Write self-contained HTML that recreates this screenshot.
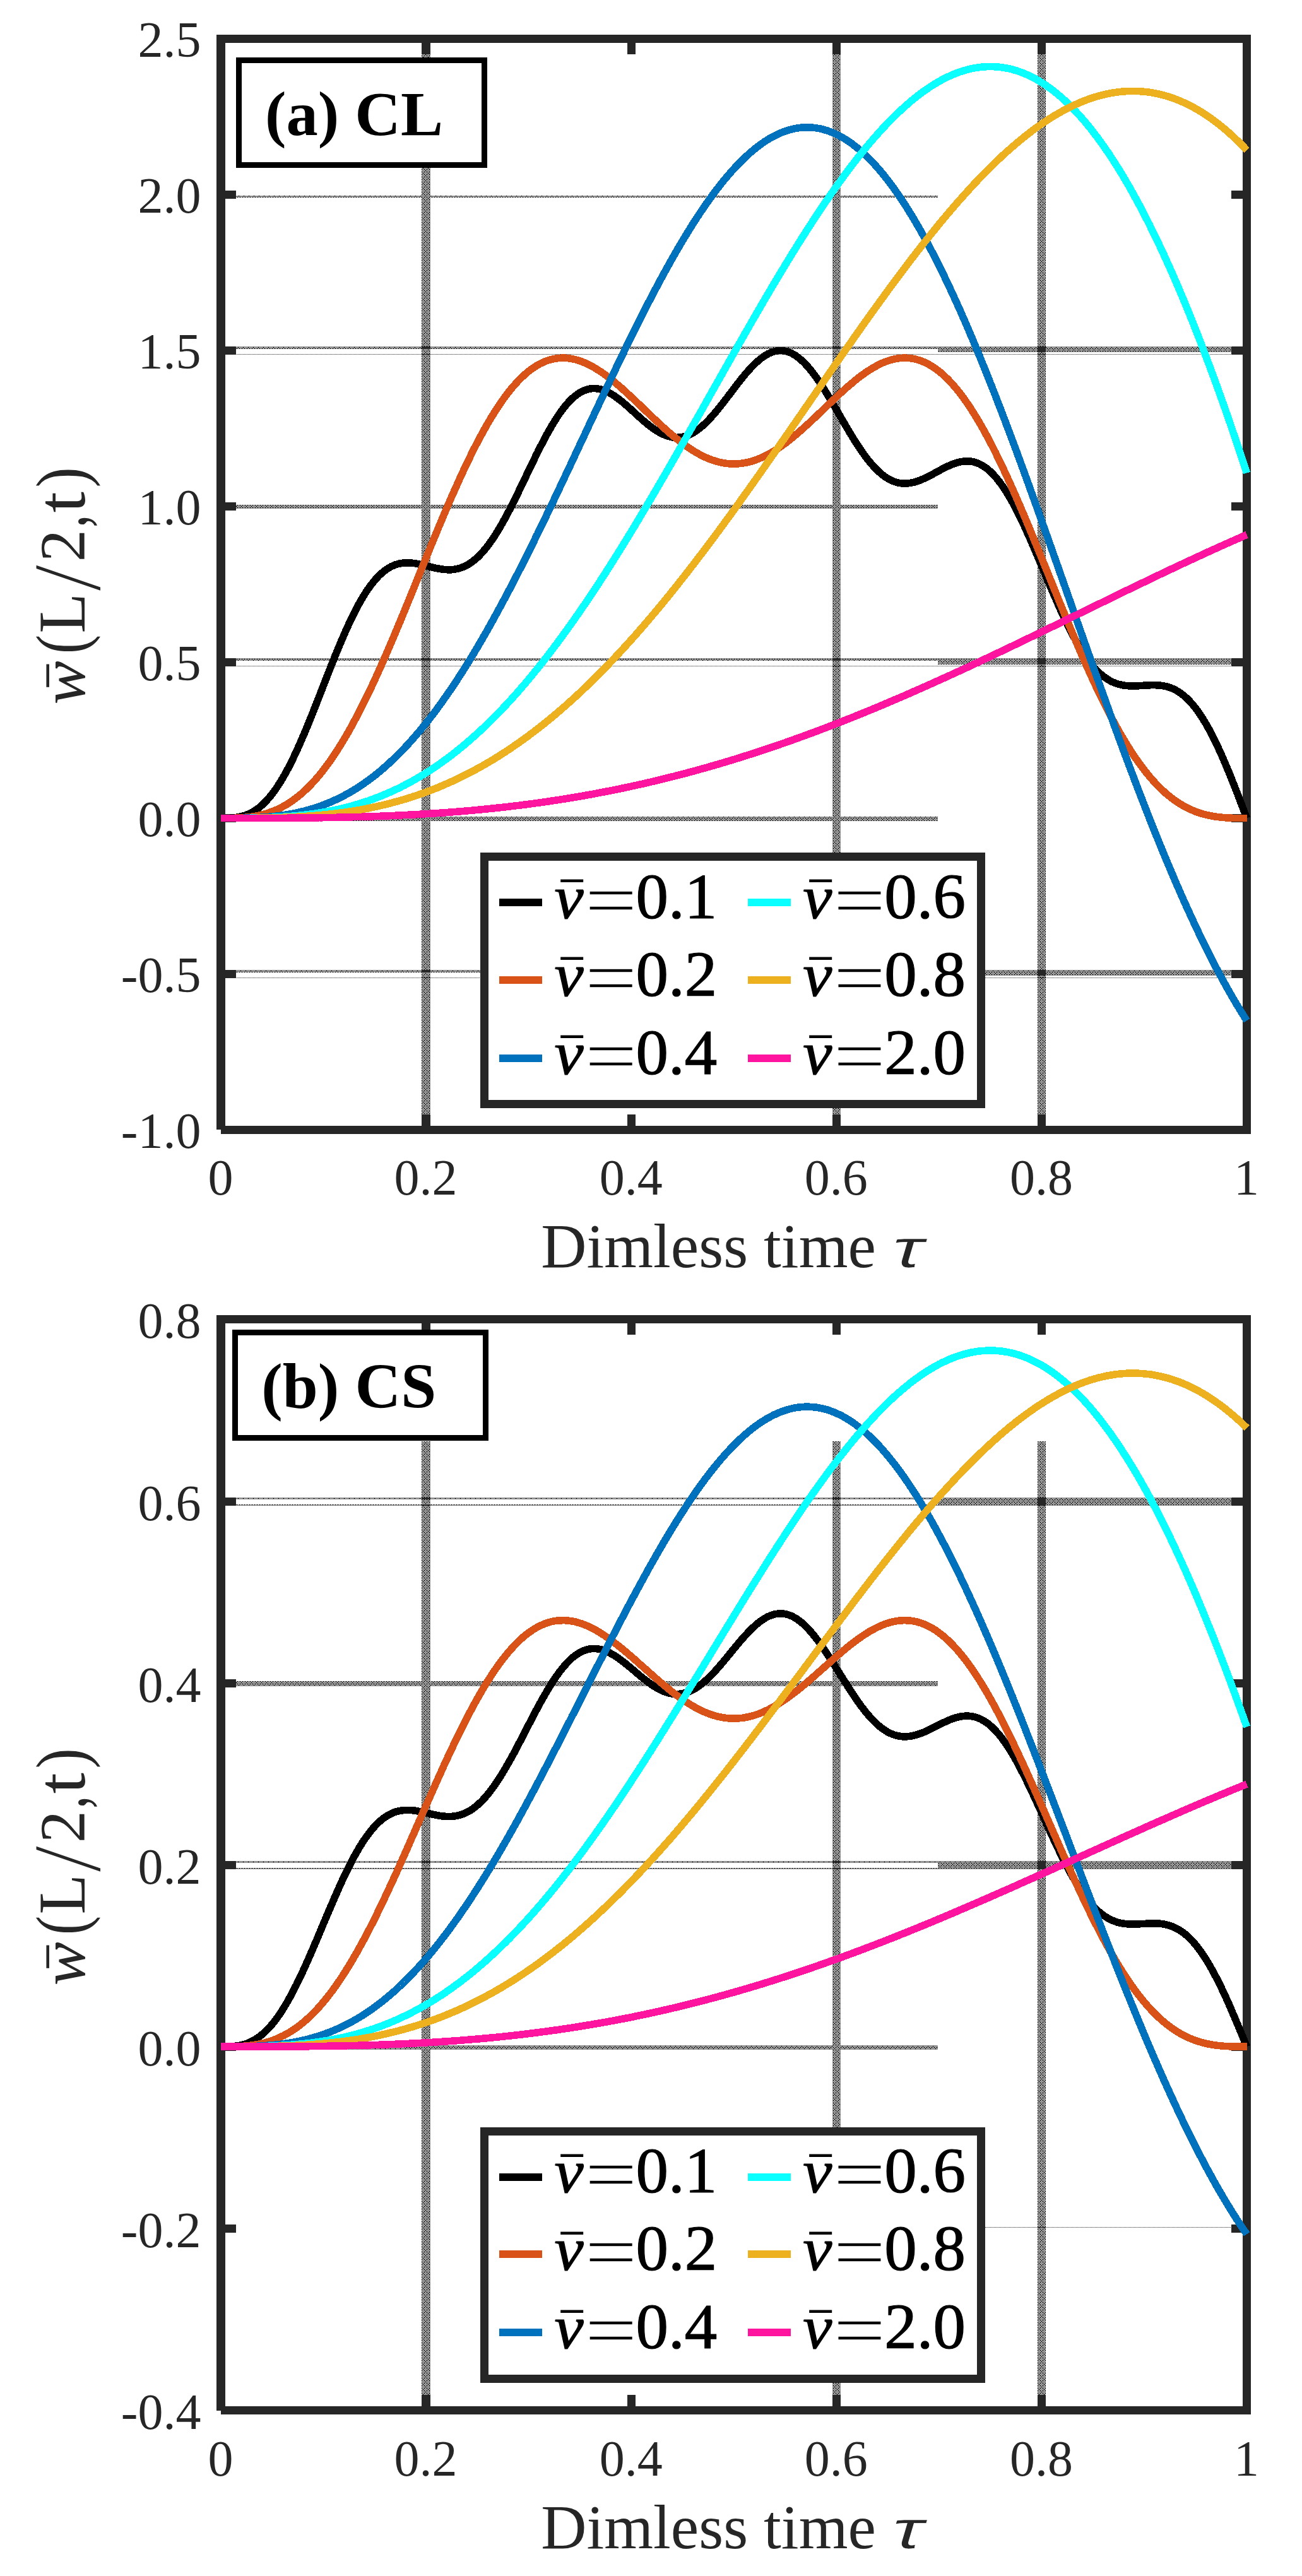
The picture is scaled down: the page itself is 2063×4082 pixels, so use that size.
<!DOCTYPE html>
<html lang="en"><head><meta charset="utf-8"><title>Midspan deflection</title>
<style>html,body{margin:0;padding:0;background:#fff}body{width:2063px;height:4082px;overflow:hidden}</style></head>
<body>
<svg width="2063" height="4082" viewBox="0 0 2063 4082" style="display:block">
<defs>
<pattern id="pA" width="8" height="8" patternUnits="userSpaceOnUse"><path d="M0 0h1v1h-1zM1 0h1v1h-1zM3 0h1v1h-1zM4 0h1v1h-1zM5 0h1v1h-1zM7 0h1v1h-1zM0 1h1v1h-1zM2 1h1v1h-1zM4 1h1v1h-1zM6 1h1v1h-1zM1 2h1v1h-1zM3 2h1v1h-1zM5 2h1v1h-1zM6 2h1v1h-1zM7 2h1v1h-1zM0 3h1v1h-1zM2 3h1v1h-1zM4 3h1v1h-1zM6 3h1v1h-1zM0 4h1v1h-1zM1 4h1v1h-1zM3 4h1v1h-1zM4 4h1v1h-1zM5 4h1v1h-1zM7 4h1v1h-1zM0 5h1v1h-1zM2 5h1v1h-1zM4 5h1v1h-1zM6 5h1v1h-1zM1 6h1v1h-1zM2 6h1v1h-1zM3 6h1v1h-1zM5 6h1v1h-1zM7 6h1v1h-1zM0 7h1v1h-1zM2 7h1v1h-1zM4 7h1v1h-1zM6 7h1v1h-1z" fill="#262626"/></pattern>
<pattern id="pB" width="8" height="8" patternUnits="userSpaceOnUse"><path d="M0 0h1v1h-1zM2 0h1v1h-1zM3 0h1v1h-1zM4 0h1v1h-1zM6 0h1v1h-1zM7 0h1v1h-1zM1 1h1v1h-1zM3 1h1v1h-1zM5 1h1v1h-1zM7 1h1v1h-1zM0 2h1v1h-1zM2 2h1v1h-1zM4 2h1v1h-1zM5 2h1v1h-1zM6 2h1v1h-1zM1 3h1v1h-1zM3 3h1v1h-1zM5 3h1v1h-1zM7 3h1v1h-1zM0 4h1v1h-1zM2 4h1v1h-1zM3 4h1v1h-1zM4 4h1v1h-1zM6 4h1v1h-1zM7 4h1v1h-1zM1 5h1v1h-1zM3 5h1v1h-1zM5 5h1v1h-1zM7 5h1v1h-1zM0 6h1v1h-1zM1 6h1v1h-1zM2 6h1v1h-1zM4 6h1v1h-1zM6 6h1v1h-1zM1 7h1v1h-1zM3 7h1v1h-1zM5 7h1v1h-1zM7 7h1v1h-1z" fill="#262626"/></pattern>
</defs>
<rect x="0" y="0" width="2063" height="4082" fill="#fff" />
<g shape-rendering="crispEdges">
<rect x="668" y="68" width="14" height="1716" fill="url(#pA)" />
<rect x="1319" y="68" width="13" height="1716" fill="url(#pA)" />
<rect x="1644" y="68" width="13" height="1716" fill="url(#pA)" />
<rect x="357" y="310" width="1129" height="3" fill="url(#pA)" />
<rect x="357" y="549" width="1129" height="4" fill="url(#pB)" />
<rect x="1486" y="549" width="483" height="9" fill="url(#pB)" />
<rect x="357" y="561" width="1612" height="1" fill="url(#pB)" />
<rect x="357" y="800" width="1129" height="6" fill="url(#pA)" />
<rect x="357" y="1043" width="1129" height="4" fill="url(#pB)" />
<rect x="1486" y="1043" width="483" height="10" fill="url(#pB)" />
<rect x="357" y="1055" width="1612" height="1" fill="url(#pB)" />
<rect x="357" y="1294" width="1129" height="7" fill="url(#pA)" />
<rect x="357" y="1537" width="1129" height="4" fill="url(#pB)" />
<rect x="1486" y="1537" width="483" height="9" fill="url(#pB)" />
<rect x="357" y="1549" width="1612" height="1" fill="url(#pB)" />
<rect x="668" y="2284" width="14" height="1529" fill="url(#pA)" />
<rect x="1319" y="2284" width="13" height="1529" fill="url(#pA)" />
<rect x="1644" y="2284" width="13" height="1529" fill="url(#pA)" />
<rect x="357" y="2373" width="1129" height="3" fill="url(#pB)" />
<rect x="357" y="2384" width="1129" height="2" fill="url(#pB)" />
<rect x="1486" y="2373" width="483" height="13" fill="url(#pB)" />
<rect x="357" y="2664" width="1129" height="8" fill="url(#pA)" />
<rect x="357" y="2949" width="1129" height="3" fill="url(#pB)" />
<rect x="357" y="2960" width="1129" height="2" fill="url(#pB)" />
<rect x="1486" y="2949" width="483" height="13" fill="url(#pB)" />
<rect x="357" y="3241" width="1129" height="7" fill="url(#pA)" />
<rect x="1561" y="3529" width="408" height="1" fill="url(#pB)" />
</g>
<g shape-rendering="crispEdges" fill="#262626">
<rect x="343" y="55" width="1639" height="13" fill="#262626" />
<rect x="350" y="1784" width="1632" height="13" fill="#262626" />
<rect x="343" y="55" width="14" height="1735" fill="#262626" />
<rect x="1969" y="55" width="13" height="1742" fill="#262626" />
<rect x="668" y="68" width="14" height="18" fill="#262626" />
<rect x="668" y="1766" width="14" height="18" fill="#262626" />
<rect x="994" y="68" width="13" height="18" fill="#262626" />
<rect x="994" y="1766" width="13" height="18" fill="#262626" />
<rect x="1319" y="68" width="13" height="18" fill="#262626" />
<rect x="1319" y="1766" width="13" height="18" fill="#262626" />
<rect x="1644" y="68" width="13" height="18" fill="#262626" />
<rect x="1644" y="1766" width="13" height="18" fill="#262626" />
<rect x="357" y="302" width="17" height="13" fill="#262626" />
<rect x="1951" y="302" width="18" height="13" fill="#262626" />
<rect x="357" y="549" width="17" height="13" fill="#262626" />
<rect x="1951" y="549" width="18" height="13" fill="#262626" />
<rect x="357" y="796" width="17" height="13" fill="#262626" />
<rect x="1951" y="796" width="18" height="13" fill="#262626" />
<rect x="357" y="1043" width="17" height="13" fill="#262626" />
<rect x="1951" y="1043" width="18" height="13" fill="#262626" />
<rect x="357" y="1290" width="17" height="13" fill="#262626" />
<rect x="1951" y="1290" width="18" height="13" fill="#262626" />
<rect x="357" y="1537" width="17" height="13" fill="#262626" />
<rect x="1951" y="1537" width="18" height="13" fill="#262626" />
</g>
<g shape-rendering="crispEdges" fill="#262626">
<rect x="343" y="2084" width="1639" height="13" fill="#262626" />
<rect x="350" y="3813" width="1632" height="13" fill="#262626" />
<rect x="343" y="2084" width="14" height="1736" fill="#262626" />
<rect x="1969" y="2084" width="13" height="1742" fill="#262626" />
<rect x="668" y="2097" width="14" height="18" fill="#262626" />
<rect x="668" y="3795" width="14" height="18" fill="#262626" />
<rect x="994" y="2097" width="13" height="18" fill="#262626" />
<rect x="994" y="3795" width="13" height="18" fill="#262626" />
<rect x="1319" y="2097" width="13" height="18" fill="#262626" />
<rect x="1319" y="3795" width="13" height="18" fill="#262626" />
<rect x="1644" y="2097" width="13" height="18" fill="#262626" />
<rect x="1644" y="3795" width="13" height="18" fill="#262626" />
<rect x="357" y="2373" width="17" height="13" fill="#262626" />
<rect x="1951" y="2373" width="18" height="13" fill="#262626" />
<rect x="357" y="2661" width="17" height="13" fill="#262626" />
<rect x="1951" y="2661" width="18" height="13" fill="#262626" />
<rect x="357" y="2949" width="17" height="13" fill="#262626" />
<rect x="1951" y="2949" width="18" height="13" fill="#262626" />
<rect x="357" y="3237" width="17" height="13" fill="#262626" />
<rect x="1951" y="3237" width="18" height="13" fill="#262626" />
<rect x="357" y="3525" width="17" height="13" fill="#262626" />
<rect x="1951" y="3525" width="18" height="13" fill="#262626" />
</g>
<g>
<polyline points="350.0,1296.5 352.0,1296.5 354.1,1296.5 356.1,1296.5 358.1,1296.5 360.2,1296.4 362.2,1296.4 364.2,1296.3 366.3,1296.2 368.3,1296.0 370.3,1295.8 372.4,1295.6 374.4,1295.3 376.4,1295.0 378.4,1294.7 380.5,1294.2 382.5,1293.8 384.5,1293.2 386.6,1292.6 388.6,1292.0 390.6,1291.2 392.7,1290.4 394.7,1289.5 396.7,1288.6 398.8,1287.5 400.8,1286.4 402.8,1285.2 404.9,1283.9 406.9,1282.5 408.9,1281.0 411.0,1279.4 413.0,1277.7 415.0,1275.9 417.1,1274.1 419.1,1272.1 421.1,1270.0 423.1,1267.8 425.2,1265.5 427.2,1263.2 429.2,1260.7 431.3,1258.1 433.3,1255.4 435.3,1252.6 437.4,1249.7 439.4,1246.7 441.4,1243.6 443.5,1240.4 445.5,1237.1 447.5,1233.7 449.6,1230.2 451.6,1226.6 453.6,1222.9 455.7,1219.1 457.7,1215.3 459.7,1211.3 461.8,1207.2 463.8,1203.1 465.8,1198.9 467.8,1194.6 469.9,1190.2 471.9,1185.8 473.9,1181.2 476.0,1176.6 478.0,1172.0 480.0,1167.3 482.1,1162.5 484.1,1157.6 486.1,1152.8 488.2,1147.8 490.2,1142.8 492.2,1137.8 494.3,1132.8 496.3,1127.7 498.3,1122.5 500.4,1117.4 502.4,1112.2 504.4,1107.0 506.5,1101.8 508.5,1096.6 510.5,1091.4 512.5,1086.2 514.6,1081.0 516.6,1075.8 518.6,1070.6 520.7,1065.4 522.7,1060.3 524.7,1055.1 526.8,1050.0 528.8,1045.0 530.8,1039.9 532.9,1034.9 534.9,1030.0 536.9,1025.1 539.0,1020.2 541.0,1015.4 543.0,1010.7 545.1,1006.0 547.1,1001.4 549.1,996.8 551.2,992.4 553.2,988.0 555.2,983.6 557.3,979.4 559.3,975.2 561.3,971.2 563.3,967.2 565.4,963.3 567.4,959.5 569.4,955.8 571.5,952.2 573.5,948.7 575.5,945.3 577.6,942.0 579.6,938.8 581.6,935.7 583.7,932.8 585.7,929.9 587.7,927.1 589.8,924.5 591.8,921.9 593.8,919.5 595.9,917.2 597.9,915.0 599.9,912.8 602.0,910.8 604.0,909.0 606.0,907.2 608.0,905.5 610.1,903.9 612.1,902.5 614.1,901.1 616.2,899.9 618.2,898.7 620.2,897.6 622.3,896.7 624.3,895.8 626.3,895.0 628.4,894.3 630.4,893.7 632.4,893.2 634.5,892.8 636.5,892.5 638.5,892.2 640.6,892.0 642.6,891.9 644.6,891.8 646.7,891.8 648.7,891.9 650.7,892.0 652.7,892.2 654.8,892.4 656.8,892.6 658.8,893.0 660.9,893.3 662.9,893.7 664.9,894.1 667.0,894.6 669.0,895.0 671.0,895.5 673.1,896.0 675.1,896.5 677.1,897.0 679.2,897.5 681.2,898.0 683.2,898.5 685.3,899.0 687.3,899.5 689.3,900.0 691.4,900.4 693.4,900.8 695.4,901.2 697.5,901.6 699.5,901.9 701.5,902.2 703.5,902.4 705.6,902.6 707.6,902.7 709.6,902.8 711.7,902.8 713.7,902.8 715.7,902.7 717.8,902.5 719.8,902.2 721.8,901.9 723.9,901.5 725.9,901.0 727.9,900.5 730.0,899.9 732.0,899.1 734.0,898.3 736.1,897.4 738.1,896.4 740.1,895.4 742.2,894.2 744.2,892.9 746.2,891.6 748.2,890.1 750.3,888.6 752.3,886.9 754.3,885.2 756.4,883.4 758.4,881.4 760.4,879.4 762.5,877.2 764.5,875.0 766.5,872.7 768.6,870.3 770.6,867.8 772.6,865.1 774.7,862.4 776.7,859.6 778.7,856.8 780.8,853.8 782.8,850.7 784.8,847.6 786.9,844.4 788.9,841.1 790.9,837.7 792.9,834.3 795.0,830.7 797.0,827.1 799.0,823.5 801.1,819.8 803.1,816.0 805.1,812.1 807.2,808.3 809.2,804.3 811.2,800.3 813.3,796.3 815.3,792.2 817.3,788.1 819.4,784.0 821.4,779.8 823.4,775.6 825.5,771.4 827.5,767.2 829.5,762.9 831.6,758.7 833.6,754.4 835.6,750.2 837.6,745.9 839.7,741.7 841.7,737.5 843.7,733.3 845.8,729.1 847.8,724.9 849.8,720.8 851.9,716.7 853.9,712.6 855.9,708.6 858.0,704.6 860.0,700.7 862.0,696.8 864.1,693.0 866.1,689.2 868.1,685.5 870.2,681.9 872.2,678.4 874.2,674.9 876.3,671.5 878.3,668.1 880.3,664.9 882.4,661.7 884.4,658.7 886.4,655.7 888.4,652.8 890.5,650.0 892.5,647.3 894.5,644.7 896.6,642.3 898.6,639.9 900.6,637.6 902.7,635.4 904.7,633.4 906.7,631.4 908.8,629.6 910.8,627.9 912.8,626.3 914.9,624.8 916.9,623.4 918.9,622.1 921.0,620.9 923.0,619.9 925.0,619.0 927.1,618.2 929.1,617.5 931.1,616.9 933.1,616.4 935.2,616.0 937.2,615.8 939.2,615.6 941.3,615.6 943.3,615.6 945.3,615.8 947.4,616.1 949.4,616.4 951.4,616.9 953.5,617.4 955.5,618.1 957.5,618.8 959.6,619.7 961.6,620.6 963.6,621.6 965.7,622.6 967.7,623.8 969.7,625.0 971.8,626.3 973.8,627.6 975.8,629.0 977.8,630.5 979.9,632.0 981.9,633.6 983.9,635.2 986.0,636.8 988.0,638.5 990.0,640.3 992.1,642.0 994.1,643.8 996.1,645.6 998.2,647.4 1000.2,649.3 1002.2,651.1 1004.3,653.0 1006.3,654.9 1008.3,656.7 1010.4,658.6 1012.4,660.4 1014.4,662.2 1016.5,664.0 1018.5,665.8 1020.5,667.6 1022.6,669.3 1024.6,671.0 1026.6,672.6 1028.6,674.3 1030.7,675.8 1032.7,677.4 1034.7,678.8 1036.8,680.2 1038.8,681.6 1040.8,682.9 1042.9,684.1 1044.9,685.3 1046.9,686.4 1049.0,687.4 1051.0,688.4 1053.0,689.2 1055.1,690.0 1057.1,690.8 1059.1,691.4 1061.2,691.9 1063.2,692.4 1065.2,692.8 1067.3,693.0 1069.3,693.2 1071.3,693.3 1073.3,693.3 1075.4,693.2 1077.4,693.1 1079.4,692.8 1081.5,692.4 1083.5,691.9 1085.5,691.4 1087.6,690.7 1089.6,690.0 1091.6,689.1 1093.7,688.2 1095.7,687.2 1097.7,686.1 1099.8,684.9 1101.8,683.6 1103.8,682.2 1105.9,680.7 1107.9,679.2 1109.9,677.5 1112.0,675.8 1114.0,674.1 1116.0,672.2 1118.0,670.3 1120.1,668.3 1122.1,666.2 1124.1,664.1 1126.2,661.9 1128.2,659.6 1130.2,657.3 1132.3,655.0 1134.3,652.6 1136.3,650.1 1138.4,647.6 1140.4,645.1 1142.4,642.5 1144.5,640.0 1146.5,637.3 1148.5,634.7 1150.6,632.1 1152.6,629.4 1154.6,626.7 1156.7,624.0 1158.7,621.3 1160.7,618.7 1162.8,616.0 1164.8,613.3 1166.8,610.7 1168.8,608.0 1170.9,605.4 1172.9,602.8 1174.9,600.3 1177.0,597.8 1179.0,595.3 1181.0,592.8 1183.1,590.5 1185.1,588.1 1187.1,585.8 1189.2,583.6 1191.2,581.4 1193.2,579.4 1195.3,577.3 1197.3,575.4 1199.3,573.5 1201.4,571.7 1203.4,570.0 1205.4,568.3 1207.5,566.8 1209.5,565.3 1211.5,563.9 1213.5,562.7 1215.6,561.5 1217.6,560.4 1219.6,559.5 1221.7,558.6 1223.7,557.8 1225.7,557.2 1227.8,556.6 1229.8,556.2 1231.8,555.9 1233.9,555.7 1235.9,555.6 1237.9,555.6 1240.0,555.7 1242.0,555.9 1244.0,556.3 1246.1,556.8 1248.1,557.4 1250.1,558.1 1252.2,558.9 1254.2,559.8 1256.2,560.9 1258.2,562.0 1260.3,563.3 1262.3,564.7 1264.3,566.2 1266.4,567.8 1268.4,569.5 1270.4,571.3 1272.5,573.2 1274.5,575.2 1276.5,577.3 1278.6,579.5 1280.6,581.8 1282.6,584.2 1284.7,586.7 1286.7,589.2 1288.7,591.9 1290.8,594.6 1292.8,597.4 1294.8,600.2 1296.9,603.1 1298.9,606.1 1300.9,609.2 1302.9,612.3 1305.0,615.5 1307.0,618.7 1309.0,622.0 1311.1,625.3 1313.1,628.6 1315.1,632.0 1317.2,635.4 1319.2,638.9 1321.2,642.3 1323.3,645.8 1325.3,649.3 1327.3,652.8 1329.4,656.3 1331.4,659.8 1333.4,663.3 1335.5,666.8 1337.5,670.3 1339.5,673.8 1341.6,677.2 1343.6,680.7 1345.6,684.1 1347.7,687.5 1349.7,690.8 1351.7,694.1 1353.7,697.4 1355.8,700.6 1357.8,703.8 1359.8,706.9 1361.9,709.9 1363.9,713.0 1365.9,715.9 1368.0,718.8 1370.0,721.6 1372.0,724.3 1374.1,727.0 1376.1,729.6 1378.1,732.1 1380.2,734.5 1382.2,736.9 1384.2,739.2 1386.3,741.4 1388.3,743.5 1390.3,745.5 1392.4,747.4 1394.4,749.2 1396.4,750.9 1398.4,752.6 1400.5,754.1 1402.5,755.6 1404.5,756.9 1406.6,758.2 1408.6,759.4 1410.6,760.4 1412.7,761.4 1414.7,762.3 1416.7,763.1 1418.8,763.8 1420.8,764.4 1422.8,764.9 1424.9,765.3 1426.9,765.6 1428.9,765.9 1431.0,766.0 1433.0,766.1 1435.0,766.1 1437.1,766.0 1439.1,765.8 1441.1,765.6 1443.1,765.2 1445.2,764.8 1447.2,764.4 1449.2,763.9 1451.3,763.3 1453.3,762.6 1455.3,761.9 1457.4,761.2 1459.4,760.4 1461.4,759.5 1463.5,758.6 1465.5,757.7 1467.5,756.7 1469.6,755.7 1471.6,754.7 1473.6,753.6 1475.7,752.6 1477.7,751.5 1479.7,750.4 1481.8,749.3 1483.8,748.2 1485.8,747.1 1487.8,745.9 1489.9,744.8 1491.9,743.8 1493.9,742.7 1496.0,741.7 1498.0,740.6 1500.0,739.6 1502.1,738.7 1504.1,737.8 1506.1,736.9 1508.2,736.0 1510.2,735.2 1512.2,734.5 1514.3,733.8 1516.3,733.2 1518.3,732.6 1520.4,732.1 1522.4,731.7 1524.4,731.4 1526.5,731.1 1528.5,730.9 1530.5,730.8 1532.6,730.8 1534.6,730.8 1536.6,731.0 1538.6,731.2 1540.7,731.6 1542.7,732.0 1544.7,732.5 1546.8,733.2 1548.8,733.9 1550.8,734.7 1552.9,735.7 1554.9,736.8 1556.9,737.9 1559.0,739.2 1561.0,740.6 1563.0,742.1 1565.1,743.7 1567.1,745.4 1569.1,747.2 1571.2,749.2 1573.2,751.2 1575.2,753.4 1577.3,755.7 1579.3,758.1 1581.3,760.6 1583.3,763.2 1585.4,765.9 1587.4,768.8 1589.4,771.7 1591.5,774.7 1593.5,777.9 1595.5,781.1 1597.6,784.4 1599.6,787.9 1601.6,791.4 1603.7,795.0 1605.7,798.7 1607.7,802.5 1609.8,806.4 1611.8,810.4 1613.8,814.4 1615.9,818.5 1617.9,822.7 1619.9,827.0 1622.0,831.3 1624.0,835.7 1626.0,840.1 1628.0,844.6 1630.1,849.2 1632.1,853.7 1634.1,858.4 1636.2,863.0 1638.2,867.8 1640.2,872.5 1642.3,877.3 1644.3,882.0 1646.3,886.8 1648.4,891.7 1650.4,896.5 1652.4,901.3 1654.5,906.2 1656.5,911.0 1658.5,915.8 1660.6,920.7 1662.6,925.5 1664.6,930.3 1666.7,935.0 1668.7,939.8 1670.7,944.5 1672.8,949.1 1674.8,953.8 1676.8,958.4 1678.8,962.9 1680.9,967.4 1682.9,971.9 1684.9,976.2 1687.0,980.6 1689.0,984.8 1691.0,989.0 1693.1,993.2 1695.1,997.2 1697.1,1001.2 1699.2,1005.1 1701.2,1009.0 1703.2,1012.7 1705.3,1016.4 1707.3,1020.0 1709.3,1023.5 1711.4,1026.9 1713.4,1030.2 1715.4,1033.4 1717.5,1036.5 1719.5,1039.5 1721.5,1042.4 1723.5,1045.3 1725.6,1048.0 1727.6,1050.6 1729.6,1053.2 1731.7,1055.6 1733.7,1057.9 1735.7,1060.2 1737.8,1062.3 1739.8,1064.3 1741.8,1066.3 1743.9,1068.1 1745.9,1069.8 1747.9,1071.5 1750.0,1073.0 1752.0,1074.5 1754.0,1075.8 1756.1,1077.1 1758.1,1078.3 1760.1,1079.4 1762.2,1080.4 1764.2,1081.3 1766.2,1082.1 1768.2,1082.9 1770.3,1083.6 1772.3,1084.2 1774.3,1084.7 1776.4,1085.2 1778.4,1085.6 1780.4,1086.0 1782.5,1086.3 1784.5,1086.5 1786.5,1086.7 1788.6,1086.8 1790.6,1086.9 1792.6,1087.0 1794.7,1087.0 1796.7,1087.0 1798.7,1087.0 1800.8,1086.9 1802.8,1086.8 1804.8,1086.7 1806.9,1086.6 1808.9,1086.5 1810.9,1086.3 1813.0,1086.2 1815.0,1086.1 1817.0,1086.0 1819.0,1085.8 1821.1,1085.8 1823.1,1085.7 1825.1,1085.6 1827.2,1085.6 1829.2,1085.6 1831.2,1085.7 1833.3,1085.7 1835.3,1085.9 1837.3,1086.0 1839.4,1086.3 1841.4,1086.5 1843.4,1086.9 1845.5,1087.3 1847.5,1087.7 1849.5,1088.2 1851.6,1088.8 1853.6,1089.5 1855.6,1090.3 1857.7,1091.1 1859.7,1092.0 1861.7,1093.0 1863.7,1094.1 1865.8,1095.2 1867.8,1096.5 1869.8,1097.9 1871.9,1099.3 1873.9,1100.9 1875.9,1102.5 1878.0,1104.3 1880.0,1106.1 1882.0,1108.1 1884.1,1110.1 1886.1,1112.3 1888.1,1114.6 1890.2,1116.9 1892.2,1119.4 1894.2,1122.0 1896.3,1124.7 1898.3,1127.5 1900.3,1130.4 1902.4,1133.4 1904.4,1136.5 1906.4,1139.7 1908.4,1143.1 1910.5,1146.5 1912.5,1150.0 1914.5,1153.6 1916.6,1157.4 1918.6,1161.2 1920.6,1165.1 1922.7,1169.1 1924.7,1173.2 1926.7,1177.4 1928.8,1181.7 1930.8,1186.0 1932.8,1190.5 1934.9,1195.0 1936.9,1199.6 1938.9,1204.2 1941.0,1209.0 1943.0,1213.8 1945.0,1218.6 1947.1,1223.5 1949.1,1228.5 1951.1,1233.5 1953.1,1238.6 1955.2,1243.7 1957.2,1248.9 1959.2,1254.1 1961.3,1259.3 1963.3,1264.6 1965.3,1269.9 1967.4,1275.2 1969.4,1280.5 1971.4,1285.8 1973.5,1291.2 1975.5,1296.5" fill="none" stroke="#000000" stroke-width="11.6" stroke-linejoin="round" stroke-linecap="butt" shape-rendering="crispEdges"/>
<polyline points="350.0,1296.5 352.0,1296.5 354.1,1296.5 356.1,1296.5 358.1,1296.5 360.2,1296.5 362.2,1296.5 364.2,1296.4 366.3,1296.4 368.3,1296.4 370.3,1296.3 372.4,1296.3 374.4,1296.2 376.4,1296.1 378.4,1296.0 380.5,1295.9 382.5,1295.8 384.5,1295.7 386.6,1295.5 388.6,1295.3 390.6,1295.2 392.7,1294.9 394.7,1294.7 396.7,1294.5 398.8,1294.2 400.8,1293.9 402.8,1293.6 404.9,1293.2 406.9,1292.8 408.9,1292.4 411.0,1292.0 413.0,1291.5 415.0,1291.0 417.1,1290.5 419.1,1290.0 421.1,1289.4 423.1,1288.8 425.2,1288.1 427.2,1287.4 429.2,1286.7 431.3,1286.0 433.3,1285.2 435.3,1284.3 437.4,1283.5 439.4,1282.6 441.4,1281.6 443.5,1280.6 445.5,1279.6 447.5,1278.5 449.6,1277.4 451.6,1276.3 453.6,1275.1 455.7,1273.9 457.7,1272.6 459.7,1271.3 461.8,1269.9 463.8,1268.5 465.8,1267.0 467.8,1265.5 469.9,1263.9 471.9,1262.3 473.9,1260.7 476.0,1259.0 478.0,1257.3 480.0,1255.5 482.1,1253.6 484.1,1251.7 486.1,1249.8 488.2,1247.8 490.2,1245.8 492.2,1243.7 494.3,1241.5 496.3,1239.3 498.3,1237.1 500.4,1234.8 502.4,1232.5 504.4,1230.1 506.5,1227.6 508.5,1225.1 510.5,1222.6 512.5,1220.0 514.6,1217.3 516.6,1214.6 518.6,1211.9 520.7,1209.1 522.7,1206.3 524.7,1203.4 526.8,1200.4 528.8,1197.4 530.8,1194.4 532.9,1191.3 534.9,1188.1 536.9,1184.9 539.0,1181.7 541.0,1178.4 543.0,1175.0 545.1,1171.6 547.1,1168.2 549.1,1164.7 551.2,1161.2 553.2,1157.6 555.2,1154.0 557.3,1150.3 559.3,1146.6 561.3,1142.8 563.3,1139.0 565.4,1135.2 567.4,1131.3 569.4,1127.4 571.5,1123.4 573.5,1119.4 575.5,1115.3 577.6,1111.2 579.6,1107.1 581.6,1102.9 583.7,1098.7 585.7,1094.5 587.7,1090.2 589.8,1085.9 591.8,1081.5 593.8,1077.1 595.9,1072.7 597.9,1068.3 599.9,1063.8 602.0,1059.3 604.0,1054.7 606.0,1050.1 608.0,1045.5 610.1,1040.9 612.1,1036.3 614.1,1031.6 616.2,1026.9 618.2,1022.1 620.2,1017.4 622.3,1012.6 624.3,1007.8 626.3,1003.0 628.4,998.1 630.4,993.3 632.4,988.4 634.5,983.5 636.5,978.6 638.5,973.7 640.6,968.8 642.6,963.8 644.6,958.9 646.7,953.9 648.7,948.9 650.7,944.0 652.7,939.0 654.8,934.0 656.8,929.0 658.8,924.0 660.9,919.0 662.9,914.0 664.9,909.0 667.0,904.0 669.0,899.0 671.0,894.0 673.1,889.0 675.1,884.0 677.1,879.0 679.2,874.0 681.2,869.1 683.2,864.1 685.3,859.2 687.3,854.2 689.3,849.3 691.4,844.4 693.4,839.5 695.4,834.6 697.5,829.8 699.5,824.9 701.5,820.1 703.5,815.3 705.6,810.5 707.6,805.8 709.6,801.1 711.7,796.3 713.7,791.7 715.7,787.0 717.8,782.4 719.8,777.8 721.8,773.2 723.9,768.7 725.9,764.2 727.9,759.7 730.0,755.3 732.0,750.9 734.0,746.5 736.1,742.1 738.1,737.9 740.1,733.6 742.2,729.4 744.2,725.2 746.2,721.1 748.2,717.0 750.3,712.9 752.3,708.9 754.3,704.9 756.4,701.0 758.4,697.1 760.4,693.3 762.5,689.5 764.5,685.8 766.5,682.1 768.6,678.5 770.6,674.9 772.6,671.4 774.7,667.9 776.7,664.5 778.7,661.1 780.8,657.8 782.8,654.5 784.8,651.3 786.9,648.1 788.9,645.0 790.9,642.0 792.9,639.0 795.0,636.1 797.0,633.2 799.0,630.4 801.1,627.6 803.1,624.9 805.1,622.3 807.2,619.7 809.2,617.2 811.2,614.7 813.3,612.3 815.3,610.0 817.3,607.7 819.4,605.5 821.4,603.3 823.4,601.3 825.5,599.2 827.5,597.3 829.5,595.4 831.6,593.5 833.6,591.7 835.6,590.0 837.6,588.4 839.7,586.8 841.7,585.3 843.7,583.8 845.8,582.4 847.8,581.1 849.8,579.8 851.9,578.6 853.9,577.4 855.9,576.3 858.0,575.3 860.0,574.4 862.0,573.5 864.1,572.6 866.1,571.8 868.1,571.1 870.2,570.5 872.2,569.9 874.2,569.3 876.3,568.9 878.3,568.5 880.3,568.1 882.4,567.8 884.4,567.6 886.4,567.4 888.4,567.3 890.5,567.2 892.5,567.2 894.5,567.2 896.6,567.3 898.6,567.5 900.6,567.7 902.7,568.0 904.7,568.3 906.7,568.7 908.8,569.1 910.8,569.6 912.8,570.1 914.9,570.7 916.9,571.3 918.9,572.0 921.0,572.7 923.0,573.4 925.0,574.3 927.1,575.1 929.1,576.0 931.1,577.0 933.1,578.0 935.2,579.0 937.2,580.1 939.2,581.2 941.3,582.4 943.3,583.6 945.3,584.8 947.4,586.1 949.4,587.4 951.4,588.7 953.5,590.1 955.5,591.5 957.5,592.9 959.6,594.4 961.6,595.9 963.6,597.5 965.7,599.0 967.7,600.6 969.7,602.2 971.8,603.9 973.8,605.6 975.8,607.3 977.8,609.0 979.9,610.7 981.9,612.5 983.9,614.2 986.0,616.0 988.0,617.9 990.0,619.7 992.1,621.5 994.1,623.4 996.1,625.3 998.2,627.2 1000.2,629.1 1002.2,631.0 1004.3,632.9 1006.3,634.8 1008.3,636.7 1010.4,638.7 1012.4,640.6 1014.4,642.6 1016.5,644.5 1018.5,646.5 1020.5,648.4 1022.6,650.4 1024.6,652.4 1026.6,654.3 1028.6,656.2 1030.7,658.2 1032.7,660.1 1034.7,662.1 1036.8,664.0 1038.8,665.9 1040.8,667.8 1042.9,669.7 1044.9,671.6 1046.9,673.5 1049.0,675.3 1051.0,677.2 1053.0,679.0 1055.1,680.8 1057.1,682.6 1059.1,684.4 1061.2,686.2 1063.2,687.9 1065.2,689.6 1067.3,691.3 1069.3,693.0 1071.3,694.7 1073.3,696.3 1075.4,697.9 1077.4,699.5 1079.4,701.1 1081.5,702.6 1083.5,704.1 1085.5,705.6 1087.6,707.0 1089.6,708.4 1091.6,709.8 1093.7,711.2 1095.7,712.5 1097.7,713.8 1099.8,715.1 1101.8,716.3 1103.8,717.5 1105.9,718.6 1107.9,719.7 1109.9,720.8 1112.0,721.9 1114.0,722.9 1116.0,723.9 1118.0,724.8 1120.1,725.7 1122.1,726.5 1124.1,727.4 1126.2,728.1 1128.2,728.9 1130.2,729.6 1132.3,730.2 1134.3,730.9 1136.3,731.4 1138.4,732.0 1140.4,732.5 1142.4,732.9 1144.5,733.3 1146.5,733.7 1148.5,734.0 1150.6,734.3 1152.6,734.5 1154.6,734.7 1156.7,734.9 1158.7,735.0 1160.7,735.0 1162.8,735.1 1164.8,735.0 1166.8,735.0 1168.8,734.9 1170.9,734.7 1172.9,734.5 1174.9,734.3 1177.0,734.0 1179.0,733.7 1181.0,733.3 1183.1,732.9 1185.1,732.5 1187.1,732.0 1189.2,731.4 1191.2,730.9 1193.2,730.2 1195.3,729.6 1197.3,728.9 1199.3,728.1 1201.4,727.4 1203.4,726.5 1205.4,725.7 1207.5,724.8 1209.5,723.9 1211.5,722.9 1213.5,721.9 1215.6,720.8 1217.6,719.7 1219.6,718.6 1221.7,717.5 1223.7,716.3 1225.7,715.1 1227.8,713.8 1229.8,712.5 1231.8,711.2 1233.9,709.8 1235.9,708.4 1237.9,707.0 1240.0,705.6 1242.0,704.1 1244.0,702.6 1246.1,701.1 1248.1,699.5 1250.1,697.9 1252.2,696.3 1254.2,694.7 1256.2,693.0 1258.2,691.3 1260.3,689.6 1262.3,687.9 1264.3,686.2 1266.4,684.4 1268.4,682.6 1270.4,680.8 1272.5,679.0 1274.5,677.2 1276.5,675.3 1278.6,673.5 1280.6,671.6 1282.6,669.7 1284.7,667.8 1286.7,665.9 1288.7,664.0 1290.8,662.1 1292.8,660.1 1294.8,658.2 1296.9,656.2 1298.9,654.3 1300.9,652.4 1302.9,650.4 1305.0,648.4 1307.0,646.5 1309.0,644.5 1311.1,642.6 1313.1,640.6 1315.1,638.7 1317.2,636.7 1319.2,634.8 1321.2,632.9 1323.3,631.0 1325.3,629.1 1327.3,627.2 1329.4,625.3 1331.4,623.4 1333.4,621.5 1335.5,619.7 1337.5,617.9 1339.5,616.0 1341.6,614.2 1343.6,612.5 1345.6,610.7 1347.7,609.0 1349.7,607.3 1351.7,605.6 1353.7,603.9 1355.8,602.2 1357.8,600.6 1359.8,599.0 1361.9,597.5 1363.9,595.9 1365.9,594.4 1368.0,592.9 1370.0,591.5 1372.0,590.1 1374.1,588.7 1376.1,587.4 1378.1,586.1 1380.2,584.8 1382.2,583.6 1384.2,582.4 1386.3,581.2 1388.3,580.1 1390.3,579.0 1392.4,578.0 1394.4,577.0 1396.4,576.0 1398.4,575.1 1400.5,574.3 1402.5,573.4 1404.5,572.7 1406.6,572.0 1408.6,571.3 1410.6,570.7 1412.7,570.1 1414.7,569.6 1416.7,569.1 1418.8,568.7 1420.8,568.3 1422.8,568.0 1424.9,567.7 1426.9,567.5 1428.9,567.3 1431.0,567.2 1433.0,567.2 1435.0,567.2 1437.1,567.3 1439.1,567.4 1441.1,567.6 1443.1,567.8 1445.2,568.1 1447.2,568.5 1449.2,568.9 1451.3,569.3 1453.3,569.9 1455.3,570.5 1457.4,571.1 1459.4,571.8 1461.4,572.6 1463.5,573.5 1465.5,574.4 1467.5,575.3 1469.6,576.3 1471.6,577.4 1473.6,578.6 1475.7,579.8 1477.7,581.1 1479.7,582.4 1481.8,583.8 1483.8,585.3 1485.8,586.8 1487.8,588.4 1489.9,590.0 1491.9,591.7 1493.9,593.5 1496.0,595.4 1498.0,597.3 1500.0,599.2 1502.1,601.3 1504.1,603.3 1506.1,605.5 1508.2,607.7 1510.2,610.0 1512.2,612.3 1514.3,614.7 1516.3,617.2 1518.3,619.7 1520.4,622.3 1522.4,624.9 1524.4,627.6 1526.5,630.4 1528.5,633.2 1530.5,636.1 1532.6,639.0 1534.6,642.0 1536.6,645.0 1538.6,648.1 1540.7,651.3 1542.7,654.5 1544.7,657.8 1546.8,661.1 1548.8,664.5 1550.8,667.9 1552.9,671.4 1554.9,674.9 1556.9,678.5 1559.0,682.1 1561.0,685.8 1563.0,689.5 1565.1,693.3 1567.1,697.1 1569.1,701.0 1571.2,704.9 1573.2,708.9 1575.2,712.9 1577.3,717.0 1579.3,721.1 1581.3,725.2 1583.3,729.4 1585.4,733.6 1587.4,737.9 1589.4,742.1 1591.5,746.5 1593.5,750.9 1595.5,755.3 1597.6,759.7 1599.6,764.2 1601.6,768.7 1603.7,773.2 1605.7,777.8 1607.7,782.4 1609.8,787.0 1611.8,791.7 1613.8,796.3 1615.9,801.1 1617.9,805.8 1619.9,810.5 1622.0,815.3 1624.0,820.1 1626.0,824.9 1628.0,829.8 1630.1,834.6 1632.1,839.5 1634.1,844.4 1636.2,849.3 1638.2,854.2 1640.2,859.2 1642.3,864.1 1644.3,869.1 1646.3,874.0 1648.4,879.0 1650.4,884.0 1652.4,889.0 1654.5,894.0 1656.5,899.0 1658.5,904.0 1660.6,909.0 1662.6,914.0 1664.6,919.0 1666.7,924.0 1668.7,929.0 1670.7,934.0 1672.8,939.0 1674.8,944.0 1676.8,948.9 1678.8,953.9 1680.9,958.9 1682.9,963.8 1684.9,968.8 1687.0,973.7 1689.0,978.6 1691.0,983.5 1693.1,988.4 1695.1,993.3 1697.1,998.1 1699.2,1003.0 1701.2,1007.8 1703.2,1012.6 1705.3,1017.4 1707.3,1022.1 1709.3,1026.9 1711.4,1031.6 1713.4,1036.3 1715.4,1040.9 1717.5,1045.5 1719.5,1050.1 1721.5,1054.7 1723.5,1059.3 1725.6,1063.8 1727.6,1068.3 1729.6,1072.7 1731.7,1077.1 1733.7,1081.5 1735.7,1085.9 1737.8,1090.2 1739.8,1094.5 1741.8,1098.7 1743.9,1102.9 1745.9,1107.1 1747.9,1111.2 1750.0,1115.3 1752.0,1119.4 1754.0,1123.4 1756.1,1127.4 1758.1,1131.3 1760.1,1135.2 1762.2,1139.0 1764.2,1142.8 1766.2,1146.6 1768.2,1150.3 1770.3,1154.0 1772.3,1157.6 1774.3,1161.2 1776.4,1164.7 1778.4,1168.2 1780.4,1171.6 1782.5,1175.0 1784.5,1178.4 1786.5,1181.7 1788.6,1184.9 1790.6,1188.1 1792.6,1191.3 1794.7,1194.4 1796.7,1197.4 1798.7,1200.4 1800.8,1203.4 1802.8,1206.3 1804.8,1209.1 1806.9,1211.9 1808.9,1214.6 1810.9,1217.3 1813.0,1220.0 1815.0,1222.6 1817.0,1225.1 1819.0,1227.6 1821.1,1230.1 1823.1,1232.5 1825.1,1234.8 1827.2,1237.1 1829.2,1239.3 1831.2,1241.5 1833.3,1243.7 1835.3,1245.8 1837.3,1247.8 1839.4,1249.8 1841.4,1251.7 1843.4,1253.6 1845.5,1255.5 1847.5,1257.3 1849.5,1259.0 1851.6,1260.7 1853.6,1262.3 1855.6,1263.9 1857.7,1265.5 1859.7,1267.0 1861.7,1268.5 1863.7,1269.9 1865.8,1271.3 1867.8,1272.6 1869.8,1273.9 1871.9,1275.1 1873.9,1276.3 1875.9,1277.4 1878.0,1278.5 1880.0,1279.6 1882.0,1280.6 1884.1,1281.6 1886.1,1282.6 1888.1,1283.5 1890.2,1284.3 1892.2,1285.2 1894.2,1286.0 1896.3,1286.7 1898.3,1287.4 1900.3,1288.1 1902.4,1288.8 1904.4,1289.4 1906.4,1290.0 1908.4,1290.5 1910.5,1291.0 1912.5,1291.5 1914.5,1292.0 1916.6,1292.4 1918.6,1292.8 1920.6,1293.2 1922.7,1293.6 1924.7,1293.9 1926.7,1294.2 1928.8,1294.5 1930.8,1294.7 1932.8,1294.9 1934.9,1295.2 1936.9,1295.3 1938.9,1295.5 1941.0,1295.7 1943.0,1295.8 1945.0,1295.9 1947.1,1296.0 1949.1,1296.1 1951.1,1296.2 1953.1,1296.3 1955.2,1296.3 1957.2,1296.4 1959.2,1296.4 1961.3,1296.4 1963.3,1296.5 1965.3,1296.5 1967.4,1296.5 1969.4,1296.5 1971.4,1296.5 1973.5,1296.5 1975.5,1296.5" fill="none" stroke="#D95319" stroke-width="11.6" stroke-linejoin="round" stroke-linecap="butt" shape-rendering="crispEdges"/>
<polyline points="350.0,1296.5 352.0,1296.5 354.1,1296.5 356.1,1296.5 358.1,1296.5 360.2,1296.5 362.2,1296.5 364.2,1296.5 366.3,1296.5 368.3,1296.5 370.3,1296.5 372.4,1296.4 374.4,1296.4 376.4,1296.4 378.4,1296.4 380.5,1296.4 382.5,1296.3 384.5,1296.3 386.6,1296.3 388.6,1296.2 390.6,1296.2 392.7,1296.1 394.7,1296.0 396.7,1296.0 398.8,1295.9 400.8,1295.8 402.8,1295.8 404.9,1295.7 406.9,1295.6 408.9,1295.5 411.0,1295.4 413.0,1295.2 415.0,1295.1 417.1,1295.0 419.1,1294.8 421.1,1294.7 423.1,1294.5 425.2,1294.4 427.2,1294.2 429.2,1294.0 431.3,1293.8 433.3,1293.6 435.3,1293.4 437.4,1293.2 439.4,1292.9 441.4,1292.7 443.5,1292.4 445.5,1292.1 447.5,1291.9 449.6,1291.6 451.6,1291.3 453.6,1290.9 455.7,1290.6 457.7,1290.3 459.7,1289.9 461.8,1289.5 463.8,1289.2 465.8,1288.8 467.8,1288.4 469.9,1287.9 471.9,1287.5 473.9,1287.1 476.0,1286.6 478.0,1286.1 480.0,1285.6 482.1,1285.1 484.1,1284.6 486.1,1284.0 488.2,1283.5 490.2,1282.9 492.2,1282.3 494.3,1281.7 496.3,1281.1 498.3,1280.5 500.4,1279.8 502.4,1279.1 504.4,1278.4 506.5,1277.7 508.5,1277.0 510.5,1276.3 512.5,1275.5 514.6,1274.7 516.6,1273.9 518.6,1273.1 520.7,1272.3 522.7,1271.4 524.7,1270.6 526.8,1269.7 528.8,1268.8 530.8,1267.8 532.9,1266.9 534.9,1265.9 536.9,1264.9 539.0,1263.9 541.0,1262.9 543.0,1261.9 545.1,1260.8 547.1,1259.7 549.1,1258.6 551.2,1257.5 553.2,1256.3 555.2,1255.2 557.3,1254.0 559.3,1252.7 561.3,1251.5 563.3,1250.3 565.4,1249.0 567.4,1247.7 569.4,1246.4 571.5,1245.0 573.5,1243.7 575.5,1242.3 577.6,1240.9 579.6,1239.4 581.6,1238.0 583.7,1236.5 585.7,1235.0 587.7,1233.5 589.8,1231.9 591.8,1230.4 593.8,1228.8 595.9,1227.2 597.9,1225.5 599.9,1223.9 602.0,1222.2 604.0,1220.5 606.0,1218.8 608.0,1217.0 610.1,1215.2 612.1,1213.4 614.1,1211.6 616.2,1209.8 618.2,1207.9 620.2,1206.0 622.3,1204.1 624.3,1202.1 626.3,1200.2 628.4,1198.2 630.4,1196.2 632.4,1194.1 634.5,1192.1 636.5,1190.0 638.5,1187.9 640.6,1185.8 642.6,1183.6 644.6,1181.4 646.7,1179.2 648.7,1177.0 650.7,1174.8 652.7,1172.5 654.8,1170.2 656.8,1167.9 658.8,1165.5 660.9,1163.1 662.9,1160.7 664.9,1158.3 667.0,1155.9 669.0,1153.4 671.0,1150.9 673.1,1148.4 675.1,1145.9 677.1,1143.3 679.2,1140.7 681.2,1138.1 683.2,1135.5 685.3,1132.9 687.3,1130.2 689.3,1127.5 691.4,1124.8 693.4,1122.0 695.4,1119.2 697.5,1116.4 699.5,1113.6 701.5,1110.8 703.5,1107.9 705.6,1105.0 707.6,1102.1 709.6,1099.2 711.7,1096.2 713.7,1093.3 715.7,1090.3 717.8,1087.2 719.8,1084.2 721.8,1081.1 723.9,1078.1 725.9,1074.9 727.9,1071.8 730.0,1068.7 732.0,1065.5 734.0,1062.3 736.1,1059.1 738.1,1055.8 740.1,1052.6 742.2,1049.3 744.2,1046.0 746.2,1042.7 748.2,1039.3 750.3,1036.0 752.3,1032.6 754.3,1029.2 756.4,1025.8 758.4,1022.3 760.4,1018.9 762.5,1015.4 764.5,1011.9 766.5,1008.4 768.6,1004.8 770.6,1001.3 772.6,997.7 774.7,994.1 776.7,990.5 778.7,986.8 780.8,983.2 782.8,979.5 784.8,975.8 786.9,972.1 788.9,968.4 790.9,964.7 792.9,960.9 795.0,957.2 797.0,953.4 799.0,949.6 801.1,945.7 803.1,941.9 805.1,938.1 807.2,934.2 809.2,930.3 811.2,926.4 813.3,922.5 815.3,918.6 817.3,914.6 819.4,910.7 821.4,906.7 823.4,902.7 825.5,898.7 827.5,894.7 829.5,890.7 831.6,886.7 833.6,882.6 835.6,878.6 837.6,874.5 839.7,870.4 841.7,866.3 843.7,862.2 845.8,858.1 847.8,853.9 849.8,849.8 851.9,845.7 853.9,841.5 855.9,837.3 858.0,833.1 860.0,829.0 862.0,824.8 864.1,820.6 866.1,816.3 868.1,812.1 870.2,807.9 872.2,803.6 874.2,799.4 876.3,795.1 878.3,790.9 880.3,786.6 882.4,782.3 884.4,778.1 886.4,773.8 888.4,769.5 890.5,765.2 892.5,760.9 894.5,756.6 896.6,752.3 898.6,748.0 900.6,743.6 902.7,739.3 904.7,735.0 906.7,730.7 908.8,726.3 910.8,722.0 912.8,717.7 914.9,713.3 916.9,709.0 918.9,704.6 921.0,700.3 923.0,696.0 925.0,691.6 927.1,687.3 929.1,682.9 931.1,678.6 933.1,674.3 935.2,669.9 937.2,665.6 939.2,661.3 941.3,656.9 943.3,652.6 945.3,648.3 947.4,643.9 949.4,639.6 951.4,635.3 953.5,631.0 955.5,626.7 957.5,622.4 959.6,618.1 961.6,613.8 963.6,609.5 965.7,605.2 967.7,601.0 969.7,596.7 971.8,592.4 973.8,588.2 975.8,583.9 977.8,579.7 979.9,575.5 981.9,571.3 983.9,567.0 986.0,562.8 988.0,558.6 990.0,554.5 992.1,550.3 994.1,546.1 996.1,542.0 998.2,537.8 1000.2,533.7 1002.2,529.6 1004.3,525.5 1006.3,521.4 1008.3,517.3 1010.4,513.2 1012.4,509.2 1014.4,505.2 1016.5,501.1 1018.5,497.1 1020.5,493.1 1022.6,489.1 1024.6,485.2 1026.6,481.2 1028.6,477.3 1030.7,473.4 1032.7,469.5 1034.7,465.6 1036.8,461.7 1038.8,457.9 1040.8,454.0 1042.9,450.2 1044.9,446.4 1046.9,442.6 1049.0,438.9 1051.0,435.1 1053.0,431.4 1055.1,427.7 1057.1,424.0 1059.1,420.4 1061.2,416.7 1063.2,413.1 1065.2,409.5 1067.3,405.9 1069.3,402.4 1071.3,398.9 1073.3,395.4 1075.4,391.9 1077.4,388.4 1079.4,385.0 1081.5,381.6 1083.5,378.2 1085.5,374.8 1087.6,371.5 1089.6,368.1 1091.6,364.9 1093.7,361.6 1095.7,358.3 1097.7,355.1 1099.8,351.9 1101.8,348.8 1103.8,345.6 1105.9,342.5 1107.9,339.5 1109.9,336.4 1112.0,333.4 1114.0,330.4 1116.0,327.4 1118.0,324.5 1120.1,321.6 1122.1,318.7 1124.1,315.8 1126.2,313.0 1128.2,310.2 1130.2,307.5 1132.3,304.7 1134.3,302.0 1136.3,299.4 1138.4,296.7 1140.4,294.1 1142.4,291.5 1144.5,289.0 1146.5,286.5 1148.5,284.0 1150.6,281.6 1152.6,279.2 1154.6,276.8 1156.7,274.4 1158.7,272.1 1160.7,269.8 1162.8,267.6 1164.8,265.4 1166.8,263.2 1168.8,261.1 1170.9,259.0 1172.9,256.9 1174.9,254.9 1177.0,252.9 1179.0,250.9 1181.0,249.0 1183.1,247.1 1185.1,245.2 1187.1,243.4 1189.2,241.6 1191.2,239.9 1193.2,238.2 1195.3,236.5 1197.3,234.9 1199.3,233.3 1201.4,231.7 1203.4,230.2 1205.4,228.7 1207.5,227.2 1209.5,225.8 1211.5,224.5 1213.5,223.1 1215.6,221.9 1217.6,220.6 1219.6,219.4 1221.7,218.2 1223.7,217.1 1225.7,216.0 1227.8,214.9 1229.8,213.9 1231.8,212.9 1233.9,212.0 1235.9,211.1 1237.9,210.3 1240.0,209.4 1242.0,208.7 1244.0,207.9 1246.1,207.2 1248.1,206.6 1250.1,206.0 1252.2,205.4 1254.2,204.9 1256.2,204.4 1258.2,204.0 1260.3,203.5 1262.3,203.2 1264.3,202.9 1266.4,202.6 1268.4,202.3 1270.4,202.2 1272.5,202.0 1274.5,201.9 1276.5,201.8 1278.6,201.8 1280.6,201.8 1282.6,201.9 1284.7,202.0 1286.7,202.1 1288.7,202.3 1290.8,202.5 1292.8,202.8 1294.8,203.1 1296.9,203.5 1298.9,203.8 1300.9,204.3 1302.9,204.8 1305.0,205.3 1307.0,205.9 1309.0,206.5 1311.1,207.1 1313.1,207.8 1315.1,208.6 1317.2,209.3 1319.2,210.2 1321.2,211.0 1323.3,211.9 1325.3,212.9 1327.3,213.9 1329.4,214.9 1331.4,216.0 1333.4,217.1 1335.5,218.3 1337.5,219.5 1339.5,220.8 1341.6,222.0 1343.6,223.4 1345.6,224.8 1347.7,226.2 1349.7,227.6 1351.7,229.1 1353.7,230.7 1355.8,232.3 1357.8,233.9 1359.8,235.6 1361.9,237.3 1363.9,239.1 1365.9,240.9 1368.0,242.7 1370.0,244.6 1372.0,246.5 1374.1,248.5 1376.1,250.5 1378.1,252.5 1380.2,254.6 1382.2,256.7 1384.2,258.9 1386.3,261.1 1388.3,263.4 1390.3,265.7 1392.4,268.0 1394.4,270.4 1396.4,272.8 1398.4,275.3 1400.5,277.7 1402.5,280.3 1404.5,282.9 1406.6,285.5 1408.6,288.1 1410.6,290.8 1412.7,293.6 1414.7,296.3 1416.7,299.1 1418.8,302.0 1420.8,304.9 1422.8,307.8 1424.9,310.8 1426.9,313.8 1428.9,316.8 1431.0,319.9 1433.0,323.0 1435.0,326.2 1437.1,329.4 1439.1,332.6 1441.1,335.9 1443.1,339.2 1445.2,342.5 1447.2,345.9 1449.2,349.3 1451.3,352.8 1453.3,356.2 1455.3,359.8 1457.4,363.3 1459.4,366.9 1461.4,370.5 1463.5,374.2 1465.5,377.9 1467.5,381.6 1469.6,385.4 1471.6,389.2 1473.6,393.0 1475.7,396.9 1477.7,400.8 1479.7,404.7 1481.8,408.7 1483.8,412.7 1485.8,416.7 1487.8,420.8 1489.9,424.9 1491.9,429.0 1493.9,433.2 1496.0,437.3 1498.0,441.6 1500.0,445.8 1502.1,450.1 1504.1,454.4 1506.1,458.7 1508.2,463.1 1510.2,467.5 1512.2,471.9 1514.3,476.4 1516.3,480.9 1518.3,485.4 1520.4,489.9 1522.4,494.5 1524.4,499.1 1526.5,503.7 1528.5,508.4 1530.5,513.1 1532.6,517.8 1534.6,522.5 1536.6,527.3 1538.6,532.0 1540.7,536.8 1542.7,541.7 1544.7,546.5 1546.8,551.4 1548.8,556.3 1550.8,561.2 1552.9,566.2 1554.9,571.2 1556.9,576.2 1559.0,581.2 1561.0,586.2 1563.0,591.3 1565.1,596.4 1567.1,601.5 1569.1,606.6 1571.2,611.7 1573.2,616.9 1575.2,622.1 1577.3,627.3 1579.3,632.5 1581.3,637.8 1583.3,643.0 1585.4,648.3 1587.4,653.6 1589.4,658.9 1591.5,664.3 1593.5,669.6 1595.5,675.0 1597.6,680.4 1599.6,685.8 1601.6,691.2 1603.7,696.6 1605.7,702.1 1607.7,707.5 1609.8,713.0 1611.8,718.5 1613.8,724.0 1615.9,729.5 1617.9,735.1 1619.9,740.6 1622.0,746.2 1624.0,751.7 1626.0,757.3 1628.0,762.9 1630.1,768.5 1632.1,774.1 1634.1,779.8 1636.2,785.4 1638.2,791.0 1640.2,796.7 1642.3,802.3 1644.3,808.0 1646.3,813.7 1648.4,819.4 1650.4,825.1 1652.4,830.8 1654.5,836.5 1656.5,842.2 1658.5,847.9 1660.6,853.6 1662.6,859.4 1664.6,865.1 1666.7,870.9 1668.7,876.6 1670.7,882.4 1672.8,888.1 1674.8,893.9 1676.8,899.6 1678.8,905.4 1680.9,911.2 1682.9,916.9 1684.9,922.7 1687.0,928.5 1689.0,934.2 1691.0,940.0 1693.1,945.8 1695.1,951.6 1697.1,957.3 1699.2,963.1 1701.2,968.9 1703.2,974.7 1705.3,980.4 1707.3,986.2 1709.3,992.0 1711.4,997.7 1713.4,1003.5 1715.4,1009.3 1717.5,1015.0 1719.5,1020.8 1721.5,1026.5 1723.5,1032.2 1725.6,1038.0 1727.6,1043.7 1729.6,1049.4 1731.7,1055.2 1733.7,1060.9 1735.7,1066.6 1737.8,1072.3 1739.8,1078.0 1741.8,1083.6 1743.9,1089.3 1745.9,1095.0 1747.9,1100.7 1750.0,1106.3 1752.0,1111.9 1754.0,1117.6 1756.1,1123.2 1758.1,1128.8 1760.1,1134.4 1762.2,1140.0 1764.2,1145.6 1766.2,1151.2 1768.2,1156.7 1770.3,1162.3 1772.3,1167.8 1774.3,1173.3 1776.4,1178.8 1778.4,1184.3 1780.4,1189.8 1782.5,1195.3 1784.5,1200.7 1786.5,1206.2 1788.6,1211.6 1790.6,1217.0 1792.6,1222.4 1794.7,1227.8 1796.7,1233.2 1798.7,1238.5 1800.8,1243.9 1802.8,1249.2 1804.8,1254.5 1806.9,1259.8 1808.9,1265.0 1810.9,1270.3 1813.0,1275.5 1815.0,1280.7 1817.0,1285.9 1819.0,1291.1 1821.1,1296.3 1823.1,1301.4 1825.1,1306.5 1827.2,1311.6 1829.2,1316.7 1831.2,1321.7 1833.3,1326.8 1835.3,1331.8 1837.3,1336.8 1839.4,1341.8 1841.4,1346.7 1843.4,1351.7 1845.5,1356.6 1847.5,1361.5 1849.5,1366.3 1851.6,1371.2 1853.6,1376.0 1855.6,1380.8 1857.7,1385.6 1859.7,1390.4 1861.7,1395.1 1863.7,1399.8 1865.8,1404.5 1867.8,1409.1 1869.8,1413.8 1871.9,1418.4 1873.9,1423.0 1875.9,1427.5 1878.0,1432.1 1880.0,1436.6 1882.0,1441.1 1884.1,1445.5 1886.1,1450.0 1888.1,1454.4 1890.2,1458.7 1892.2,1463.1 1894.2,1467.4 1896.3,1471.7 1898.3,1476.0 1900.3,1480.3 1902.4,1484.5 1904.4,1488.7 1906.4,1492.8 1908.4,1497.0 1910.5,1501.1 1912.5,1505.2 1914.5,1509.2 1916.6,1513.3 1918.6,1517.3 1920.6,1521.2 1922.7,1525.2 1924.7,1529.1 1926.7,1533.0 1928.8,1536.8 1930.8,1540.7 1932.8,1544.5 1934.9,1548.2 1936.9,1552.0 1938.9,1555.7 1941.0,1559.4 1943.0,1563.0 1945.0,1566.6 1947.1,1570.2 1949.1,1573.8 1951.1,1577.3 1953.1,1580.8 1955.2,1584.3 1957.2,1587.7 1959.2,1591.1 1961.3,1594.5 1963.3,1597.9 1965.3,1601.2 1967.4,1604.5 1969.4,1607.7 1971.4,1611.0 1973.5,1614.2 1975.5,1617.3" fill="none" stroke="#0072BD" stroke-width="11.6" stroke-linejoin="round" stroke-linecap="butt" shape-rendering="crispEdges"/>
<polyline points="350.0,1296.5 352.0,1296.5 354.1,1296.5 356.1,1296.5 358.1,1296.5 360.2,1296.5 362.2,1296.5 364.2,1296.5 366.3,1296.5 368.3,1296.5 370.3,1296.5 372.4,1296.5 374.4,1296.5 376.4,1296.5 378.4,1296.4 380.5,1296.4 382.5,1296.4 384.5,1296.4 386.6,1296.4 388.6,1296.4 390.6,1296.3 392.7,1296.3 394.7,1296.3 396.7,1296.3 398.8,1296.2 400.8,1296.2 402.8,1296.2 404.9,1296.1 406.9,1296.1 408.9,1296.0 411.0,1296.0 413.0,1295.9 415.0,1295.9 417.1,1295.8 419.1,1295.8 421.1,1295.7 423.1,1295.6 425.2,1295.5 427.2,1295.5 429.2,1295.4 431.3,1295.3 433.3,1295.2 435.3,1295.1 437.4,1295.0 439.4,1294.9 441.4,1294.8 443.5,1294.7 445.5,1294.6 447.5,1294.4 449.6,1294.3 451.6,1294.2 453.6,1294.0 455.7,1293.9 457.7,1293.7 459.7,1293.6 461.8,1293.4 463.8,1293.2 465.8,1293.0 467.8,1292.9 469.9,1292.7 471.9,1292.5 473.9,1292.3 476.0,1292.0 478.0,1291.8 480.0,1291.6 482.1,1291.4 484.1,1291.1 486.1,1290.9 488.2,1290.6 490.2,1290.4 492.2,1290.1 494.3,1289.8 496.3,1289.6 498.3,1289.3 500.4,1289.0 502.4,1288.7 504.4,1288.3 506.5,1288.0 508.5,1287.7 510.5,1287.4 512.5,1287.0 514.6,1286.7 516.6,1286.3 518.6,1285.9 520.7,1285.5 522.7,1285.1 524.7,1284.7 526.8,1284.3 528.8,1283.9 530.8,1283.5 532.9,1283.1 534.9,1282.6 536.9,1282.2 539.0,1281.7 541.0,1281.2 543.0,1280.7 545.1,1280.2 547.1,1279.7 549.1,1279.2 551.2,1278.7 553.2,1278.2 555.2,1277.6 557.3,1277.1 559.3,1276.5 561.3,1275.9 563.3,1275.3 565.4,1274.7 567.4,1274.1 569.4,1273.5 571.5,1272.9 573.5,1272.2 575.5,1271.6 577.6,1270.9 579.6,1270.2 581.6,1269.6 583.7,1268.9 585.7,1268.2 587.7,1267.4 589.8,1266.7 591.8,1266.0 593.8,1265.2 595.9,1264.4 597.9,1263.7 599.9,1262.9 602.0,1262.1 604.0,1261.3 606.0,1260.4 608.0,1259.6 610.1,1258.7 612.1,1257.9 614.1,1257.0 616.2,1256.1 618.2,1255.2 620.2,1254.3 622.3,1253.4 624.3,1252.4 626.3,1251.5 628.4,1250.5 630.4,1249.6 632.4,1248.6 634.5,1247.6 636.5,1246.5 638.5,1245.5 640.6,1244.5 642.6,1243.4 644.6,1242.4 646.7,1241.3 648.7,1240.2 650.7,1239.1 652.7,1238.0 654.8,1236.8 656.8,1235.7 658.8,1234.5 660.9,1233.3 662.9,1232.2 664.9,1231.0 667.0,1229.7 669.0,1228.5 671.0,1227.3 673.1,1226.0 675.1,1224.7 677.1,1223.5 679.2,1222.2 681.2,1220.8 683.2,1219.5 685.3,1218.2 687.3,1216.8 689.3,1215.5 691.4,1214.1 693.4,1212.7 695.4,1211.3 697.5,1209.8 699.5,1208.4 701.5,1206.9 703.5,1205.5 705.6,1204.0 707.6,1202.5 709.6,1201.0 711.7,1199.5 713.7,1197.9 715.7,1196.4 717.8,1194.8 719.8,1193.2 721.8,1191.6 723.9,1190.0 725.9,1188.4 727.9,1186.7 730.0,1185.1 732.0,1183.4 734.0,1181.7 736.1,1180.0 738.1,1178.3 740.1,1176.6 742.2,1174.8 744.2,1173.1 746.2,1171.3 748.2,1169.5 750.3,1167.7 752.3,1165.9 754.3,1164.1 756.4,1162.2 758.4,1160.4 760.4,1158.5 762.5,1156.6 764.5,1154.7 766.5,1152.8 768.6,1150.8 770.6,1148.9 772.6,1146.9 774.7,1145.0 776.7,1143.0 778.7,1141.0 780.8,1138.9 782.8,1136.9 784.8,1134.8 786.9,1132.8 788.9,1130.7 790.9,1128.6 792.9,1126.5 795.0,1124.4 797.0,1122.2 799.0,1120.1 801.1,1117.9 803.1,1115.7 805.1,1113.5 807.2,1111.3 809.2,1109.1 811.2,1106.9 813.3,1104.6 815.3,1102.3 817.3,1100.1 819.4,1097.8 821.4,1095.5 823.4,1093.1 825.5,1090.8 827.5,1088.4 829.5,1086.1 831.6,1083.7 833.6,1081.3 835.6,1078.9 837.6,1076.5 839.7,1074.0 841.7,1071.6 843.7,1069.1 845.8,1066.6 847.8,1064.1 849.8,1061.6 851.9,1059.1 853.9,1056.6 855.9,1054.0 858.0,1051.5 860.0,1048.9 862.0,1046.3 864.1,1043.7 866.1,1041.1 868.1,1038.5 870.2,1035.8 872.2,1033.2 874.2,1030.5 876.3,1027.8 878.3,1025.1 880.3,1022.4 882.4,1019.7 884.4,1017.0 886.4,1014.2 888.4,1011.5 890.5,1008.7 892.5,1005.9 894.5,1003.1 896.6,1000.3 898.6,997.5 900.6,994.7 902.7,991.8 904.7,989.0 906.7,986.1 908.8,983.2 910.8,980.3 912.8,977.4 914.9,974.5 916.9,971.6 918.9,968.6 921.0,965.7 923.0,962.7 925.0,959.7 927.1,956.8 929.1,953.8 931.1,950.8 933.1,947.7 935.2,944.7 937.2,941.7 939.2,938.6 941.3,935.5 943.3,932.5 945.3,929.4 947.4,926.3 949.4,923.2 951.4,920.1 953.5,916.9 955.5,913.8 957.5,910.6 959.6,907.5 961.6,904.3 963.6,901.1 965.7,897.9 967.7,894.7 969.7,891.5 971.8,888.3 973.8,885.1 975.8,881.9 977.8,878.6 979.9,875.4 981.9,872.1 983.9,868.8 986.0,865.5 988.0,862.2 990.0,858.9 992.1,855.6 994.1,852.3 996.1,849.0 998.2,845.7 1000.2,842.3 1002.2,839.0 1004.3,835.6 1006.3,832.3 1008.3,828.9 1010.4,825.5 1012.4,822.1 1014.4,818.7 1016.5,815.3 1018.5,811.9 1020.5,808.5 1022.6,805.1 1024.6,801.7 1026.6,798.2 1028.6,794.8 1030.7,791.3 1032.7,787.9 1034.7,784.4 1036.8,780.9 1038.8,777.5 1040.8,774.0 1042.9,770.5 1044.9,767.0 1046.9,763.5 1049.0,760.0 1051.0,756.5 1053.0,753.0 1055.1,749.5 1057.1,746.0 1059.1,742.4 1061.2,738.9 1063.2,735.4 1065.2,731.8 1067.3,728.3 1069.3,724.8 1071.3,721.2 1073.3,717.6 1075.4,714.1 1077.4,710.5 1079.4,707.0 1081.5,703.4 1083.5,699.8 1085.5,696.2 1087.6,692.7 1089.6,689.1 1091.6,685.5 1093.7,681.9 1095.7,678.3 1097.7,674.7 1099.8,671.2 1101.8,667.6 1103.8,664.0 1105.9,660.4 1107.9,656.8 1109.9,653.2 1112.0,649.6 1114.0,646.0 1116.0,642.4 1118.0,638.8 1120.1,635.2 1122.1,631.6 1124.1,628.0 1126.2,624.4 1128.2,620.7 1130.2,617.1 1132.3,613.5 1134.3,609.9 1136.3,606.3 1138.4,602.7 1140.4,599.1 1142.4,595.5 1144.5,591.9 1146.5,588.3 1148.5,584.7 1150.6,581.1 1152.6,577.6 1154.6,574.0 1156.7,570.4 1158.7,566.8 1160.7,563.2 1162.8,559.6 1164.8,556.0 1166.8,552.5 1168.8,548.9 1170.9,545.3 1172.9,541.8 1174.9,538.2 1177.0,534.6 1179.0,531.1 1181.0,527.5 1183.1,524.0 1185.1,520.4 1187.1,516.9 1189.2,513.4 1191.2,509.8 1193.2,506.3 1195.3,502.8 1197.3,499.3 1199.3,495.8 1201.4,492.3 1203.4,488.8 1205.4,485.3 1207.5,481.8 1209.5,478.3 1211.5,474.8 1213.5,471.4 1215.6,467.9 1217.6,464.5 1219.6,461.0 1221.7,457.6 1223.7,454.1 1225.7,450.7 1227.8,447.3 1229.8,443.9 1231.8,440.5 1233.9,437.1 1235.9,433.7 1237.9,430.3 1240.0,427.0 1242.0,423.6 1244.0,420.2 1246.1,416.9 1248.1,413.6 1250.1,410.3 1252.2,406.9 1254.2,403.6 1256.2,400.3 1258.2,397.1 1260.3,393.8 1262.3,390.5 1264.3,387.3 1266.4,384.0 1268.4,380.8 1270.4,377.6 1272.5,374.4 1274.5,371.2 1276.5,368.0 1278.6,364.8 1280.6,361.6 1282.6,358.5 1284.7,355.3 1286.7,352.2 1288.7,349.1 1290.8,346.0 1292.8,342.9 1294.8,339.8 1296.9,336.8 1298.9,333.7 1300.9,330.7 1302.9,327.7 1305.0,324.6 1307.0,321.7 1309.0,318.7 1311.1,315.7 1313.1,312.7 1315.1,309.8 1317.2,306.9 1319.2,304.0 1321.2,301.1 1323.3,298.2 1325.3,295.3 1327.3,292.5 1329.4,289.7 1331.4,286.8 1333.4,284.0 1335.5,281.3 1337.5,278.5 1339.5,275.7 1341.6,273.0 1343.6,270.3 1345.6,267.6 1347.7,264.9 1349.7,262.2 1351.7,259.6 1353.7,256.9 1355.8,254.3 1357.8,251.7 1359.8,249.1 1361.9,246.6 1363.9,244.0 1365.9,241.5 1368.0,239.0 1370.0,236.5 1372.0,234.0 1374.1,231.6 1376.1,229.2 1378.1,226.7 1380.2,224.4 1382.2,222.0 1384.2,219.6 1386.3,217.3 1388.3,215.0 1390.3,212.7 1392.4,210.4 1394.4,208.2 1396.4,205.9 1398.4,203.7 1400.5,201.5 1402.5,199.4 1404.5,197.2 1406.6,195.1 1408.6,193.0 1410.6,190.9 1412.7,188.8 1414.7,186.8 1416.7,184.8 1418.8,182.8 1420.8,180.8 1422.8,178.8 1424.9,176.9 1426.9,175.0 1428.9,173.1 1431.0,171.3 1433.0,169.4 1435.0,167.6 1437.1,165.8 1439.1,164.1 1441.1,162.3 1443.1,160.6 1445.2,158.9 1447.2,157.2 1449.2,155.6 1451.3,154.0 1453.3,152.4 1455.3,150.8 1457.4,149.2 1459.4,147.7 1461.4,146.2 1463.5,144.7 1465.5,143.3 1467.5,141.9 1469.6,140.5 1471.6,139.1 1473.6,137.8 1475.7,136.4 1477.7,135.1 1479.7,133.9 1481.8,132.6 1483.8,131.4 1485.8,130.2 1487.8,129.1 1489.9,127.9 1491.9,126.8 1493.9,125.7 1496.0,124.7 1498.0,123.6 1500.0,122.6 1502.1,121.7 1504.1,120.7 1506.1,119.8 1508.2,118.9 1510.2,118.0 1512.2,117.2 1514.3,116.4 1516.3,115.6 1518.3,114.9 1520.4,114.1 1522.4,113.4 1524.4,112.8 1526.5,112.1 1528.5,111.5 1530.5,111.0 1532.6,110.4 1534.6,109.9 1536.6,109.4 1538.6,108.9 1540.7,108.5 1542.7,108.1 1544.7,107.7 1546.8,107.4 1548.8,107.0 1550.8,106.8 1552.9,106.5 1554.9,106.3 1556.9,106.1 1559.0,105.9 1561.0,105.8 1563.0,105.7 1565.1,105.6 1567.1,105.5 1569.1,105.5 1571.2,105.5 1573.2,105.6 1575.2,105.7 1577.3,105.8 1579.3,105.9 1581.3,106.1 1583.3,106.3 1585.4,106.5 1587.4,106.8 1589.4,107.1 1591.5,107.4 1593.5,107.8 1595.5,108.1 1597.6,108.6 1599.6,109.0 1601.6,109.5 1603.7,110.0 1605.7,110.6 1607.7,111.1 1609.8,111.7 1611.8,112.4 1613.8,113.1 1615.9,113.8 1617.9,114.5 1619.9,115.3 1622.0,116.1 1624.0,116.9 1626.0,117.8 1628.0,118.7 1630.1,119.6 1632.1,120.6 1634.1,121.6 1636.2,122.6 1638.2,123.7 1640.2,124.8 1642.3,125.9 1644.3,127.1 1646.3,128.3 1648.4,129.5 1650.4,130.8 1652.4,132.1 1654.5,133.4 1656.5,134.7 1658.5,136.1 1660.6,137.6 1662.6,139.0 1664.6,140.5 1666.7,142.0 1668.7,143.6 1670.7,145.2 1672.8,146.8 1674.8,148.5 1676.8,150.2 1678.8,151.9 1680.9,153.6 1682.9,155.4 1684.9,157.3 1687.0,159.1 1689.0,161.0 1691.0,162.9 1693.1,164.9 1695.1,166.9 1697.1,168.9 1699.2,171.0 1701.2,173.1 1703.2,175.2 1705.3,177.4 1707.3,179.6 1709.3,181.8 1711.4,184.0 1713.4,186.3 1715.4,188.7 1717.5,191.0 1719.5,193.4 1721.5,195.9 1723.5,198.3 1725.6,200.8 1727.6,203.3 1729.6,205.9 1731.7,208.5 1733.7,211.1 1735.7,213.8 1737.8,216.5 1739.8,219.2 1741.8,222.0 1743.9,224.8 1745.9,227.6 1747.9,230.5 1750.0,233.4 1752.0,236.3 1754.0,239.3 1756.1,242.3 1758.1,245.3 1760.1,248.4 1762.2,251.5 1764.2,254.6 1766.2,257.8 1768.2,261.0 1770.3,264.2 1772.3,267.4 1774.3,270.7 1776.4,274.1 1778.4,277.4 1780.4,280.8 1782.5,284.3 1784.5,287.7 1786.5,291.2 1788.6,294.7 1790.6,298.3 1792.6,301.9 1794.7,305.5 1796.7,309.2 1798.7,312.9 1800.8,316.6 1802.8,320.3 1804.8,324.1 1806.9,327.9 1808.9,331.8 1810.9,335.7 1813.0,339.6 1815.0,343.5 1817.0,347.5 1819.0,351.5 1821.1,355.6 1823.1,359.7 1825.1,363.8 1827.2,367.9 1829.2,372.1 1831.2,376.3 1833.3,380.5 1835.3,384.8 1837.3,389.1 1839.4,393.4 1841.4,397.7 1843.4,402.1 1845.5,406.6 1847.5,411.0 1849.5,415.5 1851.6,420.0 1853.6,424.5 1855.6,429.1 1857.7,433.7 1859.7,438.4 1861.7,443.0 1863.7,447.7 1865.8,452.5 1867.8,457.2 1869.8,462.0 1871.9,466.8 1873.9,471.7 1875.9,476.5 1878.0,481.4 1880.0,486.4 1882.0,491.3 1884.1,496.3 1886.1,501.4 1888.1,506.4 1890.2,511.5 1892.2,516.6 1894.2,521.7 1896.3,526.9 1898.3,532.1 1900.3,537.3 1902.4,542.6 1904.4,547.9 1906.4,553.2 1908.4,558.5 1910.5,563.9 1912.5,569.3 1914.5,574.7 1916.6,580.1 1918.6,585.6 1920.6,591.1 1922.7,596.6 1924.7,602.2 1926.7,607.8 1928.8,613.4 1930.8,619.0 1932.8,624.7 1934.9,630.4 1936.9,636.1 1938.9,641.8 1941.0,647.6 1943.0,653.4 1945.0,659.2 1947.1,665.1 1949.1,670.9 1951.1,676.8 1953.1,682.8 1955.2,688.7 1957.2,694.7 1959.2,700.7 1961.3,706.7 1963.3,712.7 1965.3,718.8 1967.4,724.9 1969.4,731.0 1971.4,737.2 1973.5,743.3 1975.5,749.5" fill="none" stroke="#0AFFFF" stroke-width="11.6" stroke-linejoin="round" stroke-linecap="butt" shape-rendering="crispEdges"/>
<polyline points="350.0,1296.5 352.0,1296.5 354.1,1296.5 356.1,1296.5 358.1,1296.5 360.2,1296.5 362.2,1296.5 364.2,1296.5 366.3,1296.5 368.3,1296.5 370.3,1296.5 372.4,1296.5 374.4,1296.5 376.4,1296.5 378.4,1296.5 380.5,1296.5 382.5,1296.5 384.5,1296.4 386.6,1296.4 388.6,1296.4 390.6,1296.4 392.7,1296.4 394.7,1296.4 396.7,1296.4 398.8,1296.4 400.8,1296.3 402.8,1296.3 404.9,1296.3 406.9,1296.3 408.9,1296.2 411.0,1296.2 413.0,1296.2 415.0,1296.2 417.1,1296.1 419.1,1296.1 421.1,1296.0 423.1,1296.0 425.2,1296.0 427.2,1295.9 429.2,1295.9 431.3,1295.8 433.3,1295.8 435.3,1295.7 437.4,1295.7 439.4,1295.6 441.4,1295.5 443.5,1295.5 445.5,1295.4 447.5,1295.3 449.6,1295.3 451.6,1295.2 453.6,1295.1 455.7,1295.0 457.7,1294.9 459.7,1294.8 461.8,1294.7 463.8,1294.6 465.8,1294.5 467.8,1294.4 469.9,1294.3 471.9,1294.2 473.9,1294.1 476.0,1294.0 478.0,1293.9 480.0,1293.7 482.1,1293.6 484.1,1293.5 486.1,1293.3 488.2,1293.2 490.2,1293.0 492.2,1292.9 494.3,1292.7 496.3,1292.6 498.3,1292.4 500.4,1292.2 502.4,1292.1 504.4,1291.9 506.5,1291.7 508.5,1291.5 510.5,1291.3 512.5,1291.1 514.6,1290.9 516.6,1290.7 518.6,1290.5 520.7,1290.3 522.7,1290.1 524.7,1289.8 526.8,1289.6 528.8,1289.4 530.8,1289.1 532.9,1288.9 534.9,1288.6 536.9,1288.4 539.0,1288.1 541.0,1287.8 543.0,1287.6 545.1,1287.3 547.1,1287.0 549.1,1286.7 551.2,1286.4 553.2,1286.1 555.2,1285.8 557.3,1285.5 559.3,1285.1 561.3,1284.8 563.3,1284.5 565.4,1284.1 567.4,1283.8 569.4,1283.4 571.5,1283.1 573.5,1282.7 575.5,1282.3 577.6,1281.9 579.6,1281.6 581.6,1281.2 583.7,1280.8 585.7,1280.4 587.7,1279.9 589.8,1279.5 591.8,1279.1 593.8,1278.7 595.9,1278.2 597.9,1277.8 599.9,1277.3 602.0,1276.9 604.0,1276.4 606.0,1275.9 608.0,1275.4 610.1,1274.9 612.1,1274.4 614.1,1273.9 616.2,1273.4 618.2,1272.9 620.2,1272.4 622.3,1271.8 624.3,1271.3 626.3,1270.7 628.4,1270.2 630.4,1269.6 632.4,1269.0 634.5,1268.5 636.5,1267.9 638.5,1267.3 640.6,1266.7 642.6,1266.1 644.6,1265.4 646.7,1264.8 648.7,1264.2 650.7,1263.5 652.7,1262.9 654.8,1262.2 656.8,1261.5 658.8,1260.9 660.9,1260.2 662.9,1259.5 664.9,1258.8 667.0,1258.1 669.0,1257.4 671.0,1256.6 673.1,1255.9 675.1,1255.1 677.1,1254.4 679.2,1253.6 681.2,1252.9 683.2,1252.1 685.3,1251.3 687.3,1250.5 689.3,1249.7 691.4,1248.9 693.4,1248.1 695.4,1247.2 697.5,1246.4 699.5,1245.5 701.5,1244.7 703.5,1243.8 705.6,1242.9 707.6,1242.0 709.6,1241.1 711.7,1240.2 713.7,1239.3 715.7,1238.4 717.8,1237.5 719.8,1236.5 721.8,1235.6 723.9,1234.6 725.9,1233.7 727.9,1232.7 730.0,1231.7 732.0,1230.7 734.0,1229.7 736.1,1228.7 738.1,1227.7 740.1,1226.6 742.2,1225.6 744.2,1224.5 746.2,1223.5 748.2,1222.4 750.3,1221.3 752.3,1220.2 754.3,1219.1 756.4,1218.0 758.4,1216.9 760.4,1215.8 762.5,1214.6 764.5,1213.5 766.5,1212.3 768.6,1211.2 770.6,1210.0 772.6,1208.8 774.7,1207.6 776.7,1206.4 778.7,1205.2 780.8,1204.0 782.8,1202.7 784.8,1201.5 786.9,1200.2 788.9,1199.0 790.9,1197.7 792.9,1196.4 795.0,1195.1 797.0,1193.8 799.0,1192.5 801.1,1191.2 803.1,1189.8 805.1,1188.5 807.2,1187.2 809.2,1185.8 811.2,1184.4 813.3,1183.0 815.3,1181.6 817.3,1180.2 819.4,1178.8 821.4,1177.4 823.4,1176.0 825.5,1174.5 827.5,1173.1 829.5,1171.6 831.6,1170.1 833.6,1168.7 835.6,1167.2 837.6,1165.7 839.7,1164.1 841.7,1162.6 843.7,1161.1 845.8,1159.6 847.8,1158.0 849.8,1156.4 851.9,1154.9 853.9,1153.3 855.9,1151.7 858.0,1150.1 860.0,1148.5 862.0,1146.9 864.1,1145.2 866.1,1143.6 868.1,1141.9 870.2,1140.3 872.2,1138.6 874.2,1136.9 876.3,1135.2 878.3,1133.5 880.3,1131.8 882.4,1130.1 884.4,1128.4 886.4,1126.6 888.4,1124.9 890.5,1123.1 892.5,1121.3 894.5,1119.6 896.6,1117.8 898.6,1116.0 900.6,1114.2 902.7,1112.3 904.7,1110.5 906.7,1108.7 908.8,1106.8 910.8,1105.0 912.8,1103.1 914.9,1101.2 916.9,1099.3 918.9,1097.4 921.0,1095.5 923.0,1093.6 925.0,1091.7 927.1,1089.7 929.1,1087.8 931.1,1085.8 933.1,1083.9 935.2,1081.9 937.2,1079.9 939.2,1077.9 941.3,1075.9 943.3,1073.9 945.3,1071.9 947.4,1069.8 949.4,1067.8 951.4,1065.8 953.5,1063.7 955.5,1061.6 957.5,1059.5 959.6,1057.5 961.6,1055.4 963.6,1053.3 965.7,1051.1 967.7,1049.0 969.7,1046.9 971.8,1044.7 973.8,1042.6 975.8,1040.4 977.8,1038.3 979.9,1036.1 981.9,1033.9 983.9,1031.7 986.0,1029.5 988.0,1027.3 990.0,1025.1 992.1,1022.8 994.1,1020.6 996.1,1018.3 998.2,1016.1 1000.2,1013.8 1002.2,1011.5 1004.3,1009.2 1006.3,1007.0 1008.3,1004.7 1010.4,1002.3 1012.4,1000.0 1014.4,997.7 1016.5,995.4 1018.5,993.0 1020.5,990.7 1022.6,988.3 1024.6,985.9 1026.6,983.6 1028.6,981.2 1030.7,978.8 1032.7,976.4 1034.7,974.0 1036.8,971.6 1038.8,969.1 1040.8,966.7 1042.9,964.3 1044.9,961.8 1046.9,959.4 1049.0,956.9 1051.0,954.4 1053.0,952.0 1055.1,949.5 1057.1,947.0 1059.1,944.5 1061.2,942.0 1063.2,939.5 1065.2,936.9 1067.3,934.4 1069.3,931.9 1071.3,929.3 1073.3,926.8 1075.4,924.2 1077.4,921.6 1079.4,919.1 1081.5,916.5 1083.5,913.9 1085.5,911.3 1087.6,908.7 1089.6,906.1 1091.6,903.5 1093.7,900.9 1095.7,898.2 1097.7,895.6 1099.8,893.0 1101.8,890.3 1103.8,887.7 1105.9,885.0 1107.9,882.3 1109.9,879.7 1112.0,877.0 1114.0,874.3 1116.0,871.6 1118.0,868.9 1120.1,866.2 1122.1,863.5 1124.1,860.8 1126.2,858.1 1128.2,855.4 1130.2,852.6 1132.3,849.9 1134.3,847.2 1136.3,844.4 1138.4,841.7 1140.4,838.9 1142.4,836.1 1144.5,833.4 1146.5,830.6 1148.5,827.8 1150.6,825.0 1152.6,822.3 1154.6,819.5 1156.7,816.7 1158.7,813.9 1160.7,811.1 1162.8,808.2 1164.8,805.4 1166.8,802.6 1168.8,799.8 1170.9,797.0 1172.9,794.1 1174.9,791.3 1177.0,788.5 1179.0,785.6 1181.0,782.8 1183.1,779.9 1185.1,777.1 1187.1,774.2 1189.2,771.3 1191.2,768.5 1193.2,765.6 1195.3,762.7 1197.3,759.8 1199.3,757.0 1201.4,754.1 1203.4,751.2 1205.4,748.3 1207.5,745.4 1209.5,742.5 1211.5,739.6 1213.5,736.7 1215.6,733.8 1217.6,730.9 1219.6,728.0 1221.7,725.1 1223.7,722.2 1225.7,719.3 1227.8,716.3 1229.8,713.4 1231.8,710.5 1233.9,707.6 1235.9,704.7 1237.9,701.7 1240.0,698.8 1242.0,695.9 1244.0,692.9 1246.1,690.0 1248.1,687.1 1250.1,684.1 1252.2,681.2 1254.2,678.3 1256.2,675.3 1258.2,672.4 1260.3,669.4 1262.3,666.5 1264.3,663.5 1266.4,660.6 1268.4,657.7 1270.4,654.7 1272.5,651.8 1274.5,648.8 1276.5,645.9 1278.6,642.9 1280.6,640.0 1282.6,637.0 1284.7,634.1 1286.7,631.1 1288.7,628.2 1290.8,625.2 1292.8,622.3 1294.8,619.4 1296.9,616.4 1298.9,613.5 1300.9,610.5 1302.9,607.6 1305.0,604.6 1307.0,601.7 1309.0,598.8 1311.1,595.8 1313.1,592.9 1315.1,590.0 1317.2,587.0 1319.2,584.1 1321.2,581.2 1323.3,578.2 1325.3,575.3 1327.3,572.4 1329.4,569.5 1331.4,566.5 1333.4,563.6 1335.5,560.7 1337.5,557.8 1339.5,554.9 1341.6,552.0 1343.6,549.1 1345.6,546.2 1347.7,543.3 1349.7,540.4 1351.7,537.5 1353.7,534.6 1355.8,531.7 1357.8,528.8 1359.8,525.9 1361.9,523.0 1363.9,520.2 1365.9,517.3 1368.0,514.4 1370.0,511.6 1372.0,508.7 1374.1,505.9 1376.1,503.0 1378.1,500.2 1380.2,497.3 1382.2,494.5 1384.2,491.6 1386.3,488.8 1388.3,486.0 1390.3,483.2 1392.4,480.4 1394.4,477.6 1396.4,474.7 1398.4,472.0 1400.5,469.2 1402.5,466.4 1404.5,463.6 1406.6,460.8 1408.6,458.0 1410.6,455.3 1412.7,452.5 1414.7,449.8 1416.7,447.0 1418.8,444.3 1420.8,441.5 1422.8,438.8 1424.9,436.1 1426.9,433.4 1428.9,430.7 1431.0,428.0 1433.0,425.3 1435.0,422.6 1437.1,419.9 1439.1,417.2 1441.1,414.5 1443.1,411.9 1445.2,409.2 1447.2,406.6 1449.2,404.0 1451.3,401.3 1453.3,398.7 1455.3,396.1 1457.4,393.5 1459.4,390.9 1461.4,388.3 1463.5,385.7 1465.5,383.1 1467.5,380.6 1469.6,378.0 1471.6,375.5 1473.6,372.9 1475.7,370.4 1477.7,367.9 1479.7,365.4 1481.8,362.9 1483.8,360.4 1485.8,357.9 1487.8,355.4 1489.9,352.9 1491.9,350.5 1493.9,348.0 1496.0,345.6 1498.0,343.2 1500.0,340.8 1502.1,338.4 1504.1,336.0 1506.1,333.6 1508.2,331.2 1510.2,328.8 1512.2,326.5 1514.3,324.1 1516.3,321.8 1518.3,319.5 1520.4,317.2 1522.4,314.9 1524.4,312.6 1526.5,310.3 1528.5,308.0 1530.5,305.8 1532.6,303.6 1534.6,301.3 1536.6,299.1 1538.6,296.9 1540.7,294.7 1542.7,292.5 1544.7,290.3 1546.8,288.2 1548.8,286.0 1550.8,283.9 1552.9,281.8 1554.9,279.7 1556.9,277.6 1559.0,275.5 1561.0,273.4 1563.0,271.4 1565.1,269.3 1567.1,267.3 1569.1,265.3 1571.2,263.3 1573.2,261.3 1575.2,259.3 1577.3,257.3 1579.3,255.4 1581.3,253.5 1583.3,251.5 1585.4,249.6 1587.4,247.7 1589.4,245.8 1591.5,244.0 1593.5,242.1 1595.5,240.3 1597.6,238.5 1599.6,236.7 1601.6,234.9 1603.7,233.1 1605.7,231.3 1607.7,229.6 1609.8,227.8 1611.8,226.1 1613.8,224.4 1615.9,222.7 1617.9,221.1 1619.9,219.4 1622.0,217.8 1624.0,216.1 1626.0,214.5 1628.0,212.9 1630.1,211.4 1632.1,209.8 1634.1,208.3 1636.2,206.7 1638.2,205.2 1640.2,203.7 1642.3,202.2 1644.3,200.8 1646.3,199.3 1648.4,197.9 1650.4,196.5 1652.4,195.1 1654.5,193.7 1656.5,192.4 1658.5,191.0 1660.6,189.7 1662.6,188.4 1664.6,187.1 1666.7,185.8 1668.7,184.6 1670.7,183.3 1672.8,182.1 1674.8,180.9 1676.8,179.7 1678.8,178.5 1680.9,177.4 1682.9,176.3 1684.9,175.2 1687.0,174.1 1689.0,173.0 1691.0,171.9 1693.1,170.9 1695.1,169.9 1697.1,168.9 1699.2,167.9 1701.2,166.9 1703.2,166.0 1705.3,165.1 1707.3,164.2 1709.3,163.3 1711.4,162.4 1713.4,161.6 1715.4,160.7 1717.5,159.9 1719.5,159.1 1721.5,158.4 1723.5,157.6 1725.6,156.9 1727.6,156.2 1729.6,155.5 1731.7,154.8 1733.7,154.2 1735.7,153.5 1737.8,152.9 1739.8,152.3 1741.8,151.8 1743.9,151.2 1745.9,150.7 1747.9,150.2 1750.0,149.7 1752.0,149.2 1754.0,148.8 1756.1,148.4 1758.1,148.0 1760.1,147.6 1762.2,147.2 1764.2,146.9 1766.2,146.6 1768.2,146.3 1770.3,146.0 1772.3,145.7 1774.3,145.5 1776.4,145.3 1778.4,145.1 1780.4,144.9 1782.5,144.8 1784.5,144.7 1786.5,144.6 1788.6,144.5 1790.6,144.4 1792.6,144.4 1794.7,144.4 1796.7,144.4 1798.7,144.4 1800.8,144.5 1802.8,144.5 1804.8,144.6 1806.9,144.8 1808.9,144.9 1810.9,145.1 1813.0,145.3 1815.0,145.5 1817.0,145.7 1819.0,146.0 1821.1,146.2 1823.1,146.5 1825.1,146.9 1827.2,147.2 1829.2,147.6 1831.2,148.0 1833.3,148.4 1835.3,148.8 1837.3,149.3 1839.4,149.8 1841.4,150.3 1843.4,150.8 1845.5,151.4 1847.5,152.0 1849.5,152.6 1851.6,153.2 1853.6,153.9 1855.6,154.5 1857.7,155.2 1859.7,156.0 1861.7,156.7 1863.7,157.5 1865.8,158.3 1867.8,159.1 1869.8,160.0 1871.9,160.8 1873.9,161.7 1875.9,162.6 1878.0,163.6 1880.0,164.5 1882.0,165.5 1884.1,166.5 1886.1,167.6 1888.1,168.6 1890.2,169.7 1892.2,170.8 1894.2,172.0 1896.3,173.1 1898.3,174.3 1900.3,175.5 1902.4,176.8 1904.4,178.0 1906.4,179.3 1908.4,180.6 1910.5,181.9 1912.5,183.3 1914.5,184.7 1916.6,186.1 1918.6,187.5 1920.6,189.0 1922.7,190.5 1924.7,192.0 1926.7,193.5 1928.8,195.1 1930.8,196.6 1932.8,198.3 1934.9,199.9 1936.9,201.5 1938.9,203.2 1941.0,204.9 1943.0,206.7 1945.0,208.4 1947.1,210.2 1949.1,212.0 1951.1,213.9 1953.1,215.7 1955.2,217.6 1957.2,219.5 1959.2,221.5 1961.3,223.4 1963.3,225.4 1965.3,227.4 1967.4,229.4 1969.4,231.5 1971.4,233.6 1973.5,235.7 1975.5,237.9" fill="none" stroke="#EDB120" stroke-width="11.6" stroke-linejoin="round" stroke-linecap="butt" shape-rendering="crispEdges"/>
<polyline points="350.0,1296.5 352.0,1296.5 354.1,1296.5 356.1,1296.5 358.1,1296.5 360.2,1296.5 362.2,1296.5 364.2,1296.5 366.3,1296.5 368.3,1296.5 370.3,1296.5 372.4,1296.5 374.4,1296.5 376.4,1296.5 378.4,1296.5 380.5,1296.5 382.5,1296.5 384.5,1296.5 386.6,1296.5 388.6,1296.5 390.6,1296.5 392.7,1296.5 394.7,1296.5 396.7,1296.5 398.8,1296.5 400.8,1296.5 402.8,1296.5 404.9,1296.5 406.9,1296.5 408.9,1296.5 411.0,1296.5 413.0,1296.4 415.0,1296.4 417.1,1296.4 419.1,1296.4 421.1,1296.4 423.1,1296.4 425.2,1296.4 427.2,1296.4 429.2,1296.4 431.3,1296.4 433.3,1296.4 435.3,1296.4 437.4,1296.4 439.4,1296.4 441.4,1296.3 443.5,1296.3 445.5,1296.3 447.5,1296.3 449.6,1296.3 451.6,1296.3 453.6,1296.3 455.7,1296.3 457.7,1296.2 459.7,1296.2 461.8,1296.2 463.8,1296.2 465.8,1296.2 467.8,1296.2 469.9,1296.2 471.9,1296.1 473.9,1296.1 476.0,1296.1 478.0,1296.1 480.0,1296.1 482.1,1296.0 484.1,1296.0 486.1,1296.0 488.2,1296.0 490.2,1295.9 492.2,1295.9 494.3,1295.9 496.3,1295.9 498.3,1295.8 500.4,1295.8 502.4,1295.8 504.4,1295.8 506.5,1295.7 508.5,1295.7 510.5,1295.7 512.5,1295.6 514.6,1295.6 516.6,1295.6 518.6,1295.5 520.7,1295.5 522.7,1295.5 524.7,1295.4 526.8,1295.4 528.8,1295.4 530.8,1295.3 532.9,1295.3 534.9,1295.2 536.9,1295.2 539.0,1295.1 541.0,1295.1 543.0,1295.1 545.1,1295.0 547.1,1295.0 549.1,1294.9 551.2,1294.9 553.2,1294.8 555.2,1294.8 557.3,1294.7 559.3,1294.7 561.3,1294.6 563.3,1294.6 565.4,1294.5 567.4,1294.4 569.4,1294.4 571.5,1294.3 573.5,1294.3 575.5,1294.2 577.6,1294.1 579.6,1294.1 581.6,1294.0 583.7,1293.9 585.7,1293.9 587.7,1293.8 589.8,1293.7 591.8,1293.7 593.8,1293.6 595.9,1293.5 597.9,1293.5 599.9,1293.4 602.0,1293.3 604.0,1293.2 606.0,1293.2 608.0,1293.1 610.1,1293.0 612.1,1292.9 614.1,1292.8 616.2,1292.7 618.2,1292.7 620.2,1292.6 622.3,1292.5 624.3,1292.4 626.3,1292.3 628.4,1292.2 630.4,1292.1 632.4,1292.0 634.5,1291.9 636.5,1291.8 638.5,1291.7 640.6,1291.6 642.6,1291.5 644.6,1291.4 646.7,1291.3 648.7,1291.2 650.7,1291.1 652.7,1291.0 654.8,1290.9 656.8,1290.8 658.8,1290.7 660.9,1290.5 662.9,1290.4 664.9,1290.3 667.0,1290.2 669.0,1290.1 671.0,1290.0 673.1,1289.8 675.1,1289.7 677.1,1289.6 679.2,1289.5 681.2,1289.3 683.2,1289.2 685.3,1289.1 687.3,1288.9 689.3,1288.8 691.4,1288.7 693.4,1288.5 695.4,1288.4 697.5,1288.2 699.5,1288.1 701.5,1287.9 703.5,1287.8 705.6,1287.7 707.6,1287.5 709.6,1287.4 711.7,1287.2 713.7,1287.0 715.7,1286.9 717.8,1286.7 719.8,1286.6 721.8,1286.4 723.9,1286.3 725.9,1286.1 727.9,1285.9 730.0,1285.8 732.0,1285.6 734.0,1285.4 736.1,1285.2 738.1,1285.1 740.1,1284.9 742.2,1284.7 744.2,1284.5 746.2,1284.4 748.2,1284.2 750.3,1284.0 752.3,1283.8 754.3,1283.6 756.4,1283.4 758.4,1283.2 760.4,1283.0 762.5,1282.8 764.5,1282.6 766.5,1282.4 768.6,1282.2 770.6,1282.0 772.6,1281.8 774.7,1281.6 776.7,1281.4 778.7,1281.2 780.8,1281.0 782.8,1280.8 784.8,1280.6 786.9,1280.3 788.9,1280.1 790.9,1279.9 792.9,1279.7 795.0,1279.5 797.0,1279.2 799.0,1279.0 801.1,1278.8 803.1,1278.5 805.1,1278.3 807.2,1278.1 809.2,1277.8 811.2,1277.6 813.3,1277.3 815.3,1277.1 817.3,1276.8 819.4,1276.6 821.4,1276.4 823.4,1276.1 825.5,1275.8 827.5,1275.6 829.5,1275.3 831.6,1275.1 833.6,1274.8 835.6,1274.5 837.6,1274.3 839.7,1274.0 841.7,1273.7 843.7,1273.5 845.8,1273.2 847.8,1272.9 849.8,1272.6 851.9,1272.4 853.9,1272.1 855.9,1271.8 858.0,1271.5 860.0,1271.2 862.0,1270.9 864.1,1270.6 866.1,1270.3 868.1,1270.0 870.2,1269.7 872.2,1269.4 874.2,1269.1 876.3,1268.8 878.3,1268.5 880.3,1268.2 882.4,1267.9 884.4,1267.6 886.4,1267.3 888.4,1266.9 890.5,1266.6 892.5,1266.3 894.5,1266.0 896.6,1265.7 898.6,1265.3 900.6,1265.0 902.7,1264.7 904.7,1264.3 906.7,1264.0 908.8,1263.6 910.8,1263.3 912.8,1263.0 914.9,1262.6 916.9,1262.3 918.9,1261.9 921.0,1261.6 923.0,1261.2 925.0,1260.9 927.1,1260.5 929.1,1260.1 931.1,1259.8 933.1,1259.4 935.2,1259.0 937.2,1258.7 939.2,1258.3 941.3,1257.9 943.3,1257.5 945.3,1257.2 947.4,1256.8 949.4,1256.4 951.4,1256.0 953.5,1255.6 955.5,1255.2 957.5,1254.8 959.6,1254.4 961.6,1254.0 963.6,1253.7 965.7,1253.2 967.7,1252.8 969.7,1252.4 971.8,1252.0 973.8,1251.6 975.8,1251.2 977.8,1250.8 979.9,1250.4 981.9,1250.0 983.9,1249.5 986.0,1249.1 988.0,1248.7 990.0,1248.3 992.1,1247.8 994.1,1247.4 996.1,1247.0 998.2,1246.5 1000.2,1246.1 1002.2,1245.6 1004.3,1245.2 1006.3,1244.7 1008.3,1244.3 1010.4,1243.8 1012.4,1243.4 1014.4,1242.9 1016.5,1242.5 1018.5,1242.0 1020.5,1241.6 1022.6,1241.1 1024.6,1240.6 1026.6,1240.2 1028.6,1239.7 1030.7,1239.2 1032.7,1238.7 1034.7,1238.3 1036.8,1237.8 1038.8,1237.3 1040.8,1236.8 1042.9,1236.3 1044.9,1235.8 1046.9,1235.3 1049.0,1234.8 1051.0,1234.3 1053.0,1233.8 1055.1,1233.3 1057.1,1232.8 1059.1,1232.3 1061.2,1231.8 1063.2,1231.3 1065.2,1230.8 1067.3,1230.3 1069.3,1229.8 1071.3,1229.2 1073.3,1228.7 1075.4,1228.2 1077.4,1227.7 1079.4,1227.1 1081.5,1226.6 1083.5,1226.1 1085.5,1225.5 1087.6,1225.0 1089.6,1224.5 1091.6,1223.9 1093.7,1223.4 1095.7,1222.8 1097.7,1222.3 1099.8,1221.7 1101.8,1221.2 1103.8,1220.6 1105.9,1220.1 1107.9,1219.5 1109.9,1218.9 1112.0,1218.4 1114.0,1217.8 1116.0,1217.2 1118.0,1216.7 1120.1,1216.1 1122.1,1215.5 1124.1,1214.9 1126.2,1214.3 1128.2,1213.8 1130.2,1213.2 1132.3,1212.6 1134.3,1212.0 1136.3,1211.4 1138.4,1210.8 1140.4,1210.2 1142.4,1209.6 1144.5,1209.0 1146.5,1208.4 1148.5,1207.8 1150.6,1207.2 1152.6,1206.6 1154.6,1206.0 1156.7,1205.3 1158.7,1204.7 1160.7,1204.1 1162.8,1203.5 1164.8,1202.9 1166.8,1202.2 1168.8,1201.6 1170.9,1201.0 1172.9,1200.3 1174.9,1199.7 1177.0,1199.1 1179.0,1198.4 1181.0,1197.8 1183.1,1197.1 1185.1,1196.5 1187.1,1195.8 1189.2,1195.2 1191.2,1194.5 1193.2,1193.9 1195.3,1193.2 1197.3,1192.6 1199.3,1191.9 1201.4,1191.2 1203.4,1190.6 1205.4,1189.9 1207.5,1189.2 1209.5,1188.5 1211.5,1187.9 1213.5,1187.2 1215.6,1186.5 1217.6,1185.8 1219.6,1185.2 1221.7,1184.5 1223.7,1183.8 1225.7,1183.1 1227.8,1182.4 1229.8,1181.7 1231.8,1181.0 1233.9,1180.3 1235.9,1179.6 1237.9,1178.9 1240.0,1178.2 1242.0,1177.5 1244.0,1176.8 1246.1,1176.1 1248.1,1175.3 1250.1,1174.6 1252.2,1173.9 1254.2,1173.2 1256.2,1172.5 1258.2,1171.7 1260.3,1171.0 1262.3,1170.3 1264.3,1169.6 1266.4,1168.8 1268.4,1168.1 1270.4,1167.4 1272.5,1166.6 1274.5,1165.9 1276.5,1165.1 1278.6,1164.4 1280.6,1163.6 1282.6,1162.9 1284.7,1162.1 1286.7,1161.4 1288.7,1160.6 1290.8,1159.9 1292.8,1159.1 1294.8,1158.4 1296.9,1157.6 1298.9,1156.8 1300.9,1156.1 1302.9,1155.3 1305.0,1154.5 1307.0,1153.8 1309.0,1153.0 1311.1,1152.2 1313.1,1151.4 1315.1,1150.6 1317.2,1149.9 1319.2,1149.1 1321.2,1148.3 1323.3,1147.5 1325.3,1146.7 1327.3,1145.9 1329.4,1145.1 1331.4,1144.3 1333.4,1143.5 1335.5,1142.7 1337.5,1141.9 1339.5,1141.1 1341.6,1140.3 1343.6,1139.5 1345.6,1138.7 1347.7,1137.9 1349.7,1137.1 1351.7,1136.3 1353.7,1135.5 1355.8,1134.6 1357.8,1133.8 1359.8,1133.0 1361.9,1132.2 1363.9,1131.4 1365.9,1130.5 1368.0,1129.7 1370.0,1128.9 1372.0,1128.0 1374.1,1127.2 1376.1,1126.4 1378.1,1125.5 1380.2,1124.7 1382.2,1123.9 1384.2,1123.0 1386.3,1122.2 1388.3,1121.3 1390.3,1120.5 1392.4,1119.6 1394.4,1118.8 1396.4,1117.9 1398.4,1117.1 1400.5,1116.2 1402.5,1115.4 1404.5,1114.5 1406.6,1113.6 1408.6,1112.8 1410.6,1111.9 1412.7,1111.0 1414.7,1110.2 1416.7,1109.3 1418.8,1108.4 1420.8,1107.6 1422.8,1106.7 1424.9,1105.8 1426.9,1104.9 1428.9,1104.1 1431.0,1103.2 1433.0,1102.3 1435.0,1101.4 1437.1,1100.5 1439.1,1099.7 1441.1,1098.8 1443.1,1097.9 1445.2,1097.0 1447.2,1096.1 1449.2,1095.2 1451.3,1094.3 1453.3,1093.4 1455.3,1092.5 1457.4,1091.6 1459.4,1090.7 1461.4,1089.8 1463.5,1088.9 1465.5,1088.0 1467.5,1087.1 1469.6,1086.2 1471.6,1085.3 1473.6,1084.4 1475.7,1083.5 1477.7,1082.6 1479.7,1081.7 1481.8,1080.7 1483.8,1079.8 1485.8,1078.9 1487.8,1078.0 1489.9,1077.1 1491.9,1076.2 1493.9,1075.2 1496.0,1074.3 1498.0,1073.4 1500.0,1072.5 1502.1,1071.5 1504.1,1070.6 1506.1,1069.7 1508.2,1068.7 1510.2,1067.8 1512.2,1066.9 1514.3,1065.9 1516.3,1065.0 1518.3,1064.1 1520.4,1063.1 1522.4,1062.2 1524.4,1061.3 1526.5,1060.3 1528.5,1059.4 1530.5,1058.4 1532.6,1057.5 1534.6,1056.5 1536.6,1055.6 1538.6,1054.7 1540.7,1053.7 1542.7,1052.8 1544.7,1051.8 1546.8,1050.9 1548.8,1049.9 1550.8,1049.0 1552.9,1048.0 1554.9,1047.0 1556.9,1046.1 1559.0,1045.1 1561.0,1044.2 1563.0,1043.2 1565.1,1042.3 1567.1,1041.3 1569.1,1040.3 1571.2,1039.4 1573.2,1038.4 1575.2,1037.5 1577.3,1036.5 1579.3,1035.5 1581.3,1034.6 1583.3,1033.6 1585.4,1032.6 1587.4,1031.7 1589.4,1030.7 1591.5,1029.7 1593.5,1028.8 1595.5,1027.8 1597.6,1026.8 1599.6,1025.8 1601.6,1024.9 1603.7,1023.9 1605.7,1022.9 1607.7,1021.9 1609.8,1021.0 1611.8,1020.0 1613.8,1019.0 1615.9,1018.0 1617.9,1017.1 1619.9,1016.1 1622.0,1015.1 1624.0,1014.1 1626.0,1013.1 1628.0,1012.2 1630.1,1011.2 1632.1,1010.2 1634.1,1009.2 1636.2,1008.2 1638.2,1007.2 1640.2,1006.3 1642.3,1005.3 1644.3,1004.3 1646.3,1003.3 1648.4,1002.3 1650.4,1001.3 1652.4,1000.4 1654.5,999.4 1656.5,998.4 1658.5,997.4 1660.6,996.4 1662.6,995.4 1664.6,994.4 1666.7,993.4 1668.7,992.5 1670.7,991.5 1672.8,990.5 1674.8,989.5 1676.8,988.5 1678.8,987.5 1680.9,986.5 1682.9,985.5 1684.9,984.5 1687.0,983.5 1689.0,982.5 1691.0,981.6 1693.1,980.6 1695.1,979.6 1697.1,978.6 1699.2,977.6 1701.2,976.6 1703.2,975.6 1705.3,974.6 1707.3,973.6 1709.3,972.6 1711.4,971.6 1713.4,970.6 1715.4,969.7 1717.5,968.7 1719.5,967.7 1721.5,966.7 1723.5,965.7 1725.6,964.7 1727.6,963.7 1729.6,962.7 1731.7,961.7 1733.7,960.7 1735.7,959.7 1737.8,958.7 1739.8,957.8 1741.8,956.8 1743.9,955.8 1745.9,954.8 1747.9,953.8 1750.0,952.8 1752.0,951.8 1754.0,950.8 1756.1,949.8 1758.1,948.8 1760.1,947.9 1762.2,946.9 1764.2,945.9 1766.2,944.9 1768.2,943.9 1770.3,942.9 1772.3,941.9 1774.3,940.9 1776.4,940.0 1778.4,939.0 1780.4,938.0 1782.5,937.0 1784.5,936.0 1786.5,935.0 1788.6,934.0 1790.6,933.1 1792.6,932.1 1794.7,931.1 1796.7,930.1 1798.7,929.1 1800.8,928.2 1802.8,927.2 1804.8,926.2 1806.9,925.2 1808.9,924.2 1810.9,923.3 1813.0,922.3 1815.0,921.3 1817.0,920.3 1819.0,919.4 1821.1,918.4 1823.1,917.4 1825.1,916.4 1827.2,915.5 1829.2,914.5 1831.2,913.5 1833.3,912.5 1835.3,911.6 1837.3,910.6 1839.4,909.6 1841.4,908.7 1843.4,907.7 1845.5,906.7 1847.5,905.8 1849.5,904.8 1851.6,903.9 1853.6,902.9 1855.6,901.9 1857.7,901.0 1859.7,900.0 1861.7,899.1 1863.7,898.1 1865.8,897.1 1867.8,896.2 1869.8,895.2 1871.9,894.3 1873.9,893.3 1875.9,892.4 1878.0,891.4 1880.0,890.5 1882.0,889.5 1884.1,888.6 1886.1,887.6 1888.1,886.7 1890.2,885.8 1892.2,884.8 1894.2,883.9 1896.3,882.9 1898.3,882.0 1900.3,881.1 1902.4,880.1 1904.4,879.2 1906.4,878.3 1908.4,877.3 1910.5,876.4 1912.5,875.5 1914.5,874.5 1916.6,873.6 1918.6,872.7 1920.6,871.8 1922.7,870.8 1924.7,869.9 1926.7,869.0 1928.8,868.1 1930.8,867.2 1932.8,866.2 1934.9,865.3 1936.9,864.4 1938.9,863.5 1941.0,862.6 1943.0,861.7 1945.0,860.8 1947.1,859.9 1949.1,859.0 1951.1,858.1 1953.1,857.2 1955.2,856.3 1957.2,855.4 1959.2,854.5 1961.3,853.6 1963.3,852.7 1965.3,851.8 1967.4,850.9 1969.4,850.0 1971.4,849.1 1973.5,848.2 1975.5,847.4" fill="none" stroke="#FF14A0" stroke-width="11.6" stroke-linejoin="round" stroke-linecap="butt" shape-rendering="crispEdges"/>
</g>
<g>
<polyline points="350.0,3243.2 352.0,3243.2 354.1,3243.2 356.1,3243.1 358.1,3243.1 360.2,3243.1 362.2,3243.0 364.2,3243.0 366.3,3242.8 368.3,3242.7 370.3,3242.5 372.4,3242.3 374.4,3242.1 376.4,3241.8 378.4,3241.5 380.5,3241.1 382.5,3240.6 384.5,3240.1 386.6,3239.6 388.6,3239.0 390.6,3238.3 392.7,3237.5 394.7,3236.7 396.7,3235.8 398.8,3234.8 400.8,3233.8 402.8,3232.7 404.9,3231.5 406.9,3230.2 408.9,3228.8 411.0,3227.3 413.0,3225.8 415.0,3224.1 417.1,3222.4 419.1,3220.5 421.1,3218.6 423.1,3216.6 425.2,3214.5 427.2,3212.3 429.2,3210.0 431.3,3207.6 433.3,3205.1 435.3,3202.5 437.4,3199.8 439.4,3197.1 441.4,3194.2 443.5,3191.2 445.5,3188.2 447.5,3185.0 449.6,3181.8 451.6,3178.4 453.6,3175.0 455.7,3171.5 457.7,3167.9 459.7,3164.2 461.8,3160.5 463.8,3156.7 465.8,3152.8 467.8,3148.8 469.9,3144.7 471.9,3140.6 473.9,3136.4 476.0,3132.1 478.0,3127.8 480.0,3123.5 482.1,3119.0 484.1,3114.6 486.1,3110.0 488.2,3105.5 490.2,3100.8 492.2,3096.2 494.3,3091.5 496.3,3086.8 498.3,3082.0 500.4,3077.3 502.4,3072.5 504.4,3067.7 506.5,3062.9 508.5,3058.0 510.5,3053.2 512.5,3048.4 514.6,3043.6 516.6,3038.7 518.6,3033.9 520.7,3029.1 522.7,3024.4 524.7,3019.6 526.8,3014.9 528.8,3010.2 530.8,3005.5 532.9,3000.9 534.9,2996.3 536.9,2991.7 539.0,2987.2 541.0,2982.8 543.0,2978.4 545.1,2974.1 547.1,2969.8 549.1,2965.6 551.2,2961.5 553.2,2957.4 555.2,2953.4 557.3,2949.5 559.3,2945.6 561.3,2941.8 563.3,2938.2 565.4,2934.6 567.4,2931.0 569.4,2927.6 571.5,2924.3 573.5,2921.0 575.5,2917.9 577.6,2914.8 579.6,2911.9 581.6,2909.0 583.7,2906.3 585.7,2903.6 587.7,2901.0 589.8,2898.6 591.8,2896.2 593.8,2894.0 595.9,2891.8 597.9,2889.8 599.9,2887.8 602.0,2886.0 604.0,2884.2 606.0,2882.6 608.0,2881.0 610.1,2879.6 612.1,2878.2 614.1,2876.9 616.2,2875.8 618.2,2874.7 620.2,2873.7 622.3,2872.8 624.3,2872.0 626.3,2871.3 628.4,2870.7 630.4,2870.1 632.4,2869.6 634.5,2869.3 636.5,2868.9 638.5,2868.7 640.6,2868.5 642.6,2868.4 644.6,2868.3 646.7,2868.3 648.7,2868.4 650.7,2868.5 652.7,2868.6 654.8,2868.9 656.8,2869.1 658.8,2869.4 660.9,2869.7 662.9,2870.1 664.9,2870.5 667.0,2870.9 669.0,2871.3 671.0,2871.7 673.1,2872.2 675.1,2872.7 677.1,2873.1 679.2,2873.6 681.2,2874.1 683.2,2874.6 685.3,2875.0 687.3,2875.5 689.3,2875.9 691.4,2876.3 693.4,2876.7 695.4,2877.1 697.5,2877.4 699.5,2877.7 701.5,2877.9 703.5,2878.1 705.6,2878.3 707.6,2878.4 709.6,2878.5 711.7,2878.5 713.7,2878.5 715.7,2878.4 717.8,2878.2 719.8,2878.0 721.8,2877.7 723.9,2877.3 725.9,2876.9 727.9,2876.4 730.0,2875.8 732.0,2875.1 734.0,2874.4 736.1,2873.5 738.1,2872.6 740.1,2871.6 742.2,2870.5 744.2,2869.4 746.2,2868.1 748.2,2866.8 750.3,2865.3 752.3,2863.8 754.3,2862.2 756.4,2860.5 758.4,2858.7 760.4,2856.8 762.5,2854.8 764.5,2852.8 766.5,2850.6 768.6,2848.4 770.6,2846.0 772.6,2843.6 774.7,2841.1 776.7,2838.5 778.7,2835.9 780.8,2833.1 782.8,2830.3 784.8,2827.4 786.9,2824.4 788.9,2821.3 790.9,2818.2 792.9,2815.0 795.0,2811.8 797.0,2808.4 799.0,2805.0 801.1,2801.6 803.1,2798.1 805.1,2794.5 807.2,2790.9 809.2,2787.3 811.2,2783.6 813.3,2779.9 815.3,2776.1 817.3,2772.3 819.4,2768.4 821.4,2764.6 823.4,2760.7 825.5,2756.8 827.5,2752.9 829.5,2749.0 831.6,2745.0 833.6,2741.1 835.6,2737.2 837.6,2733.2 839.7,2729.3 841.7,2725.4 843.7,2721.5 845.8,2717.6 847.8,2713.7 849.8,2709.9 851.9,2706.1 853.9,2702.4 855.9,2698.6 858.0,2694.9 860.0,2691.3 862.0,2687.7 864.1,2684.2 866.1,2680.7 868.1,2677.3 870.2,2673.9 872.2,2670.6 874.2,2667.4 876.3,2664.2 878.3,2661.2 880.3,2658.1 882.4,2655.2 884.4,2652.4 886.4,2649.6 888.4,2647.0 890.5,2644.4 892.5,2641.9 894.5,2639.5 896.6,2637.2 898.6,2635.0 900.6,2632.9 902.7,2630.9 904.7,2629.0 906.7,2627.1 908.8,2625.4 910.8,2623.8 912.8,2622.4 914.9,2621.0 916.9,2619.7 918.9,2618.5 921.0,2617.4 923.0,2616.5 925.0,2615.6 927.1,2614.9 929.1,2614.2 931.1,2613.7 933.1,2613.2 935.2,2612.9 937.2,2612.6 939.2,2612.5 941.3,2612.5 943.3,2612.5 945.3,2612.7 947.4,2612.9 949.4,2613.3 951.4,2613.7 953.5,2614.2 955.5,2614.8 957.5,2615.5 959.6,2616.2 961.6,2617.1 963.6,2618.0 965.7,2619.0 967.7,2620.1 969.7,2621.2 971.8,2622.4 973.8,2623.6 975.8,2624.9 977.8,2626.3 979.9,2627.7 981.9,2629.1 983.9,2630.6 986.0,2632.2 988.0,2633.7 990.0,2635.3 992.1,2637.0 994.1,2638.6 996.1,2640.3 998.2,2642.0 1000.2,2643.7 1002.2,2645.4 1004.3,2647.1 1006.3,2648.8 1008.3,2650.6 1010.4,2652.3 1012.4,2654.0 1014.4,2655.7 1016.5,2657.3 1018.5,2659.0 1020.5,2660.6 1022.6,2662.2 1024.6,2663.8 1026.6,2665.3 1028.6,2666.8 1030.7,2668.3 1032.7,2669.7 1034.7,2671.1 1036.8,2672.4 1038.8,2673.6 1040.8,2674.8 1042.9,2676.0 1044.9,2677.0 1046.9,2678.1 1049.0,2679.0 1051.0,2679.9 1053.0,2680.7 1055.1,2681.4 1057.1,2682.1 1059.1,2682.7 1061.2,2683.2 1063.2,2683.6 1065.2,2684.0 1067.3,2684.2 1069.3,2684.4 1071.3,2684.5 1073.3,2684.5 1075.4,2684.4 1077.4,2684.2 1079.4,2684.0 1081.5,2683.6 1083.5,2683.2 1085.5,2682.7 1087.6,2682.1 1089.6,2681.4 1091.6,2680.6 1093.7,2679.7 1095.7,2678.8 1097.7,2677.8 1099.8,2676.6 1101.8,2675.4 1103.8,2674.2 1105.9,2672.8 1107.9,2671.4 1109.9,2669.9 1112.0,2668.3 1114.0,2666.6 1116.0,2664.9 1118.0,2663.1 1120.1,2661.3 1122.1,2659.4 1124.1,2657.4 1126.2,2655.3 1128.2,2653.3 1130.2,2651.1 1132.3,2649.0 1134.3,2646.7 1136.3,2644.5 1138.4,2642.2 1140.4,2639.8 1142.4,2637.4 1144.5,2635.0 1146.5,2632.6 1148.5,2630.2 1150.6,2627.7 1152.6,2625.3 1154.6,2622.8 1156.7,2620.3 1158.7,2617.8 1160.7,2615.3 1162.8,2612.8 1164.8,2610.4 1166.8,2607.9 1168.8,2605.5 1170.9,2603.1 1172.9,2600.7 1174.9,2598.3 1177.0,2596.0 1179.0,2593.7 1181.0,2591.4 1183.1,2589.2 1185.1,2587.0 1187.1,2584.9 1189.2,2582.9 1191.2,2580.9 1193.2,2578.9 1195.3,2577.0 1197.3,2575.2 1199.3,2573.5 1201.4,2571.8 1203.4,2570.2 1205.4,2568.7 1207.5,2567.3 1209.5,2565.9 1211.5,2564.6 1213.5,2563.5 1215.6,2562.4 1217.6,2561.4 1219.6,2560.5 1221.7,2559.7 1223.7,2559.0 1225.7,2558.4 1227.8,2557.9 1229.8,2557.5 1231.8,2557.2 1233.9,2557.0 1235.9,2556.9 1237.9,2556.9 1240.0,2557.0 1242.0,2557.2 1244.0,2557.6 1246.1,2558.0 1248.1,2558.6 1250.1,2559.2 1252.2,2560.0 1254.2,2560.8 1256.2,2561.8 1258.2,2562.9 1260.3,2564.1 1262.3,2565.3 1264.3,2566.7 1266.4,2568.2 1268.4,2569.8 1270.4,2571.4 1272.5,2573.2 1274.5,2575.1 1276.5,2577.0 1278.6,2579.1 1280.6,2581.2 1282.6,2583.4 1284.7,2585.7 1286.7,2588.1 1288.7,2590.5 1290.8,2593.0 1292.8,2595.6 1294.8,2598.2 1296.9,2601.0 1298.9,2603.7 1300.9,2606.6 1302.9,2609.4 1305.0,2612.4 1307.0,2615.4 1309.0,2618.4 1311.1,2621.5 1313.1,2624.6 1315.1,2627.7 1317.2,2630.8 1319.2,2634.0 1321.2,2637.2 1323.3,2640.5 1325.3,2643.7 1327.3,2646.9 1329.4,2650.2 1331.4,2653.4 1333.4,2656.7 1335.5,2659.9 1337.5,2663.2 1339.5,2666.4 1341.6,2669.6 1343.6,2672.8 1345.6,2675.9 1347.7,2679.0 1349.7,2682.1 1351.7,2685.2 1353.7,2688.2 1355.8,2691.2 1357.8,2694.2 1359.8,2697.0 1361.9,2699.9 1363.9,2702.7 1365.9,2705.4 1368.0,2708.1 1370.0,2710.7 1372.0,2713.2 1374.1,2715.7 1376.1,2718.1 1378.1,2720.4 1380.2,2722.7 1382.2,2724.8 1384.2,2726.9 1386.3,2729.0 1388.3,2730.9 1390.3,2732.8 1392.4,2734.6 1394.4,2736.2 1396.4,2737.9 1398.4,2739.4 1400.5,2740.8 1402.5,2742.1 1404.5,2743.4 1406.6,2744.6 1408.6,2745.7 1410.6,2746.6 1412.7,2747.5 1414.7,2748.4 1416.7,2749.1 1418.8,2749.7 1420.8,2750.3 1422.8,2750.8 1424.9,2751.1 1426.9,2751.4 1428.9,2751.7 1431.0,2751.8 1433.0,2751.9 1435.0,2751.9 1437.1,2751.8 1439.1,2751.6 1441.1,2751.4 1443.1,2751.1 1445.2,2750.7 1447.2,2750.3 1449.2,2749.8 1451.3,2749.3 1453.3,2748.7 1455.3,2748.0 1457.4,2747.3 1459.4,2746.6 1461.4,2745.8 1463.5,2745.0 1465.5,2744.1 1467.5,2743.2 1469.6,2742.3 1471.6,2741.3 1473.6,2740.3 1475.7,2739.3 1477.7,2738.3 1479.7,2737.3 1481.8,2736.3 1483.8,2735.3 1485.8,2734.2 1487.8,2733.2 1489.9,2732.2 1491.9,2731.2 1493.9,2730.2 1496.0,2729.2 1498.0,2728.3 1500.0,2727.4 1502.1,2726.5 1504.1,2725.6 1506.1,2724.8 1508.2,2724.0 1510.2,2723.3 1512.2,2722.6 1514.3,2722.0 1516.3,2721.4 1518.3,2720.9 1520.4,2720.4 1522.4,2720.0 1524.4,2719.7 1526.5,2719.5 1528.5,2719.3 1530.5,2719.2 1532.6,2719.2 1534.6,2719.2 1536.6,2719.4 1538.6,2719.6 1540.7,2719.9 1542.7,2720.3 1544.7,2720.8 1546.8,2721.4 1548.8,2722.1 1550.8,2722.8 1552.9,2723.7 1554.9,2724.7 1556.9,2725.8 1559.0,2727.0 1561.0,2728.3 1563.0,2729.6 1565.1,2731.1 1567.1,2732.7 1569.1,2734.4 1571.2,2736.2 1573.2,2738.1 1575.2,2740.1 1577.3,2742.3 1579.3,2744.5 1581.3,2746.8 1583.3,2749.2 1585.4,2751.7 1587.4,2754.3 1589.4,2757.1 1591.5,2759.9 1593.5,2762.8 1595.5,2765.8 1597.6,2768.9 1599.6,2772.1 1601.6,2775.3 1603.7,2778.7 1605.7,2782.1 1607.7,2785.6 1609.8,2789.2 1611.8,2792.9 1613.8,2796.6 1615.9,2800.5 1617.9,2804.3 1619.9,2808.3 1622.0,2812.3 1624.0,2816.3 1626.0,2820.4 1628.0,2824.6 1630.1,2828.8 1632.1,2833.1 1634.1,2837.4 1636.2,2841.7 1638.2,2846.0 1640.2,2850.4 1642.3,2854.8 1644.3,2859.3 1646.3,2863.7 1648.4,2868.2 1650.4,2872.7 1652.4,2877.1 1654.5,2881.6 1656.5,2886.1 1658.5,2890.6 1660.6,2895.0 1662.6,2899.5 1664.6,2903.9 1666.7,2908.3 1668.7,2912.7 1670.7,2917.1 1672.8,2921.4 1674.8,2925.7 1676.8,2930.0 1678.8,2934.2 1680.9,2938.4 1682.9,2942.5 1684.9,2946.5 1687.0,2950.5 1689.0,2954.5 1691.0,2958.4 1693.1,2962.2 1695.1,2966.0 1697.1,2969.7 1699.2,2973.3 1701.2,2976.8 1703.2,2980.3 1705.3,2983.7 1707.3,2987.0 1709.3,2990.3 1711.4,2993.4 1713.4,2996.5 1715.4,2999.5 1717.5,3002.3 1719.5,3005.1 1721.5,3007.9 1723.5,3010.5 1725.6,3013.0 1727.6,3015.4 1729.6,3017.8 1731.7,3020.0 1733.7,3022.2 1735.7,3024.3 1737.8,3026.2 1739.8,3028.1 1741.8,3029.9 1743.9,3031.6 1745.9,3033.2 1747.9,3034.7 1750.0,3036.2 1752.0,3037.5 1754.0,3038.8 1756.1,3039.9 1758.1,3041.0 1760.1,3042.0 1762.2,3043.0 1764.2,3043.8 1766.2,3044.6 1768.2,3045.3 1770.3,3046.0 1772.3,3046.5 1774.3,3047.0 1776.4,3047.5 1778.4,3047.9 1780.4,3048.2 1782.5,3048.4 1784.5,3048.7 1786.5,3048.8 1788.6,3049.0 1790.6,3049.1 1792.6,3049.1 1794.7,3049.1 1796.7,3049.1 1798.7,3049.1 1800.8,3049.0 1802.8,3048.9 1804.8,3048.9 1806.9,3048.7 1808.9,3048.6 1810.9,3048.5 1813.0,3048.4 1815.0,3048.3 1817.0,3048.2 1819.0,3048.1 1821.1,3048.0 1823.1,3047.9 1825.1,3047.8 1827.2,3047.8 1829.2,3047.8 1831.2,3047.9 1833.3,3047.9 1835.3,3048.1 1837.3,3048.2 1839.4,3048.4 1841.4,3048.7 1843.4,3049.0 1845.5,3049.4 1847.5,3049.8 1849.5,3050.3 1851.6,3050.8 1853.6,3051.4 1855.6,3052.1 1857.7,3052.9 1859.7,3053.7 1861.7,3054.7 1863.7,3055.7 1865.8,3056.8 1867.8,3057.9 1869.8,3059.2 1871.9,3060.5 1873.9,3062.0 1875.9,3063.5 1878.0,3065.1 1880.0,3066.8 1882.0,3068.6 1884.1,3070.5 1886.1,3072.5 1888.1,3074.6 1890.2,3076.8 1892.2,3079.1 1894.2,3081.5 1896.3,3084.0 1898.3,3086.6 1900.3,3089.3 1902.4,3092.1 1904.4,3095.0 1906.4,3098.0 1908.4,3101.0 1910.5,3104.2 1912.5,3107.5 1914.5,3110.8 1916.6,3114.3 1918.6,3117.8 1920.6,3121.5 1922.7,3125.2 1924.7,3129.0 1926.7,3132.9 1928.8,3136.8 1930.8,3140.8 1932.8,3145.0 1934.9,3149.1 1936.9,3153.4 1938.9,3157.7 1941.0,3162.1 1943.0,3166.5 1945.0,3171.0 1947.1,3175.6 1949.1,3180.2 1951.1,3184.9 1953.1,3189.6 1955.2,3194.3 1957.2,3199.1 1959.2,3203.9 1961.3,3208.7 1963.3,3213.6 1965.3,3218.5 1967.4,3223.4 1969.4,3228.3 1971.4,3233.3 1973.5,3238.2 1975.5,3243.2" fill="none" stroke="#000000" stroke-width="11.6" stroke-linejoin="round" stroke-linecap="butt" shape-rendering="crispEdges"/>
<polyline points="350.0,3243.2 352.0,3243.2 354.1,3243.2 356.1,3243.2 358.1,3243.2 360.2,3243.1 362.2,3243.1 364.2,3243.1 366.3,3243.1 368.3,3243.1 370.3,3243.0 372.4,3243.0 374.4,3242.9 376.4,3242.8 378.4,3242.7 380.5,3242.6 382.5,3242.5 384.5,3242.4 386.6,3242.3 388.6,3242.1 390.6,3241.9 392.7,3241.7 394.7,3241.5 396.7,3241.3 398.8,3241.0 400.8,3240.7 402.8,3240.4 404.9,3240.1 406.9,3239.8 408.9,3239.4 411.0,3239.0 413.0,3238.6 415.0,3238.1 417.1,3237.6 419.1,3237.1 421.1,3236.6 423.1,3236.0 425.2,3235.4 427.2,3234.8 429.2,3234.1 431.3,3233.4 433.3,3232.7 435.3,3231.9 437.4,3231.1 439.4,3230.3 441.4,3229.4 443.5,3228.5 445.5,3227.5 447.5,3226.5 449.6,3225.5 451.6,3224.4 453.6,3223.3 455.7,3222.2 457.7,3221.0 459.7,3219.8 461.8,3218.5 463.8,3217.2 465.8,3215.8 467.8,3214.5 469.9,3213.0 471.9,3211.5 473.9,3210.0 476.0,3208.4 478.0,3206.8 480.0,3205.2 482.1,3203.4 484.1,3201.7 486.1,3199.9 488.2,3198.1 490.2,3196.2 492.2,3194.2 494.3,3192.2 496.3,3190.2 498.3,3188.1 500.4,3186.0 502.4,3183.9 504.4,3181.6 506.5,3179.4 508.5,3177.1 510.5,3174.7 512.5,3172.3 514.6,3169.9 516.6,3167.4 518.6,3164.8 520.7,3162.2 522.7,3159.6 524.7,3156.9 526.8,3154.2 528.8,3151.4 530.8,3148.6 532.9,3145.7 534.9,3142.8 536.9,3139.8 539.0,3136.8 541.0,3133.8 543.0,3130.7 545.1,3127.5 547.1,3124.3 549.1,3121.1 551.2,3117.8 553.2,3114.5 555.2,3111.2 557.3,3107.8 559.3,3104.3 561.3,3100.8 563.3,3097.3 565.4,3093.8 567.4,3090.2 569.4,3086.5 571.5,3082.8 573.5,3079.1 575.5,3075.4 577.6,3071.6 579.6,3067.7 581.6,3063.9 583.7,3060.0 585.7,3056.1 587.7,3052.1 589.8,3048.1 591.8,3044.1 593.8,3040.0 595.9,3035.9 597.9,3031.8 599.9,3027.6 602.0,3023.4 604.0,3019.2 606.0,3015.0 608.0,3010.7 610.1,3006.4 612.1,3002.1 614.1,2997.8 616.2,2993.4 618.2,2989.0 620.2,2984.6 622.3,2980.2 624.3,2975.8 626.3,2971.3 628.4,2966.8 630.4,2962.3 632.4,2957.8 634.5,2953.3 636.5,2948.7 638.5,2944.2 640.6,2939.6 642.6,2935.0 644.6,2930.5 646.7,2925.9 648.7,2921.2 650.7,2916.6 652.7,2912.0 654.8,2907.4 656.8,2902.8 658.8,2898.1 660.9,2893.5 662.9,2888.9 664.9,2884.2 667.0,2879.6 669.0,2875.0 671.0,2870.3 673.1,2865.7 675.1,2861.1 677.1,2856.5 679.2,2851.9 681.2,2847.3 683.2,2842.7 685.3,2838.1 687.3,2833.5 689.3,2829.0 691.4,2824.4 693.4,2819.9 695.4,2815.4 697.5,2810.9 699.5,2806.4 701.5,2801.9 703.5,2797.5 705.6,2793.1 707.6,2788.7 709.6,2784.3 711.7,2779.9 713.7,2775.6 715.7,2771.3 717.8,2767.0 719.8,2762.7 721.8,2758.5 723.9,2754.3 725.9,2750.1 727.9,2746.0 730.0,2741.8 732.0,2737.8 734.0,2733.7 736.1,2729.7 738.1,2725.7 740.1,2721.8 742.2,2717.9 744.2,2714.0 746.2,2710.2 748.2,2706.4 750.3,2702.6 752.3,2698.9 754.3,2695.2 756.4,2691.6 758.4,2688.0 760.4,2684.5 762.5,2681.0 764.5,2677.5 766.5,2674.1 768.6,2670.7 770.6,2667.4 772.6,2664.1 774.7,2660.9 776.7,2657.7 778.7,2654.6 780.8,2651.5 782.8,2648.5 784.8,2645.5 786.9,2642.6 788.9,2639.7 790.9,2636.9 792.9,2634.2 795.0,2631.4 797.0,2628.8 799.0,2626.2 801.1,2623.6 803.1,2621.1 805.1,2618.7 807.2,2616.3 809.2,2614.0 811.2,2611.7 813.3,2609.5 815.3,2607.3 817.3,2605.2 819.4,2603.1 821.4,2601.1 823.4,2599.2 825.5,2597.3 827.5,2595.5 829.5,2593.7 831.6,2592.0 833.6,2590.4 835.6,2588.8 837.6,2587.3 839.7,2585.8 841.7,2584.4 843.7,2583.0 845.8,2581.7 847.8,2580.5 849.8,2579.3 851.9,2578.2 853.9,2577.1 855.9,2576.1 858.0,2575.2 860.0,2574.3 862.0,2573.5 864.1,2572.7 866.1,2572.0 868.1,2571.3 870.2,2570.7 872.2,2570.1 874.2,2569.6 876.3,2569.2 878.3,2568.8 880.3,2568.5 882.4,2568.2 884.4,2568.0 886.4,2567.8 888.4,2567.7 890.5,2567.7 892.5,2567.6 894.5,2567.7 896.6,2567.8 898.6,2567.9 900.6,2568.1 902.7,2568.4 904.7,2568.7 906.7,2569.0 908.8,2569.4 910.8,2569.8 912.8,2570.3 914.9,2570.9 916.9,2571.4 918.9,2572.1 921.0,2572.7 923.0,2573.4 925.0,2574.2 927.1,2575.0 929.1,2575.8 931.1,2576.7 933.1,2577.6 935.2,2578.6 937.2,2579.6 939.2,2580.6 941.3,2581.7 943.3,2582.8 945.3,2583.9 947.4,2585.1 949.4,2586.3 951.4,2587.6 953.5,2588.9 955.5,2590.2 957.5,2591.5 959.6,2592.9 961.6,2594.3 963.6,2595.7 965.7,2597.1 967.7,2598.6 969.7,2600.1 971.8,2601.6 973.8,2603.2 975.8,2604.8 977.8,2606.3 979.9,2608.0 981.9,2609.6 983.9,2611.2 986.0,2612.9 988.0,2614.6 990.0,2616.3 992.1,2618.0 994.1,2619.7 996.1,2621.4 998.2,2623.2 1000.2,2625.0 1002.2,2626.7 1004.3,2628.5 1006.3,2630.3 1008.3,2632.1 1010.4,2633.9 1012.4,2635.7 1014.4,2637.5 1016.5,2639.3 1018.5,2641.1 1020.5,2642.9 1022.6,2644.7 1024.6,2646.5 1026.6,2648.3 1028.6,2650.1 1030.7,2651.9 1032.7,2653.7 1034.7,2655.5 1036.8,2657.3 1038.8,2659.1 1040.8,2660.9 1042.9,2662.6 1044.9,2664.4 1046.9,2666.1 1049.0,2667.8 1051.0,2669.5 1053.0,2671.2 1055.1,2672.9 1057.1,2674.6 1059.1,2676.2 1061.2,2677.9 1063.2,2679.5 1065.2,2681.1 1067.3,2682.6 1069.3,2684.2 1071.3,2685.7 1073.3,2687.3 1075.4,2688.7 1077.4,2690.2 1079.4,2691.7 1081.5,2693.1 1083.5,2694.5 1085.5,2695.8 1087.6,2697.2 1089.6,2698.5 1091.6,2699.8 1093.7,2701.0 1095.7,2702.2 1097.7,2703.4 1099.8,2704.6 1101.8,2705.7 1103.8,2706.8 1105.9,2707.9 1107.9,2709.0 1109.9,2710.0 1112.0,2710.9 1114.0,2711.9 1116.0,2712.8 1118.0,2713.6 1120.1,2714.5 1122.1,2715.3 1124.1,2716.0 1126.2,2716.7 1128.2,2717.4 1130.2,2718.1 1132.3,2718.7 1134.3,2719.2 1136.3,2719.8 1138.4,2720.3 1140.4,2720.7 1142.4,2721.1 1144.5,2721.5 1146.5,2721.9 1148.5,2722.2 1150.6,2722.4 1152.6,2722.6 1154.6,2722.8 1156.7,2723.0 1158.7,2723.1 1160.7,2723.1 1162.8,2723.1 1164.8,2723.1 1166.8,2723.1 1168.8,2723.0 1170.9,2722.8 1172.9,2722.6 1174.9,2722.4 1177.0,2722.2 1179.0,2721.9 1181.0,2721.5 1183.1,2721.1 1185.1,2720.7 1187.1,2720.3 1189.2,2719.8 1191.2,2719.2 1193.2,2718.7 1195.3,2718.1 1197.3,2717.4 1199.3,2716.7 1201.4,2716.0 1203.4,2715.3 1205.4,2714.5 1207.5,2713.6 1209.5,2712.8 1211.5,2711.9 1213.5,2710.9 1215.6,2710.0 1217.6,2709.0 1219.6,2707.9 1221.7,2706.8 1223.7,2705.7 1225.7,2704.6 1227.8,2703.4 1229.8,2702.2 1231.8,2701.0 1233.9,2699.8 1235.9,2698.5 1237.9,2697.2 1240.0,2695.8 1242.0,2694.5 1244.0,2693.1 1246.1,2691.7 1248.1,2690.2 1250.1,2688.7 1252.2,2687.3 1254.2,2685.7 1256.2,2684.2 1258.2,2682.6 1260.3,2681.1 1262.3,2679.5 1264.3,2677.9 1266.4,2676.2 1268.4,2674.6 1270.4,2672.9 1272.5,2671.2 1274.5,2669.5 1276.5,2667.8 1278.6,2666.1 1280.6,2664.4 1282.6,2662.6 1284.7,2660.9 1286.7,2659.1 1288.7,2657.3 1290.8,2655.5 1292.8,2653.7 1294.8,2651.9 1296.9,2650.1 1298.9,2648.3 1300.9,2646.5 1302.9,2644.7 1305.0,2642.9 1307.0,2641.1 1309.0,2639.3 1311.1,2637.5 1313.1,2635.7 1315.1,2633.9 1317.2,2632.1 1319.2,2630.3 1321.2,2628.5 1323.3,2626.7 1325.3,2625.0 1327.3,2623.2 1329.4,2621.4 1331.4,2619.7 1333.4,2618.0 1335.5,2616.3 1337.5,2614.6 1339.5,2612.9 1341.6,2611.2 1343.6,2609.6 1345.6,2608.0 1347.7,2606.3 1349.7,2604.8 1351.7,2603.2 1353.7,2601.6 1355.8,2600.1 1357.8,2598.6 1359.8,2597.1 1361.9,2595.7 1363.9,2594.3 1365.9,2592.9 1368.0,2591.5 1370.0,2590.2 1372.0,2588.9 1374.1,2587.6 1376.1,2586.3 1378.1,2585.1 1380.2,2583.9 1382.2,2582.8 1384.2,2581.7 1386.3,2580.6 1388.3,2579.6 1390.3,2578.6 1392.4,2577.6 1394.4,2576.7 1396.4,2575.8 1398.4,2575.0 1400.5,2574.2 1402.5,2573.4 1404.5,2572.7 1406.6,2572.1 1408.6,2571.4 1410.6,2570.9 1412.7,2570.3 1414.7,2569.8 1416.7,2569.4 1418.8,2569.0 1420.8,2568.7 1422.8,2568.4 1424.9,2568.1 1426.9,2567.9 1428.9,2567.8 1431.0,2567.7 1433.0,2567.6 1435.0,2567.7 1437.1,2567.7 1439.1,2567.8 1441.1,2568.0 1443.1,2568.2 1445.2,2568.5 1447.2,2568.8 1449.2,2569.2 1451.3,2569.6 1453.3,2570.1 1455.3,2570.7 1457.4,2571.3 1459.4,2572.0 1461.4,2572.7 1463.5,2573.5 1465.5,2574.3 1467.5,2575.2 1469.6,2576.1 1471.6,2577.1 1473.6,2578.2 1475.7,2579.3 1477.7,2580.5 1479.7,2581.7 1481.8,2583.0 1483.8,2584.4 1485.8,2585.8 1487.8,2587.3 1489.9,2588.8 1491.9,2590.4 1493.9,2592.0 1496.0,2593.7 1498.0,2595.5 1500.0,2597.3 1502.1,2599.2 1504.1,2601.1 1506.1,2603.1 1508.2,2605.2 1510.2,2607.3 1512.2,2609.5 1514.3,2611.7 1516.3,2614.0 1518.3,2616.3 1520.4,2618.7 1522.4,2621.1 1524.4,2623.6 1526.5,2626.2 1528.5,2628.8 1530.5,2631.4 1532.6,2634.2 1534.6,2636.9 1536.6,2639.7 1538.6,2642.6 1540.7,2645.5 1542.7,2648.5 1544.7,2651.5 1546.8,2654.6 1548.8,2657.7 1550.8,2660.9 1552.9,2664.1 1554.9,2667.4 1556.9,2670.7 1559.0,2674.1 1561.0,2677.5 1563.0,2681.0 1565.1,2684.5 1567.1,2688.0 1569.1,2691.6 1571.2,2695.2 1573.2,2698.9 1575.2,2702.6 1577.3,2706.4 1579.3,2710.2 1581.3,2714.0 1583.3,2717.9 1585.4,2721.8 1587.4,2725.7 1589.4,2729.7 1591.5,2733.7 1593.5,2737.8 1595.5,2741.8 1597.6,2746.0 1599.6,2750.1 1601.6,2754.3 1603.7,2758.5 1605.7,2762.7 1607.7,2767.0 1609.8,2771.3 1611.8,2775.6 1613.8,2779.9 1615.9,2784.3 1617.9,2788.7 1619.9,2793.1 1622.0,2797.5 1624.0,2801.9 1626.0,2806.4 1628.0,2810.9 1630.1,2815.4 1632.1,2819.9 1634.1,2824.4 1636.2,2829.0 1638.2,2833.5 1640.2,2838.1 1642.3,2842.7 1644.3,2847.3 1646.3,2851.9 1648.4,2856.5 1650.4,2861.1 1652.4,2865.7 1654.5,2870.3 1656.5,2875.0 1658.5,2879.6 1660.6,2884.2 1662.6,2888.9 1664.6,2893.5 1666.7,2898.1 1668.7,2902.8 1670.7,2907.4 1672.8,2912.0 1674.8,2916.6 1676.8,2921.2 1678.8,2925.9 1680.9,2930.5 1682.9,2935.0 1684.9,2939.6 1687.0,2944.2 1689.0,2948.7 1691.0,2953.3 1693.1,2957.8 1695.1,2962.3 1697.1,2966.8 1699.2,2971.3 1701.2,2975.8 1703.2,2980.2 1705.3,2984.6 1707.3,2989.0 1709.3,2993.4 1711.4,2997.8 1713.4,3002.1 1715.4,3006.4 1717.5,3010.7 1719.5,3015.0 1721.5,3019.2 1723.5,3023.4 1725.6,3027.6 1727.6,3031.8 1729.6,3035.9 1731.7,3040.0 1733.7,3044.1 1735.7,3048.1 1737.8,3052.1 1739.8,3056.1 1741.8,3060.0 1743.9,3063.9 1745.9,3067.7 1747.9,3071.6 1750.0,3075.4 1752.0,3079.1 1754.0,3082.8 1756.1,3086.5 1758.1,3090.2 1760.1,3093.8 1762.2,3097.3 1764.2,3100.8 1766.2,3104.3 1768.2,3107.8 1770.3,3111.2 1772.3,3114.5 1774.3,3117.8 1776.4,3121.1 1778.4,3124.3 1780.4,3127.5 1782.5,3130.7 1784.5,3133.8 1786.5,3136.8 1788.6,3139.8 1790.6,3142.8 1792.6,3145.7 1794.7,3148.6 1796.7,3151.4 1798.7,3154.2 1800.8,3156.9 1802.8,3159.6 1804.8,3162.2 1806.9,3164.8 1808.9,3167.4 1810.9,3169.9 1813.0,3172.3 1815.0,3174.7 1817.0,3177.1 1819.0,3179.4 1821.1,3181.6 1823.1,3183.9 1825.1,3186.0 1827.2,3188.1 1829.2,3190.2 1831.2,3192.2 1833.3,3194.2 1835.3,3196.2 1837.3,3198.1 1839.4,3199.9 1841.4,3201.7 1843.4,3203.4 1845.5,3205.2 1847.5,3206.8 1849.5,3208.4 1851.6,3210.0 1853.6,3211.5 1855.6,3213.0 1857.7,3214.5 1859.7,3215.8 1861.7,3217.2 1863.7,3218.5 1865.8,3219.8 1867.8,3221.0 1869.8,3222.2 1871.9,3223.3 1873.9,3224.4 1875.9,3225.5 1878.0,3226.5 1880.0,3227.5 1882.0,3228.5 1884.1,3229.4 1886.1,3230.3 1888.1,3231.1 1890.2,3231.9 1892.2,3232.7 1894.2,3233.4 1896.3,3234.1 1898.3,3234.8 1900.3,3235.4 1902.4,3236.0 1904.4,3236.6 1906.4,3237.1 1908.4,3237.6 1910.5,3238.1 1912.5,3238.6 1914.5,3239.0 1916.6,3239.4 1918.6,3239.8 1920.6,3240.1 1922.7,3240.4 1924.7,3240.7 1926.7,3241.0 1928.8,3241.3 1930.8,3241.5 1932.8,3241.7 1934.9,3241.9 1936.9,3242.1 1938.9,3242.3 1941.0,3242.4 1943.0,3242.5 1945.0,3242.6 1947.1,3242.7 1949.1,3242.8 1951.1,3242.9 1953.1,3243.0 1955.2,3243.0 1957.2,3243.1 1959.2,3243.1 1961.3,3243.1 1963.3,3243.1 1965.3,3243.1 1967.4,3243.2 1969.4,3243.2 1971.4,3243.2 1973.5,3243.2 1975.5,3243.2" fill="none" stroke="#D95319" stroke-width="11.6" stroke-linejoin="round" stroke-linecap="butt" shape-rendering="crispEdges"/>
<polyline points="350.0,3243.2 352.0,3243.2 354.1,3243.2 356.1,3243.2 358.1,3243.2 360.2,3243.2 362.2,3243.2 364.2,3243.2 366.3,3243.1 368.3,3243.1 370.3,3243.1 372.4,3243.1 374.4,3243.1 376.4,3243.1 378.4,3243.1 380.5,3243.0 382.5,3243.0 384.5,3243.0 386.6,3242.9 388.6,3242.9 390.6,3242.9 392.7,3242.8 394.7,3242.7 396.7,3242.7 398.8,3242.6 400.8,3242.6 402.8,3242.5 404.9,3242.4 406.9,3242.3 408.9,3242.2 411.0,3242.1 413.0,3242.0 415.0,3241.9 417.1,3241.8 419.1,3241.6 421.1,3241.5 423.1,3241.3 425.2,3241.2 427.2,3241.0 429.2,3240.9 431.3,3240.7 433.3,3240.5 435.3,3240.3 437.4,3240.1 439.4,3239.8 441.4,3239.6 443.5,3239.4 445.5,3239.1 447.5,3238.9 449.6,3238.6 451.6,3238.3 453.6,3238.0 455.7,3237.7 457.7,3237.4 459.7,3237.1 461.8,3236.7 463.8,3236.4 465.8,3236.0 467.8,3235.6 469.9,3235.2 471.9,3234.8 473.9,3234.4 476.0,3234.0 478.0,3233.5 480.0,3233.1 482.1,3232.6 484.1,3232.1 486.1,3231.6 488.2,3231.1 490.2,3230.6 492.2,3230.0 494.3,3229.5 496.3,3228.9 498.3,3228.3 500.4,3227.7 502.4,3227.1 504.4,3226.4 506.5,3225.8 508.5,3225.1 510.5,3224.4 512.5,3223.7 514.6,3223.0 516.6,3222.3 518.6,3221.5 520.7,3220.7 522.7,3220.0 524.7,3219.1 526.8,3218.3 528.8,3217.5 530.8,3216.6 532.9,3215.7 534.9,3214.8 536.9,3213.9 539.0,3213.0 541.0,3212.1 543.0,3211.1 545.1,3210.1 547.1,3209.1 549.1,3208.1 551.2,3207.0 553.2,3206.0 555.2,3204.9 557.3,3203.8 559.3,3202.6 561.3,3201.5 563.3,3200.3 565.4,3199.2 567.4,3197.9 569.4,3196.7 571.5,3195.5 573.5,3194.2 575.5,3192.9 577.6,3191.6 579.6,3190.3 581.6,3189.0 583.7,3187.6 585.7,3186.2 587.7,3184.8 589.8,3183.4 591.8,3181.9 593.8,3180.4 595.9,3178.9 597.9,3177.4 599.9,3175.9 602.0,3174.3 604.0,3172.8 606.0,3171.2 608.0,3169.5 610.1,3167.9 612.1,3166.2 614.1,3164.5 616.2,3162.8 618.2,3161.1 620.2,3159.3 622.3,3157.6 624.3,3155.8 626.3,3154.0 628.4,3152.1 630.4,3150.2 632.4,3148.4 634.5,3146.5 636.5,3144.5 638.5,3142.6 640.6,3140.6 642.6,3138.6 644.6,3136.6 646.7,3134.5 648.7,3132.5 650.7,3130.4 652.7,3128.3 654.8,3126.2 656.8,3124.0 658.8,3121.8 660.9,3119.6 662.9,3117.4 664.9,3115.2 667.0,3112.9 669.0,3110.6 671.0,3108.3 673.1,3106.0 675.1,3103.7 677.1,3101.3 679.2,3098.9 681.2,3096.5 683.2,3094.0 685.3,3091.6 687.3,3089.1 689.3,3086.6 691.4,3084.1 693.4,3081.5 695.4,3079.0 697.5,3076.4 699.5,3073.8 701.5,3071.1 703.5,3068.5 705.6,3065.8 707.6,3063.1 709.6,3060.4 711.7,3057.7 713.7,3054.9 715.7,3052.1 717.8,3049.3 719.8,3046.5 721.8,3043.7 723.9,3040.8 725.9,3038.0 727.9,3035.1 730.0,3032.1 732.0,3029.2 734.0,3026.2 736.1,3023.3 738.1,3020.3 740.1,3017.2 742.2,3014.2 744.2,3011.1 746.2,3008.1 748.2,3005.0 750.3,3001.9 752.3,2998.7 754.3,2995.6 756.4,2992.4 758.4,2989.2 760.4,2986.0 762.5,2982.8 764.5,2979.5 766.5,2976.3 768.6,2973.0 770.6,2969.7 772.6,2966.4 774.7,2963.1 776.7,2959.7 778.7,2956.4 780.8,2953.0 782.8,2949.6 784.8,2946.2 786.9,2942.7 788.9,2939.3 790.9,2935.8 792.9,2932.3 795.0,2928.9 797.0,2925.3 799.0,2921.8 801.1,2918.3 803.1,2914.7 805.1,2911.2 807.2,2907.6 809.2,2904.0 811.2,2900.4 813.3,2896.8 815.3,2893.1 817.3,2889.5 819.4,2885.8 821.4,2882.1 823.4,2878.4 825.5,2874.7 827.5,2871.0 829.5,2867.3 831.6,2863.6 833.6,2859.8 835.6,2856.1 837.6,2852.3 839.7,2848.5 841.7,2844.7 843.7,2840.9 845.8,2837.1 847.8,2833.3 849.8,2829.4 851.9,2825.6 853.9,2821.7 855.9,2817.9 858.0,2814.0 860.0,2810.1 862.0,2806.2 864.1,2802.3 866.1,2798.4 868.1,2794.5 870.2,2790.6 872.2,2786.7 874.2,2782.7 876.3,2778.8 878.3,2774.8 880.3,2770.9 882.4,2766.9 884.4,2763.0 886.4,2759.0 888.4,2755.0 890.5,2751.0 892.5,2747.1 894.5,2743.1 896.6,2739.1 898.6,2735.1 900.6,2731.1 902.7,2727.1 904.7,2723.1 906.7,2719.1 908.8,2715.0 910.8,2711.0 912.8,2707.0 914.9,2703.0 916.9,2699.0 918.9,2695.0 921.0,2690.9 923.0,2686.9 925.0,2682.9 927.1,2678.9 929.1,2674.9 931.1,2670.8 933.1,2666.8 935.2,2662.8 937.2,2658.8 939.2,2654.8 941.3,2650.8 943.3,2646.8 945.3,2642.8 947.4,2638.7 949.4,2634.7 951.4,2630.7 953.5,2626.8 955.5,2622.8 957.5,2618.8 959.6,2614.8 961.6,2610.8 963.6,2606.9 965.7,2602.9 967.7,2598.9 969.7,2595.0 971.8,2591.0 973.8,2587.1 975.8,2583.2 977.8,2579.2 979.9,2575.3 981.9,2571.4 983.9,2567.5 986.0,2563.6 988.0,2559.7 990.0,2555.9 992.1,2552.0 994.1,2548.1 996.1,2544.3 998.2,2540.5 1000.2,2536.6 1002.2,2532.8 1004.3,2529.0 1006.3,2525.2 1008.3,2521.5 1010.4,2517.7 1012.4,2513.9 1014.4,2510.2 1016.5,2506.5 1018.5,2502.7 1020.5,2499.0 1022.6,2495.4 1024.6,2491.7 1026.6,2488.0 1028.6,2484.4 1030.7,2480.7 1032.7,2477.1 1034.7,2473.5 1036.8,2470.0 1038.8,2466.4 1040.8,2462.8 1042.9,2459.3 1044.9,2455.8 1046.9,2452.3 1049.0,2448.8 1051.0,2445.3 1053.0,2441.9 1055.1,2438.5 1057.1,2435.1 1059.1,2431.7 1061.2,2428.3 1063.2,2424.9 1065.2,2421.6 1067.3,2418.3 1069.3,2415.0 1071.3,2411.7 1073.3,2408.5 1075.4,2405.3 1077.4,2402.1 1079.4,2398.9 1081.5,2395.7 1083.5,2392.6 1085.5,2389.5 1087.6,2386.4 1089.6,2383.3 1091.6,2380.2 1093.7,2377.2 1095.7,2374.2 1097.7,2371.2 1099.8,2368.3 1101.8,2365.4 1103.8,2362.4 1105.9,2359.6 1107.9,2356.7 1109.9,2353.9 1112.0,2351.1 1114.0,2348.3 1116.0,2345.6 1118.0,2342.8 1120.1,2340.1 1122.1,2337.5 1124.1,2334.8 1126.2,2332.2 1128.2,2329.6 1130.2,2327.1 1132.3,2324.6 1134.3,2322.1 1136.3,2319.6 1138.4,2317.1 1140.4,2314.7 1142.4,2312.3 1144.5,2310.0 1146.5,2307.7 1148.5,2305.4 1150.6,2303.1 1152.6,2300.9 1154.6,2298.7 1156.7,2296.5 1158.7,2294.3 1160.7,2292.2 1162.8,2290.2 1164.8,2288.1 1166.8,2286.1 1168.8,2284.1 1170.9,2282.2 1172.9,2280.2 1174.9,2278.4 1177.0,2276.5 1179.0,2274.7 1181.0,2272.9 1183.1,2271.1 1185.1,2269.4 1187.1,2267.7 1189.2,2266.1 1191.2,2264.5 1193.2,2262.9 1195.3,2261.3 1197.3,2259.8 1199.3,2258.3 1201.4,2256.9 1203.4,2255.5 1205.4,2254.1 1207.5,2252.8 1209.5,2251.5 1211.5,2250.2 1213.5,2249.0 1215.6,2247.8 1217.6,2246.6 1219.6,2245.5 1221.7,2244.4 1223.7,2243.4 1225.7,2242.3 1227.8,2241.4 1229.8,2240.4 1231.8,2239.5 1233.9,2238.7 1235.9,2237.8 1237.9,2237.0 1240.0,2236.3 1242.0,2235.6 1244.0,2234.9 1246.1,2234.2 1248.1,2233.6 1250.1,2233.1 1252.2,2232.6 1254.2,2232.1 1256.2,2231.6 1258.2,2231.2 1260.3,2230.8 1262.3,2230.5 1264.3,2230.2 1266.4,2229.9 1268.4,2229.7 1270.4,2229.5 1272.5,2229.4 1274.5,2229.3 1276.5,2229.2 1278.6,2229.2 1280.6,2229.2 1282.6,2229.3 1284.7,2229.4 1286.7,2229.5 1288.7,2229.7 1290.8,2229.9 1292.8,2230.1 1294.8,2230.4 1296.9,2230.7 1298.9,2231.1 1300.9,2231.5 1302.9,2232.0 1305.0,2232.4 1307.0,2233.0 1309.0,2233.5 1311.1,2234.1 1313.1,2234.8 1315.1,2235.5 1317.2,2236.2 1319.2,2237.0 1321.2,2237.8 1323.3,2238.6 1325.3,2239.5 1327.3,2240.4 1329.4,2241.4 1331.4,2242.4 1333.4,2243.4 1335.5,2244.5 1337.5,2245.6 1339.5,2246.8 1341.6,2248.0 1343.6,2249.2 1345.6,2250.5 1347.7,2251.8 1349.7,2253.1 1351.7,2254.5 1353.7,2256.0 1355.8,2257.4 1357.8,2259.0 1359.8,2260.5 1361.9,2262.1 1363.9,2263.7 1365.9,2265.4 1368.0,2267.1 1370.0,2268.8 1372.0,2270.6 1374.1,2272.4 1376.1,2274.3 1378.1,2276.2 1380.2,2278.1 1382.2,2280.1 1384.2,2282.1 1386.3,2284.2 1388.3,2286.2 1390.3,2288.4 1392.4,2290.5 1394.4,2292.7 1396.4,2295.0 1398.4,2297.2 1400.5,2299.6 1402.5,2301.9 1404.5,2304.3 1406.6,2306.7 1408.6,2309.2 1410.6,2311.7 1412.7,2314.2 1414.7,2316.8 1416.7,2319.4 1418.8,2322.0 1420.8,2324.7 1422.8,2327.4 1424.9,2330.2 1426.9,2332.9 1428.9,2335.8 1431.0,2338.6 1433.0,2341.5 1435.0,2344.4 1437.1,2347.4 1439.1,2350.4 1441.1,2353.4 1443.1,2356.5 1445.2,2359.5 1447.2,2362.7 1449.2,2365.8 1451.3,2369.0 1453.3,2372.3 1455.3,2375.5 1457.4,2378.8 1459.4,2382.1 1461.4,2385.5 1463.5,2388.9 1465.5,2392.3 1467.5,2395.8 1469.6,2399.3 1471.6,2402.8 1473.6,2406.3 1475.7,2409.9 1477.7,2413.5 1479.7,2417.2 1481.8,2420.8 1483.8,2424.5 1485.8,2428.3 1487.8,2432.0 1489.9,2435.8 1491.9,2439.7 1493.9,2443.5 1496.0,2447.4 1498.0,2451.3 1500.0,2455.2 1502.1,2459.2 1504.1,2463.2 1506.1,2467.2 1508.2,2471.3 1510.2,2475.3 1512.2,2479.4 1514.3,2483.6 1516.3,2487.7 1518.3,2491.9 1520.4,2496.1 1522.4,2500.3 1524.4,2504.6 1526.5,2508.9 1528.5,2513.2 1530.5,2517.5 1532.6,2521.9 1534.6,2526.3 1536.6,2530.7 1538.6,2535.1 1540.7,2539.5 1542.7,2544.0 1544.7,2548.5 1546.8,2553.0 1548.8,2557.6 1550.8,2562.1 1552.9,2566.7 1554.9,2571.3 1556.9,2576.0 1559.0,2580.6 1561.0,2585.3 1563.0,2590.0 1565.1,2594.7 1567.1,2599.4 1569.1,2604.2 1571.2,2608.9 1573.2,2613.7 1575.2,2618.5 1577.3,2623.3 1579.3,2628.2 1581.3,2633.0 1583.3,2637.9 1585.4,2642.8 1587.4,2647.7 1589.4,2652.6 1591.5,2657.6 1593.5,2662.5 1595.5,2667.5 1597.6,2672.5 1599.6,2677.5 1601.6,2682.5 1603.7,2687.5 1605.7,2692.6 1607.7,2697.7 1609.8,2702.7 1611.8,2707.8 1613.8,2712.9 1615.9,2718.0 1617.9,2723.1 1619.9,2728.3 1622.0,2733.4 1624.0,2738.6 1626.0,2743.8 1628.0,2748.9 1630.1,2754.1 1632.1,2759.3 1634.1,2764.5 1636.2,2769.7 1638.2,2775.0 1640.2,2780.2 1642.3,2785.5 1644.3,2790.7 1646.3,2796.0 1648.4,2801.2 1650.4,2806.5 1652.4,2811.8 1654.5,2817.1 1656.5,2822.4 1658.5,2827.7 1660.6,2833.0 1662.6,2838.3 1664.6,2843.6 1666.7,2848.9 1668.7,2854.2 1670.7,2859.6 1672.8,2864.9 1674.8,2870.2 1676.8,2875.6 1678.8,2880.9 1680.9,2886.2 1682.9,2891.6 1684.9,2896.9 1687.0,2902.3 1689.0,2907.6 1691.0,2913.0 1693.1,2918.3 1695.1,2923.7 1697.1,2929.0 1699.2,2934.4 1701.2,2939.7 1703.2,2945.1 1705.3,2950.4 1707.3,2955.8 1709.3,2961.1 1711.4,2966.4 1713.4,2971.8 1715.4,2977.1 1717.5,2982.4 1719.5,2987.8 1721.5,2993.1 1723.5,2998.4 1725.6,3003.7 1727.6,3009.0 1729.6,3014.3 1731.7,3019.6 1733.7,3024.9 1735.7,3030.2 1737.8,3035.5 1739.8,3040.7 1741.8,3046.0 1743.9,3051.3 1745.9,3056.5 1747.9,3061.8 1750.0,3067.0 1752.0,3072.2 1754.0,3077.4 1756.1,3082.7 1758.1,3087.9 1760.1,3093.0 1762.2,3098.2 1764.2,3103.4 1766.2,3108.6 1768.2,3113.7 1770.3,3118.8 1772.3,3124.0 1774.3,3129.1 1776.4,3134.2 1778.4,3139.3 1780.4,3144.4 1782.5,3149.4 1784.5,3154.5 1786.5,3159.5 1788.6,3164.5 1790.6,3169.6 1792.6,3174.6 1794.7,3179.5 1796.7,3184.5 1798.7,3189.5 1800.8,3194.4 1802.8,3199.3 1804.8,3204.2 1806.9,3209.1 1808.9,3214.0 1810.9,3218.9 1813.0,3223.7 1815.0,3228.6 1817.0,3233.4 1819.0,3238.2 1821.1,3242.9 1823.1,3247.7 1825.1,3252.4 1827.2,3257.2 1829.2,3261.9 1831.2,3266.6 1833.3,3271.2 1835.3,3275.9 1837.3,3280.5 1839.4,3285.1 1841.4,3289.7 1843.4,3294.3 1845.5,3298.8 1847.5,3303.4 1849.5,3307.9 1851.6,3312.4 1853.6,3316.8 1855.6,3321.3 1857.7,3325.7 1859.7,3330.1 1861.7,3334.5 1863.7,3338.8 1865.8,3343.2 1867.8,3347.5 1869.8,3351.8 1871.9,3356.1 1873.9,3360.3 1875.9,3364.5 1878.0,3368.7 1880.0,3372.9 1882.0,3377.1 1884.1,3381.2 1886.1,3385.3 1888.1,3389.4 1890.2,3393.4 1892.2,3397.5 1894.2,3401.5 1896.3,3405.5 1898.3,3409.4 1900.3,3413.4 1902.4,3417.3 1904.4,3421.2 1906.4,3425.0 1908.4,3428.9 1910.5,3432.7 1912.5,3436.5 1914.5,3440.2 1916.6,3443.9 1918.6,3447.6 1920.6,3451.3 1922.7,3455.0 1924.7,3458.6 1926.7,3462.2 1928.8,3465.8 1930.8,3469.3 1932.8,3472.8 1934.9,3476.3 1936.9,3479.8 1938.9,3483.2 1941.0,3486.6 1943.0,3490.0 1945.0,3493.4 1947.1,3496.7 1949.1,3500.0 1951.1,3503.3 1953.1,3506.5 1955.2,3509.7 1957.2,3512.9 1959.2,3516.1 1961.3,3519.2 1963.3,3522.3 1965.3,3525.4 1967.4,3528.4 1969.4,3531.4 1971.4,3534.4 1973.5,3537.4 1975.5,3540.3" fill="none" stroke="#0072BD" stroke-width="11.6" stroke-linejoin="round" stroke-linecap="butt" shape-rendering="crispEdges"/>
<polyline points="350.0,3243.2 352.0,3243.2 354.1,3243.2 356.1,3243.2 358.1,3243.2 360.2,3243.2 362.2,3243.2 364.2,3243.2 366.3,3243.2 368.3,3243.2 370.3,3243.1 372.4,3243.1 374.4,3243.1 376.4,3243.1 378.4,3243.1 380.5,3243.1 382.5,3243.1 384.5,3243.1 386.6,3243.1 388.6,3243.0 390.6,3243.0 392.7,3243.0 394.7,3243.0 396.7,3243.0 398.8,3242.9 400.8,3242.9 402.8,3242.9 404.9,3242.8 406.9,3242.8 408.9,3242.7 411.0,3242.7 413.0,3242.6 415.0,3242.6 417.1,3242.5 419.1,3242.5 421.1,3242.4 423.1,3242.4 425.2,3242.3 427.2,3242.2 429.2,3242.1 431.3,3242.1 433.3,3242.0 435.3,3241.9 437.4,3241.8 439.4,3241.7 441.4,3241.6 443.5,3241.5 445.5,3241.4 447.5,3241.2 449.6,3241.1 451.6,3241.0 453.6,3240.9 455.7,3240.7 457.7,3240.6 459.7,3240.4 461.8,3240.3 463.8,3240.1 465.8,3240.0 467.8,3239.8 469.9,3239.6 471.9,3239.4 473.9,3239.2 476.0,3239.0 478.0,3238.8 480.0,3238.6 482.1,3238.4 484.1,3238.2 486.1,3238.0 488.2,3237.7 490.2,3237.5 492.2,3237.3 494.3,3237.0 496.3,3236.7 498.3,3236.5 500.4,3236.2 502.4,3235.9 504.4,3235.6 506.5,3235.3 508.5,3235.0 510.5,3234.7 512.5,3234.4 514.6,3234.0 516.6,3233.7 518.6,3233.4 520.7,3233.0 522.7,3232.6 524.7,3232.3 526.8,3231.9 528.8,3231.5 530.8,3231.1 532.9,3230.7 534.9,3230.3 536.9,3229.9 539.0,3229.4 541.0,3229.0 543.0,3228.6 545.1,3228.1 547.1,3227.6 549.1,3227.2 551.2,3226.7 553.2,3226.2 555.2,3225.7 557.3,3225.2 559.3,3224.6 561.3,3224.1 563.3,3223.6 565.4,3223.0 567.4,3222.4 569.4,3221.9 571.5,3221.3 573.5,3220.7 575.5,3220.1 577.6,3219.5 579.6,3218.8 581.6,3218.2 583.7,3217.6 585.7,3216.9 587.7,3216.2 589.8,3215.6 591.8,3214.9 593.8,3214.2 595.9,3213.5 597.9,3212.8 599.9,3212.0 602.0,3211.3 604.0,3210.5 606.0,3209.8 608.0,3209.0 610.1,3208.2 612.1,3207.4 614.1,3206.6 616.2,3205.8 618.2,3204.9 620.2,3204.1 622.3,3203.2 624.3,3202.4 626.3,3201.5 628.4,3200.6 630.4,3199.7 632.4,3198.8 634.5,3197.8 636.5,3196.9 638.5,3195.9 640.6,3195.0 642.6,3194.0 644.6,3193.0 646.7,3192.0 648.7,3191.0 650.7,3190.0 652.7,3188.9 654.8,3187.9 656.8,3186.8 658.8,3185.8 660.9,3184.7 662.9,3183.6 664.9,3182.5 667.0,3181.3 669.0,3180.2 671.0,3179.0 673.1,3177.9 675.1,3176.7 677.1,3175.5 679.2,3174.3 681.2,3173.1 683.2,3171.9 685.3,3170.6 687.3,3169.4 689.3,3168.1 691.4,3166.8 693.4,3165.5 695.4,3164.2 697.5,3162.9 699.5,3161.6 701.5,3160.2 703.5,3158.9 705.6,3157.5 707.6,3156.1 709.6,3154.7 711.7,3153.3 713.7,3151.9 715.7,3150.4 717.8,3149.0 719.8,3147.5 721.8,3146.0 723.9,3144.5 725.9,3143.0 727.9,3141.5 730.0,3140.0 732.0,3138.4 734.0,3136.9 736.1,3135.3 738.1,3133.7 740.1,3132.1 742.2,3130.5 744.2,3128.9 746.2,3127.2 748.2,3125.6 750.3,3123.9 752.3,3122.2 754.3,3120.5 756.4,3118.8 758.4,3117.1 760.4,3115.3 762.5,3113.6 764.5,3111.8 766.5,3110.0 768.6,3108.3 770.6,3106.5 772.6,3104.6 774.7,3102.8 776.7,3101.0 778.7,3099.1 780.8,3097.2 782.8,3095.3 784.8,3093.4 786.9,3091.5 788.9,3089.6 790.9,3087.7 792.9,3085.7 795.0,3083.7 797.0,3081.8 799.0,3079.8 801.1,3077.8 803.1,3075.7 805.1,3073.7 807.2,3071.7 809.2,3069.6 811.2,3067.5 813.3,3065.4 815.3,3063.3 817.3,3061.2 819.4,3059.1 821.4,3057.0 823.4,3054.8 825.5,3052.6 827.5,3050.5 829.5,3048.3 831.6,3046.1 833.6,3043.8 835.6,3041.6 837.6,3039.4 839.7,3037.1 841.7,3034.8 843.7,3032.6 845.8,3030.3 847.8,3028.0 849.8,3025.6 851.9,3023.3 853.9,3021.0 855.9,3018.6 858.0,3016.2 860.0,3013.8 862.0,3011.4 864.1,3009.0 866.1,3006.6 868.1,3004.2 870.2,3001.7 872.2,2999.3 874.2,2996.8 876.3,2994.3 878.3,2991.8 880.3,2989.3 882.4,2986.8 884.4,2984.3 886.4,2981.7 888.4,2979.2 890.5,2976.6 892.5,2974.0 894.5,2971.4 896.6,2968.8 898.6,2966.2 900.6,2963.6 902.7,2961.0 904.7,2958.3 906.7,2955.7 908.8,2953.0 910.8,2950.3 912.8,2947.6 914.9,2944.9 916.9,2942.2 918.9,2939.5 921.0,2936.8 923.0,2934.0 925.0,2931.3 927.1,2928.5 929.1,2925.7 931.1,2922.9 933.1,2920.1 935.2,2917.3 937.2,2914.5 939.2,2911.7 941.3,2908.8 943.3,2906.0 945.3,2903.1 947.4,2900.3 949.4,2897.4 951.4,2894.5 953.5,2891.6 955.5,2888.7 957.5,2885.8 959.6,2882.8 961.6,2879.9 963.6,2877.0 965.7,2874.0 967.7,2871.0 969.7,2868.1 971.8,2865.1 973.8,2862.1 975.8,2859.1 977.8,2856.1 979.9,2853.1 981.9,2850.1 983.9,2847.0 986.0,2844.0 988.0,2840.9 990.0,2837.9 992.1,2834.8 994.1,2831.8 996.1,2828.7 998.2,2825.6 1000.2,2822.5 1002.2,2819.4 1004.3,2816.3 1006.3,2813.2 1008.3,2810.0 1010.4,2806.9 1012.4,2803.8 1014.4,2800.6 1016.5,2797.5 1018.5,2794.3 1020.5,2791.2 1022.6,2788.0 1024.6,2784.8 1026.6,2781.6 1028.6,2778.4 1030.7,2775.3 1032.7,2772.1 1034.7,2768.8 1036.8,2765.6 1038.8,2762.4 1040.8,2759.2 1042.9,2756.0 1044.9,2752.7 1046.9,2749.5 1049.0,2746.3 1051.0,2743.0 1053.0,2739.8 1055.1,2736.5 1057.1,2733.2 1059.1,2730.0 1061.2,2726.7 1063.2,2723.4 1065.2,2720.2 1067.3,2716.9 1069.3,2713.6 1071.3,2710.3 1073.3,2707.0 1075.4,2703.7 1077.4,2700.4 1079.4,2697.1 1081.5,2693.8 1083.5,2690.5 1085.5,2687.2 1087.6,2683.9 1089.6,2680.6 1091.6,2677.2 1093.7,2673.9 1095.7,2670.6 1097.7,2667.3 1099.8,2663.9 1101.8,2660.6 1103.8,2657.3 1105.9,2654.0 1107.9,2650.6 1109.9,2647.3 1112.0,2644.0 1114.0,2640.6 1116.0,2637.3 1118.0,2633.9 1120.1,2630.6 1122.1,2627.3 1124.1,2623.9 1126.2,2620.6 1128.2,2617.3 1130.2,2613.9 1132.3,2610.6 1134.3,2607.2 1136.3,2603.9 1138.4,2600.6 1140.4,2597.2 1142.4,2593.9 1144.5,2590.6 1146.5,2587.2 1148.5,2583.9 1150.6,2580.6 1152.6,2577.2 1154.6,2573.9 1156.7,2570.6 1158.7,2567.3 1160.7,2564.0 1162.8,2560.6 1164.8,2557.3 1166.8,2554.0 1168.8,2550.7 1170.9,2547.4 1172.9,2544.1 1174.9,2540.8 1177.0,2537.5 1179.0,2534.2 1181.0,2530.9 1183.1,2527.6 1185.1,2524.3 1187.1,2521.1 1189.2,2517.8 1191.2,2514.5 1193.2,2511.3 1195.3,2508.0 1197.3,2504.7 1199.3,2501.5 1201.4,2498.3 1203.4,2495.0 1205.4,2491.8 1207.5,2488.5 1209.5,2485.3 1211.5,2482.1 1213.5,2478.9 1215.6,2475.7 1217.6,2472.5 1219.6,2469.3 1221.7,2466.1 1223.7,2462.9 1225.7,2459.8 1227.8,2456.6 1229.8,2453.4 1231.8,2450.3 1233.9,2447.1 1235.9,2444.0 1237.9,2440.9 1240.0,2437.8 1242.0,2434.7 1244.0,2431.5 1246.1,2428.5 1248.1,2425.4 1250.1,2422.3 1252.2,2419.2 1254.2,2416.2 1256.2,2413.1 1258.2,2410.1 1260.3,2407.0 1262.3,2404.0 1264.3,2401.0 1266.4,2398.0 1268.4,2395.0 1270.4,2392.0 1272.5,2389.0 1274.5,2386.1 1276.5,2383.1 1278.6,2380.2 1280.6,2377.3 1282.6,2374.3 1284.7,2371.4 1286.7,2368.5 1288.7,2365.6 1290.8,2362.8 1292.8,2359.9 1294.8,2357.1 1296.9,2354.2 1298.9,2351.4 1300.9,2348.6 1302.9,2345.8 1305.0,2343.0 1307.0,2340.2 1309.0,2337.5 1311.1,2334.7 1313.1,2332.0 1315.1,2329.3 1317.2,2326.5 1319.2,2323.9 1321.2,2321.2 1323.3,2318.5 1325.3,2315.8 1327.3,2313.2 1329.4,2310.6 1331.4,2308.0 1333.4,2305.4 1335.5,2302.8 1337.5,2300.2 1339.5,2297.7 1341.6,2295.2 1343.6,2292.6 1345.6,2290.1 1347.7,2287.6 1349.7,2285.2 1351.7,2282.7 1353.7,2280.3 1355.8,2277.9 1357.8,2275.4 1359.8,2273.1 1361.9,2270.7 1363.9,2268.3 1365.9,2266.0 1368.0,2263.7 1370.0,2261.4 1372.0,2259.1 1374.1,2256.8 1376.1,2254.6 1378.1,2252.3 1380.2,2250.1 1382.2,2247.9 1384.2,2245.7 1386.3,2243.6 1388.3,2241.4 1390.3,2239.3 1392.4,2237.2 1394.4,2235.1 1396.4,2233.0 1398.4,2231.0 1400.5,2229.0 1402.5,2226.9 1404.5,2225.0 1406.6,2223.0 1408.6,2221.0 1410.6,2219.1 1412.7,2217.2 1414.7,2215.3 1416.7,2213.4 1418.8,2211.6 1420.8,2209.8 1422.8,2208.0 1424.9,2206.2 1426.9,2204.4 1428.9,2202.7 1431.0,2200.9 1433.0,2199.2 1435.0,2197.6 1437.1,2195.9 1439.1,2194.3 1441.1,2192.6 1443.1,2191.0 1445.2,2189.5 1447.2,2187.9 1449.2,2186.4 1451.3,2184.9 1453.3,2183.4 1455.3,2182.0 1457.4,2180.5 1459.4,2179.1 1461.4,2177.7 1463.5,2176.4 1465.5,2175.0 1467.5,2173.7 1469.6,2172.4 1471.6,2171.1 1473.6,2169.9 1475.7,2168.7 1477.7,2167.5 1479.7,2166.3 1481.8,2165.1 1483.8,2164.0 1485.8,2162.9 1487.8,2161.8 1489.9,2160.8 1491.9,2159.8 1493.9,2158.7 1496.0,2157.8 1498.0,2156.8 1500.0,2155.9 1502.1,2155.0 1504.1,2154.1 1506.1,2153.3 1508.2,2152.4 1510.2,2151.6 1512.2,2150.9 1514.3,2150.1 1516.3,2149.4 1518.3,2148.7 1520.4,2148.0 1522.4,2147.4 1524.4,2146.8 1526.5,2146.2 1528.5,2145.6 1530.5,2145.1 1532.6,2144.6 1534.6,2144.1 1536.6,2143.6 1538.6,2143.2 1540.7,2142.8 1542.7,2142.4 1544.7,2142.1 1546.8,2141.7 1548.8,2141.4 1550.8,2141.2 1552.9,2140.9 1554.9,2140.7 1556.9,2140.5 1559.0,2140.4 1561.0,2140.3 1563.0,2140.2 1565.1,2140.1 1567.1,2140.1 1569.1,2140.0 1571.2,2140.1 1573.2,2140.1 1575.2,2140.2 1577.3,2140.3 1579.3,2140.4 1581.3,2140.5 1583.3,2140.7 1585.4,2140.9 1587.4,2141.2 1589.4,2141.5 1591.5,2141.8 1593.5,2142.1 1595.5,2142.5 1597.6,2142.8 1599.6,2143.3 1601.6,2143.7 1603.7,2144.2 1605.7,2144.7 1607.7,2145.2 1609.8,2145.8 1611.8,2146.4 1613.8,2147.0 1615.9,2147.7 1617.9,2148.4 1619.9,2149.1 1622.0,2149.8 1624.0,2150.6 1626.0,2151.4 1628.0,2152.2 1630.1,2153.1 1632.1,2154.0 1634.1,2154.9 1636.2,2155.9 1638.2,2156.9 1640.2,2157.9 1642.3,2158.9 1644.3,2160.0 1646.3,2161.1 1648.4,2162.2 1650.4,2163.4 1652.4,2164.6 1654.5,2165.8 1656.5,2167.1 1658.5,2168.4 1660.6,2169.7 1662.6,2171.1 1664.6,2172.4 1666.7,2173.9 1668.7,2175.3 1670.7,2176.8 1672.8,2178.3 1674.8,2179.8 1676.8,2181.4 1678.8,2183.0 1680.9,2184.6 1682.9,2186.3 1684.9,2188.0 1687.0,2189.7 1689.0,2191.4 1691.0,2193.2 1693.1,2195.0 1695.1,2196.9 1697.1,2198.8 1699.2,2200.7 1701.2,2202.6 1703.2,2204.6 1705.3,2206.6 1707.3,2208.6 1709.3,2210.7 1711.4,2212.8 1713.4,2214.9 1715.4,2217.0 1717.5,2219.2 1719.5,2221.5 1721.5,2223.7 1723.5,2226.0 1725.6,2228.3 1727.6,2230.6 1729.6,2233.0 1731.7,2235.4 1733.7,2237.9 1735.7,2240.3 1737.8,2242.8 1739.8,2245.3 1741.8,2247.9 1743.9,2250.5 1745.9,2253.1 1747.9,2255.8 1750.0,2258.5 1752.0,2261.2 1754.0,2263.9 1756.1,2266.7 1758.1,2269.5 1760.1,2272.3 1762.2,2275.2 1764.2,2278.1 1766.2,2281.0 1768.2,2284.0 1770.3,2287.0 1772.3,2290.0 1774.3,2293.1 1776.4,2296.2 1778.4,2299.3 1780.4,2302.4 1782.5,2305.6 1784.5,2308.8 1786.5,2312.0 1788.6,2315.3 1790.6,2318.6 1792.6,2321.9 1794.7,2325.3 1796.7,2328.7 1798.7,2332.1 1800.8,2335.5 1802.8,2339.0 1804.8,2342.5 1806.9,2346.0 1808.9,2349.6 1810.9,2353.2 1813.0,2356.8 1815.0,2360.5 1817.0,2364.2 1819.0,2367.9 1821.1,2371.6 1823.1,2375.4 1825.1,2379.2 1827.2,2383.1 1829.2,2386.9 1831.2,2390.8 1833.3,2394.7 1835.3,2398.7 1837.3,2402.7 1839.4,2406.7 1841.4,2410.7 1843.4,2414.8 1845.5,2418.9 1847.5,2423.0 1849.5,2427.1 1851.6,2431.3 1853.6,2435.5 1855.6,2439.8 1857.7,2444.0 1859.7,2448.3 1861.7,2452.6 1863.7,2457.0 1865.8,2461.4 1867.8,2465.8 1869.8,2470.2 1871.9,2474.7 1873.9,2479.2 1875.9,2483.7 1878.0,2488.2 1880.0,2492.8 1882.0,2497.4 1884.1,2502.0 1886.1,2506.7 1888.1,2511.3 1890.2,2516.1 1892.2,2520.8 1894.2,2525.5 1896.3,2530.3 1898.3,2535.1 1900.3,2540.0 1902.4,2544.9 1904.4,2549.7 1906.4,2554.7 1908.4,2559.6 1910.5,2564.6 1912.5,2569.6 1914.5,2574.6 1916.6,2579.6 1918.6,2584.7 1920.6,2589.8 1922.7,2594.9 1924.7,2600.1 1926.7,2605.2 1928.8,2610.4 1930.8,2615.7 1932.8,2620.9 1934.9,2626.2 1936.9,2631.5 1938.9,2636.8 1941.0,2642.1 1943.0,2647.5 1945.0,2652.9 1947.1,2658.3 1949.1,2663.7 1951.1,2669.2 1953.1,2674.7 1955.2,2680.2 1957.2,2685.7 1959.2,2691.3 1961.3,2696.9 1963.3,2702.5 1965.3,2708.1 1967.4,2713.7 1969.4,2719.4 1971.4,2725.1 1973.5,2730.8 1975.5,2736.5" fill="none" stroke="#0AFFFF" stroke-width="11.6" stroke-linejoin="round" stroke-linecap="butt" shape-rendering="crispEdges"/>
<polyline points="350.0,3243.2 352.0,3243.2 354.1,3243.2 356.1,3243.2 358.1,3243.2 360.2,3243.2 362.2,3243.2 364.2,3243.2 366.3,3243.2 368.3,3243.2 370.3,3243.2 372.4,3243.2 374.4,3243.1 376.4,3243.1 378.4,3243.1 380.5,3243.1 382.5,3243.1 384.5,3243.1 386.6,3243.1 388.6,3243.1 390.6,3243.1 392.7,3243.1 394.7,3243.1 396.7,3243.0 398.8,3243.0 400.8,3243.0 402.8,3243.0 404.9,3243.0 406.9,3243.0 408.9,3242.9 411.0,3242.9 413.0,3242.9 415.0,3242.8 417.1,3242.8 419.1,3242.8 421.1,3242.7 423.1,3242.7 425.2,3242.7 427.2,3242.6 429.2,3242.6 431.3,3242.5 433.3,3242.5 435.3,3242.4 437.4,3242.4 439.4,3242.3 441.4,3242.3 443.5,3242.2 445.5,3242.1 447.5,3242.1 449.6,3242.0 451.6,3241.9 453.6,3241.9 455.7,3241.8 457.7,3241.7 459.7,3241.6 461.8,3241.5 463.8,3241.4 465.8,3241.4 467.8,3241.3 469.9,3241.2 471.9,3241.1 473.9,3240.9 476.0,3240.8 478.0,3240.7 480.0,3240.6 482.1,3240.5 484.1,3240.4 486.1,3240.2 488.2,3240.1 490.2,3240.0 492.2,3239.8 494.3,3239.7 496.3,3239.5 498.3,3239.4 500.4,3239.2 502.4,3239.1 504.4,3238.9 506.5,3238.7 508.5,3238.6 510.5,3238.4 512.5,3238.2 514.6,3238.0 516.6,3237.8 518.6,3237.6 520.7,3237.4 522.7,3237.2 524.7,3237.0 526.8,3236.8 528.8,3236.6 530.8,3236.3 532.9,3236.1 534.9,3235.9 536.9,3235.6 539.0,3235.4 541.0,3235.1 543.0,3234.9 545.1,3234.6 547.1,3234.4 549.1,3234.1 551.2,3233.8 553.2,3233.5 555.2,3233.2 557.3,3232.9 559.3,3232.6 561.3,3232.3 563.3,3232.0 565.4,3231.7 567.4,3231.4 569.4,3231.1 571.5,3230.7 573.5,3230.4 575.5,3230.0 577.6,3229.7 579.6,3229.3 581.6,3229.0 583.7,3228.6 585.7,3228.2 587.7,3227.8 589.8,3227.4 591.8,3227.0 593.8,3226.6 595.9,3226.2 597.9,3225.8 599.9,3225.4 602.0,3225.0 604.0,3224.5 606.0,3224.1 608.0,3223.6 610.1,3223.2 612.1,3222.7 614.1,3222.3 616.2,3221.8 618.2,3221.3 620.2,3220.8 622.3,3220.3 624.3,3219.8 626.3,3219.3 628.4,3218.8 630.4,3218.3 632.4,3217.7 634.5,3217.2 636.5,3216.6 638.5,3216.1 640.6,3215.5 642.6,3215.0 644.6,3214.4 646.7,3213.8 648.7,3213.2 650.7,3212.6 652.7,3212.0 654.8,3211.4 656.8,3210.8 658.8,3210.2 660.9,3209.5 662.9,3208.9 664.9,3208.2 667.0,3207.6 669.0,3206.9 671.0,3206.2 673.1,3205.5 675.1,3204.9 677.1,3204.2 679.2,3203.5 681.2,3202.7 683.2,3202.0 685.3,3201.3 687.3,3200.6 689.3,3199.8 691.4,3199.1 693.4,3198.3 695.4,3197.5 697.5,3196.7 699.5,3196.0 701.5,3195.2 703.5,3194.4 705.6,3193.5 707.6,3192.7 709.6,3191.9 711.7,3191.1 713.7,3190.2 715.7,3189.4 717.8,3188.5 719.8,3187.6 721.8,3186.8 723.9,3185.9 725.9,3185.0 727.9,3184.1 730.0,3183.1 732.0,3182.2 734.0,3181.3 736.1,3180.4 738.1,3179.4 740.1,3178.5 742.2,3177.5 744.2,3176.5 746.2,3175.5 748.2,3174.5 750.3,3173.5 752.3,3172.5 754.3,3171.5 756.4,3170.5 758.4,3169.4 760.4,3168.4 762.5,3167.3 764.5,3166.3 766.5,3165.2 768.6,3164.1 770.6,3163.0 772.6,3161.9 774.7,3160.8 776.7,3159.7 778.7,3158.6 780.8,3157.5 782.8,3156.3 784.8,3155.2 786.9,3154.0 788.9,3152.8 790.9,3151.7 792.9,3150.5 795.0,3149.3 797.0,3148.1 799.0,3146.8 801.1,3145.6 803.1,3144.4 805.1,3143.1 807.2,3141.9 809.2,3140.6 811.2,3139.3 813.3,3138.1 815.3,3136.8 817.3,3135.5 819.4,3134.2 821.4,3132.9 823.4,3131.5 825.5,3130.2 827.5,3128.8 829.5,3127.5 831.6,3126.1 833.6,3124.8 835.6,3123.4 837.6,3122.0 839.7,3120.6 841.7,3119.2 843.7,3117.7 845.8,3116.3 847.8,3114.9 849.8,3113.4 851.9,3112.0 853.9,3110.5 855.9,3109.0 858.0,3107.6 860.0,3106.1 862.0,3104.6 864.1,3103.0 866.1,3101.5 868.1,3100.0 870.2,3098.5 872.2,3096.9 874.2,3095.4 876.3,3093.8 878.3,3092.2 880.3,3090.6 882.4,3089.0 884.4,3087.4 886.4,3085.8 888.4,3084.2 890.5,3082.6 892.5,3080.9 894.5,3079.3 896.6,3077.6 898.6,3075.9 900.6,3074.3 902.7,3072.6 904.7,3070.9 906.7,3069.2 908.8,3067.5 910.8,3065.7 912.8,3064.0 914.9,3062.3 916.9,3060.5 918.9,3058.8 921.0,3057.0 923.0,3055.2 925.0,3053.4 927.1,3051.6 929.1,3049.8 931.1,3048.0 933.1,3046.2 935.2,3044.4 937.2,3042.5 939.2,3040.7 941.3,3038.8 943.3,3037.0 945.3,3035.1 947.4,3033.2 949.4,3031.3 951.4,3029.4 953.5,3027.5 955.5,3025.6 957.5,3023.7 959.6,3021.8 961.6,3019.8 963.6,3017.9 965.7,3015.9 967.7,3013.9 969.7,3012.0 971.8,3010.0 973.8,3008.0 975.8,3006.0 977.8,3004.0 979.9,3002.0 981.9,2999.9 983.9,2997.9 986.0,2995.9 988.0,2993.8 990.0,2991.7 992.1,2989.7 994.1,2987.6 996.1,2985.5 998.2,2983.4 1000.2,2981.3 1002.2,2979.2 1004.3,2977.1 1006.3,2975.0 1008.3,2972.8 1010.4,2970.7 1012.4,2968.6 1014.4,2966.4 1016.5,2964.2 1018.5,2962.1 1020.5,2959.9 1022.6,2957.7 1024.6,2955.5 1026.6,2953.3 1028.6,2951.1 1030.7,2948.9 1032.7,2946.7 1034.7,2944.4 1036.8,2942.2 1038.8,2940.0 1040.8,2937.7 1042.9,2935.4 1044.9,2933.2 1046.9,2930.9 1049.0,2928.6 1051.0,2926.3 1053.0,2924.0 1055.1,2921.7 1057.1,2919.4 1059.1,2917.1 1061.2,2914.8 1063.2,2912.5 1065.2,2910.1 1067.3,2907.8 1069.3,2905.4 1071.3,2903.1 1073.3,2900.7 1075.4,2898.3 1077.4,2896.0 1079.4,2893.6 1081.5,2891.2 1083.5,2888.8 1085.5,2886.4 1087.6,2884.0 1089.6,2881.6 1091.6,2879.1 1093.7,2876.7 1095.7,2874.3 1097.7,2871.8 1099.8,2869.4 1101.8,2866.9 1103.8,2864.5 1105.9,2862.0 1107.9,2859.6 1109.9,2857.1 1112.0,2854.6 1114.0,2852.1 1116.0,2849.6 1118.0,2847.1 1120.1,2844.6 1122.1,2842.1 1124.1,2839.6 1126.2,2837.1 1128.2,2834.6 1130.2,2832.0 1132.3,2829.5 1134.3,2827.0 1136.3,2824.4 1138.4,2821.9 1140.4,2819.3 1142.4,2816.8 1144.5,2814.2 1146.5,2811.6 1148.5,2809.1 1150.6,2806.5 1152.6,2803.9 1154.6,2801.3 1156.7,2798.7 1158.7,2796.1 1160.7,2793.5 1162.8,2790.9 1164.8,2788.3 1166.8,2785.7 1168.8,2783.1 1170.9,2780.5 1172.9,2777.9 1174.9,2775.2 1177.0,2772.6 1179.0,2770.0 1181.0,2767.3 1183.1,2764.7 1185.1,2762.0 1187.1,2759.4 1189.2,2756.7 1191.2,2754.1 1193.2,2751.4 1195.3,2748.8 1197.3,2746.1 1199.3,2743.4 1201.4,2740.8 1203.4,2738.1 1205.4,2735.4 1207.5,2732.7 1209.5,2730.1 1211.5,2727.4 1213.5,2724.7 1215.6,2722.0 1217.6,2719.3 1219.6,2716.6 1221.7,2713.9 1223.7,2711.2 1225.7,2708.5 1227.8,2705.8 1229.8,2703.1 1231.8,2700.4 1233.9,2697.7 1235.9,2695.0 1237.9,2692.3 1240.0,2689.6 1242.0,2686.8 1244.0,2684.1 1246.1,2681.4 1248.1,2678.7 1250.1,2676.0 1252.2,2673.2 1254.2,2670.5 1256.2,2667.8 1258.2,2665.1 1260.3,2662.3 1262.3,2659.6 1264.3,2656.9 1266.4,2654.2 1268.4,2651.4 1270.4,2648.7 1272.5,2646.0 1274.5,2643.3 1276.5,2640.5 1278.6,2637.8 1280.6,2635.1 1282.6,2632.3 1284.7,2629.6 1286.7,2626.9 1288.7,2624.2 1290.8,2621.4 1292.8,2618.7 1294.8,2616.0 1296.9,2613.2 1298.9,2610.5 1300.9,2607.8 1302.9,2605.1 1305.0,2602.3 1307.0,2599.6 1309.0,2596.9 1311.1,2594.2 1313.1,2591.5 1315.1,2588.7 1317.2,2586.0 1319.2,2583.3 1321.2,2580.6 1323.3,2577.9 1325.3,2575.2 1327.3,2572.5 1329.4,2569.7 1331.4,2567.0 1333.4,2564.3 1335.5,2561.6 1337.5,2558.9 1339.5,2556.2 1341.6,2553.5 1343.6,2550.9 1345.6,2548.2 1347.7,2545.5 1349.7,2542.8 1351.7,2540.1 1353.7,2537.4 1355.8,2534.8 1357.8,2532.1 1359.8,2529.4 1361.9,2526.8 1363.9,2524.1 1365.9,2521.4 1368.0,2518.8 1370.0,2516.1 1372.0,2513.5 1374.1,2510.8 1376.1,2508.2 1378.1,2505.6 1380.2,2502.9 1382.2,2500.3 1384.2,2497.7 1386.3,2495.1 1388.3,2492.4 1390.3,2489.8 1392.4,2487.2 1394.4,2484.6 1396.4,2482.0 1398.4,2479.4 1400.5,2476.8 1402.5,2474.3 1404.5,2471.7 1406.6,2469.1 1408.6,2466.5 1410.6,2464.0 1412.7,2461.4 1414.7,2458.9 1416.7,2456.3 1418.8,2453.8 1420.8,2451.3 1422.8,2448.7 1424.9,2446.2 1426.9,2443.7 1428.9,2441.2 1431.0,2438.7 1433.0,2436.2 1435.0,2433.7 1437.1,2431.2 1439.1,2428.7 1441.1,2426.3 1443.1,2423.8 1445.2,2421.3 1447.2,2418.9 1449.2,2416.5 1451.3,2414.0 1453.3,2411.6 1455.3,2409.2 1457.4,2406.8 1459.4,2404.3 1461.4,2401.9 1463.5,2399.6 1465.5,2397.2 1467.5,2394.8 1469.6,2392.4 1471.6,2390.1 1473.6,2387.7 1475.7,2385.4 1477.7,2383.0 1479.7,2380.7 1481.8,2378.4 1483.8,2376.1 1485.8,2373.8 1487.8,2371.5 1489.9,2369.2 1491.9,2366.9 1493.9,2364.7 1496.0,2362.4 1498.0,2360.2 1500.0,2357.9 1502.1,2355.7 1504.1,2353.5 1506.1,2351.3 1508.2,2349.1 1510.2,2346.9 1512.2,2344.7 1514.3,2342.5 1516.3,2340.4 1518.3,2338.2 1520.4,2336.1 1522.4,2333.9 1524.4,2331.8 1526.5,2329.7 1528.5,2327.6 1530.5,2325.5 1532.6,2323.5 1534.6,2321.4 1536.6,2319.3 1538.6,2317.3 1540.7,2315.3 1542.7,2313.2 1544.7,2311.2 1546.8,2309.2 1548.8,2307.2 1550.8,2305.3 1552.9,2303.3 1554.9,2301.3 1556.9,2299.4 1559.0,2297.5 1561.0,2295.6 1563.0,2293.6 1565.1,2291.8 1567.1,2289.9 1569.1,2288.0 1571.2,2286.1 1573.2,2284.3 1575.2,2282.5 1577.3,2280.7 1579.3,2278.8 1581.3,2277.1 1583.3,2275.3 1585.4,2273.5 1587.4,2271.7 1589.4,2270.0 1591.5,2268.3 1593.5,2266.6 1595.5,2264.9 1597.6,2263.2 1599.6,2261.5 1601.6,2259.8 1603.7,2258.2 1605.7,2256.6 1607.7,2254.9 1609.8,2253.3 1611.8,2251.7 1613.8,2250.2 1615.9,2248.6 1617.9,2247.1 1619.9,2245.5 1622.0,2244.0 1624.0,2242.5 1626.0,2241.0 1628.0,2239.5 1630.1,2238.1 1632.1,2236.6 1634.1,2235.2 1636.2,2233.8 1638.2,2232.4 1640.2,2231.0 1642.3,2229.6 1644.3,2228.3 1646.3,2226.9 1648.4,2225.6 1650.4,2224.3 1652.4,2223.0 1654.5,2221.7 1656.5,2220.5 1658.5,2219.2 1660.6,2218.0 1662.6,2216.8 1664.6,2215.6 1666.7,2214.4 1668.7,2213.2 1670.7,2212.1 1672.8,2211.0 1674.8,2209.9 1676.8,2208.8 1678.8,2207.7 1680.9,2206.6 1682.9,2205.6 1684.9,2204.5 1687.0,2203.5 1689.0,2202.5 1691.0,2201.5 1693.1,2200.6 1695.1,2199.6 1697.1,2198.7 1699.2,2197.8 1701.2,2196.9 1703.2,2196.0 1705.3,2195.2 1707.3,2194.3 1709.3,2193.5 1711.4,2192.7 1713.4,2191.9 1715.4,2191.2 1717.5,2190.4 1719.5,2189.7 1721.5,2189.0 1723.5,2188.3 1725.6,2187.6 1727.6,2186.9 1729.6,2186.3 1731.7,2185.7 1733.7,2185.1 1735.7,2184.5 1737.8,2183.9 1739.8,2183.4 1741.8,2182.9 1743.9,2182.4 1745.9,2181.9 1747.9,2181.4 1750.0,2180.9 1752.0,2180.5 1754.0,2180.1 1756.1,2179.7 1758.1,2179.3 1760.1,2179.0 1762.2,2178.7 1764.2,2178.3 1766.2,2178.0 1768.2,2177.8 1770.3,2177.5 1772.3,2177.3 1774.3,2177.1 1776.4,2176.9 1778.4,2176.7 1780.4,2176.5 1782.5,2176.4 1784.5,2176.3 1786.5,2176.2 1788.6,2176.1 1790.6,2176.1 1792.6,2176.0 1794.7,2176.0 1796.7,2176.0 1798.7,2176.1 1800.8,2176.1 1802.8,2176.2 1804.8,2176.3 1806.9,2176.4 1808.9,2176.5 1810.9,2176.7 1813.0,2176.8 1815.0,2177.0 1817.0,2177.3 1819.0,2177.5 1821.1,2177.7 1823.1,2178.0 1825.1,2178.3 1827.2,2178.7 1829.2,2179.0 1831.2,2179.4 1833.3,2179.8 1835.3,2180.2 1837.3,2180.6 1839.4,2181.0 1841.4,2181.5 1843.4,2182.0 1845.5,2182.5 1847.5,2183.1 1849.5,2183.6 1851.6,2184.2 1853.6,2184.8 1855.6,2185.4 1857.7,2186.1 1859.7,2186.8 1861.7,2187.5 1863.7,2188.2 1865.8,2188.9 1867.8,2189.7 1869.8,2190.4 1871.9,2191.3 1873.9,2192.1 1875.9,2192.9 1878.0,2193.8 1880.0,2194.7 1882.0,2195.6 1884.1,2196.5 1886.1,2197.5 1888.1,2198.5 1890.2,2199.5 1892.2,2200.5 1894.2,2201.6 1896.3,2202.7 1898.3,2203.8 1900.3,2204.9 1902.4,2206.0 1904.4,2207.2 1906.4,2208.4 1908.4,2209.6 1910.5,2210.8 1912.5,2212.1 1914.5,2213.4 1916.6,2214.7 1918.6,2216.0 1920.6,2217.3 1922.7,2218.7 1924.7,2220.1 1926.7,2221.5 1928.8,2223.0 1930.8,2224.4 1932.8,2225.9 1934.9,2227.4 1936.9,2229.0 1938.9,2230.5 1941.0,2232.1 1943.0,2233.7 1945.0,2235.4 1947.1,2237.0 1949.1,2238.7 1951.1,2240.4 1953.1,2242.1 1955.2,2243.8 1957.2,2245.6 1959.2,2247.4 1961.3,2249.2 1963.3,2251.1 1965.3,2252.9 1967.4,2254.8 1969.4,2256.7 1971.4,2258.7 1973.5,2260.6 1975.5,2262.6" fill="none" stroke="#EDB120" stroke-width="11.6" stroke-linejoin="round" stroke-linecap="butt" shape-rendering="crispEdges"/>
<polyline points="350.0,3243.2 352.0,3243.2 354.1,3243.2 356.1,3243.2 358.1,3243.2 360.2,3243.2 362.2,3243.2 364.2,3243.2 366.3,3243.2 368.3,3243.2 370.3,3243.2 372.4,3243.2 374.4,3243.2 376.4,3243.2 378.4,3243.2 380.5,3243.2 382.5,3243.2 384.5,3243.2 386.6,3243.2 388.6,3243.2 390.6,3243.2 392.7,3243.2 394.7,3243.1 396.7,3243.1 398.8,3243.1 400.8,3243.1 402.8,3243.1 404.9,3243.1 406.9,3243.1 408.9,3243.1 411.0,3243.1 413.0,3243.1 415.0,3243.1 417.1,3243.1 419.1,3243.1 421.1,3243.1 423.1,3243.1 425.2,3243.1 427.2,3243.1 429.2,3243.1 431.3,3243.1 433.3,3243.1 435.3,3243.1 437.4,3243.0 439.4,3243.0 441.4,3243.0 443.5,3243.0 445.5,3243.0 447.5,3243.0 449.6,3243.0 451.6,3243.0 453.6,3243.0 455.7,3242.9 457.7,3242.9 459.7,3242.9 461.8,3242.9 463.8,3242.9 465.8,3242.9 467.8,3242.9 469.9,3242.8 471.9,3242.8 473.9,3242.8 476.0,3242.8 478.0,3242.8 480.0,3242.8 482.1,3242.7 484.1,3242.7 486.1,3242.7 488.2,3242.7 490.2,3242.7 492.2,3242.6 494.3,3242.6 496.3,3242.6 498.3,3242.6 500.4,3242.5 502.4,3242.5 504.4,3242.5 506.5,3242.5 508.5,3242.4 510.5,3242.4 512.5,3242.4 514.6,3242.3 516.6,3242.3 518.6,3242.3 520.7,3242.2 522.7,3242.2 524.7,3242.2 526.8,3242.1 528.8,3242.1 530.8,3242.1 532.9,3242.0 534.9,3242.0 536.9,3242.0 539.0,3241.9 541.0,3241.9 543.0,3241.8 545.1,3241.8 547.1,3241.7 549.1,3241.7 551.2,3241.7 553.2,3241.6 555.2,3241.6 557.3,3241.5 559.3,3241.5 561.3,3241.4 563.3,3241.4 565.4,3241.3 567.4,3241.3 569.4,3241.2 571.5,3241.2 573.5,3241.1 575.5,3241.0 577.6,3241.0 579.6,3240.9 581.6,3240.9 583.7,3240.8 585.7,3240.7 587.7,3240.7 589.8,3240.6 591.8,3240.5 593.8,3240.5 595.9,3240.4 597.9,3240.3 599.9,3240.3 602.0,3240.2 604.0,3240.1 606.0,3240.1 608.0,3240.0 610.1,3239.9 612.1,3239.8 614.1,3239.8 616.2,3239.7 618.2,3239.6 620.2,3239.5 622.3,3239.4 624.3,3239.4 626.3,3239.3 628.4,3239.2 630.4,3239.1 632.4,3239.0 634.5,3238.9 636.5,3238.8 638.5,3238.7 640.6,3238.7 642.6,3238.6 644.6,3238.5 646.7,3238.4 648.7,3238.3 650.7,3238.2 652.7,3238.1 654.8,3238.0 656.8,3237.9 658.8,3237.8 660.9,3237.7 662.9,3237.5 664.9,3237.4 667.0,3237.3 669.0,3237.2 671.0,3237.1 673.1,3237.0 675.1,3236.9 677.1,3236.8 679.2,3236.6 681.2,3236.5 683.2,3236.4 685.3,3236.3 687.3,3236.2 689.3,3236.0 691.4,3235.9 693.4,3235.8 695.4,3235.6 697.5,3235.5 699.5,3235.4 701.5,3235.2 703.5,3235.1 705.6,3235.0 707.6,3234.8 709.6,3234.7 711.7,3234.6 713.7,3234.4 715.7,3234.3 717.8,3234.1 719.8,3234.0 721.8,3233.8 723.9,3233.7 725.9,3233.5 727.9,3233.4 730.0,3233.2 732.0,3233.1 734.0,3232.9 736.1,3232.7 738.1,3232.6 740.1,3232.4 742.2,3232.2 744.2,3232.1 746.2,3231.9 748.2,3231.7 750.3,3231.6 752.3,3231.4 754.3,3231.2 756.4,3231.0 758.4,3230.9 760.4,3230.7 762.5,3230.5 764.5,3230.3 766.5,3230.1 768.6,3230.0 770.6,3229.8 772.6,3229.6 774.7,3229.4 776.7,3229.2 778.7,3229.0 780.8,3228.8 782.8,3228.6 784.8,3228.4 786.9,3228.2 788.9,3228.0 790.9,3227.8 792.9,3227.6 795.0,3227.4 797.0,3227.2 799.0,3227.0 801.1,3226.7 803.1,3226.5 805.1,3226.3 807.2,3226.1 809.2,3225.9 811.2,3225.6 813.3,3225.4 815.3,3225.2 817.3,3225.0 819.4,3224.7 821.4,3224.5 823.4,3224.3 825.5,3224.0 827.5,3223.8 829.5,3223.6 831.6,3223.3 833.6,3223.1 835.6,3222.8 837.6,3222.6 839.7,3222.3 841.7,3222.1 843.7,3221.8 845.8,3221.6 847.8,3221.3 849.8,3221.1 851.9,3220.8 853.9,3220.5 855.9,3220.3 858.0,3220.0 860.0,3219.7 862.0,3219.5 864.1,3219.2 866.1,3218.9 868.1,3218.7 870.2,3218.4 872.2,3218.1 874.2,3217.8 876.3,3217.5 878.3,3217.2 880.3,3217.0 882.4,3216.7 884.4,3216.4 886.4,3216.1 888.4,3215.8 890.5,3215.5 892.5,3215.2 894.5,3214.9 896.6,3214.6 898.6,3214.3 900.6,3214.0 902.7,3213.7 904.7,3213.4 906.7,3213.1 908.8,3212.7 910.8,3212.4 912.8,3212.1 914.9,3211.8 916.9,3211.5 918.9,3211.1 921.0,3210.8 923.0,3210.5 925.0,3210.1 927.1,3209.8 929.1,3209.5 931.1,3209.1 933.1,3208.8 935.2,3208.5 937.2,3208.1 939.2,3207.8 941.3,3207.4 943.3,3207.1 945.3,3206.7 947.4,3206.4 949.4,3206.0 951.4,3205.7 953.5,3205.3 955.5,3204.9 957.5,3204.6 959.6,3204.2 961.6,3203.8 963.6,3203.5 965.7,3203.1 967.7,3202.7 969.7,3202.4 971.8,3202.0 973.8,3201.6 975.8,3201.2 977.8,3200.8 979.9,3200.4 981.9,3200.1 983.9,3199.7 986.0,3199.3 988.0,3198.9 990.0,3198.5 992.1,3198.1 994.1,3197.7 996.1,3197.3 998.2,3196.9 1000.2,3196.5 1002.2,3196.1 1004.3,3195.6 1006.3,3195.2 1008.3,3194.8 1010.4,3194.4 1012.4,3194.0 1014.4,3193.6 1016.5,3193.1 1018.5,3192.7 1020.5,3192.3 1022.6,3191.8 1024.6,3191.4 1026.6,3191.0 1028.6,3190.5 1030.7,3190.1 1032.7,3189.7 1034.7,3189.2 1036.8,3188.8 1038.8,3188.3 1040.8,3187.9 1042.9,3187.4 1044.9,3187.0 1046.9,3186.5 1049.0,3186.1 1051.0,3185.6 1053.0,3185.1 1055.1,3184.7 1057.1,3184.2 1059.1,3183.7 1061.2,3183.3 1063.2,3182.8 1065.2,3182.3 1067.3,3181.8 1069.3,3181.4 1071.3,3180.9 1073.3,3180.4 1075.4,3179.9 1077.4,3179.4 1079.4,3178.9 1081.5,3178.4 1083.5,3177.9 1085.5,3177.4 1087.6,3176.9 1089.6,3176.4 1091.6,3175.9 1093.7,3175.4 1095.7,3174.9 1097.7,3174.4 1099.8,3173.9 1101.8,3173.4 1103.8,3172.9 1105.9,3172.4 1107.9,3171.8 1109.9,3171.3 1112.0,3170.8 1114.0,3170.3 1116.0,3169.7 1118.0,3169.2 1120.1,3168.7 1122.1,3168.1 1124.1,3167.6 1126.2,3167.1 1128.2,3166.5 1130.2,3166.0 1132.3,3165.4 1134.3,3164.9 1136.3,3164.3 1138.4,3163.8 1140.4,3163.2 1142.4,3162.7 1144.5,3162.1 1146.5,3161.6 1148.5,3161.0 1150.6,3160.4 1152.6,3159.9 1154.6,3159.3 1156.7,3158.7 1158.7,3158.2 1160.7,3157.6 1162.8,3157.0 1164.8,3156.4 1166.8,3155.8 1168.8,3155.3 1170.9,3154.7 1172.9,3154.1 1174.9,3153.5 1177.0,3152.9 1179.0,3152.3 1181.0,3151.7 1183.1,3151.1 1185.1,3150.5 1187.1,3149.9 1189.2,3149.3 1191.2,3148.7 1193.2,3148.1 1195.3,3147.5 1197.3,3146.9 1199.3,3146.3 1201.4,3145.7 1203.4,3145.0 1205.4,3144.4 1207.5,3143.8 1209.5,3143.2 1211.5,3142.6 1213.5,3141.9 1215.6,3141.3 1217.6,3140.7 1219.6,3140.0 1221.7,3139.4 1223.7,3138.8 1225.7,3138.1 1227.8,3137.5 1229.8,3136.8 1231.8,3136.2 1233.9,3135.5 1235.9,3134.9 1237.9,3134.2 1240.0,3133.6 1242.0,3132.9 1244.0,3132.3 1246.1,3131.6 1248.1,3131.0 1250.1,3130.3 1252.2,3129.6 1254.2,3129.0 1256.2,3128.3 1258.2,3127.6 1260.3,3126.9 1262.3,3126.3 1264.3,3125.6 1266.4,3124.9 1268.4,3124.2 1270.4,3123.6 1272.5,3122.9 1274.5,3122.2 1276.5,3121.5 1278.6,3120.8 1280.6,3120.1 1282.6,3119.4 1284.7,3118.7 1286.7,3118.0 1288.7,3117.3 1290.8,3116.6 1292.8,3115.9 1294.8,3115.2 1296.9,3114.5 1298.9,3113.8 1300.9,3113.1 1302.9,3112.4 1305.0,3111.7 1307.0,3111.0 1309.0,3110.2 1311.1,3109.5 1313.1,3108.8 1315.1,3108.1 1317.2,3107.3 1319.2,3106.6 1321.2,3105.9 1323.3,3105.2 1325.3,3104.4 1327.3,3103.7 1329.4,3103.0 1331.4,3102.2 1333.4,3101.5 1335.5,3100.7 1337.5,3100.0 1339.5,3099.3 1341.6,3098.5 1343.6,3097.8 1345.6,3097.0 1347.7,3096.3 1349.7,3095.5 1351.7,3094.8 1353.7,3094.0 1355.8,3093.2 1357.8,3092.5 1359.8,3091.7 1361.9,3091.0 1363.9,3090.2 1365.9,3089.4 1368.0,3088.7 1370.0,3087.9 1372.0,3087.1 1374.1,3086.4 1376.1,3085.6 1378.1,3084.8 1380.2,3084.0 1382.2,3083.3 1384.2,3082.5 1386.3,3081.7 1388.3,3080.9 1390.3,3080.1 1392.4,3079.3 1394.4,3078.5 1396.4,3077.8 1398.4,3077.0 1400.5,3076.2 1402.5,3075.4 1404.5,3074.6 1406.6,3073.8 1408.6,3073.0 1410.6,3072.2 1412.7,3071.4 1414.7,3070.6 1416.7,3069.8 1418.8,3069.0 1420.8,3068.2 1422.8,3067.4 1424.9,3066.6 1426.9,3065.7 1428.9,3064.9 1431.0,3064.1 1433.0,3063.3 1435.0,3062.5 1437.1,3061.7 1439.1,3060.8 1441.1,3060.0 1443.1,3059.2 1445.2,3058.4 1447.2,3057.6 1449.2,3056.7 1451.3,3055.9 1453.3,3055.1 1455.3,3054.2 1457.4,3053.4 1459.4,3052.6 1461.4,3051.7 1463.5,3050.9 1465.5,3050.1 1467.5,3049.2 1469.6,3048.4 1471.6,3047.5 1473.6,3046.7 1475.7,3045.9 1477.7,3045.0 1479.7,3044.2 1481.8,3043.3 1483.8,3042.5 1485.8,3041.6 1487.8,3040.8 1489.9,3039.9 1491.9,3039.1 1493.9,3038.2 1496.0,3037.4 1498.0,3036.5 1500.0,3035.6 1502.1,3034.8 1504.1,3033.9 1506.1,3033.1 1508.2,3032.2 1510.2,3031.3 1512.2,3030.5 1514.3,3029.6 1516.3,3028.8 1518.3,3027.9 1520.4,3027.0 1522.4,3026.1 1524.4,3025.3 1526.5,3024.4 1528.5,3023.5 1530.5,3022.7 1532.6,3021.8 1534.6,3020.9 1536.6,3020.0 1538.6,3019.2 1540.7,3018.3 1542.7,3017.4 1544.7,3016.5 1546.8,3015.6 1548.8,3014.8 1550.8,3013.9 1552.9,3013.0 1554.9,3012.1 1556.9,3011.2 1559.0,3010.3 1561.0,3009.5 1563.0,3008.6 1565.1,3007.7 1567.1,3006.8 1569.1,3005.9 1571.2,3005.0 1573.2,3004.1 1575.2,3003.2 1577.3,3002.3 1579.3,3001.4 1581.3,3000.5 1583.3,2999.7 1585.4,2998.8 1587.4,2997.9 1589.4,2997.0 1591.5,2996.1 1593.5,2995.2 1595.5,2994.3 1597.6,2993.4 1599.6,2992.5 1601.6,2991.6 1603.7,2990.7 1605.7,2989.8 1607.7,2988.9 1609.8,2988.0 1611.8,2987.0 1613.8,2986.1 1615.9,2985.2 1617.9,2984.3 1619.9,2983.4 1622.0,2982.5 1624.0,2981.6 1626.0,2980.7 1628.0,2979.8 1630.1,2978.9 1632.1,2978.0 1634.1,2977.1 1636.2,2976.2 1638.2,2975.2 1640.2,2974.3 1642.3,2973.4 1644.3,2972.5 1646.3,2971.6 1648.4,2970.7 1650.4,2969.8 1652.4,2968.9 1654.5,2967.9 1656.5,2967.0 1658.5,2966.1 1660.6,2965.2 1662.6,2964.3 1664.6,2963.4 1666.7,2962.5 1668.7,2961.5 1670.7,2960.6 1672.8,2959.7 1674.8,2958.8 1676.8,2957.9 1678.8,2957.0 1680.9,2956.0 1682.9,2955.1 1684.9,2954.2 1687.0,2953.3 1689.0,2952.4 1691.0,2951.5 1693.1,2950.5 1695.1,2949.6 1697.1,2948.7 1699.2,2947.8 1701.2,2946.9 1703.2,2945.9 1705.3,2945.0 1707.3,2944.1 1709.3,2943.2 1711.4,2942.3 1713.4,2941.3 1715.4,2940.4 1717.5,2939.5 1719.5,2938.6 1721.5,2937.7 1723.5,2936.8 1725.6,2935.8 1727.6,2934.9 1729.6,2934.0 1731.7,2933.1 1733.7,2932.2 1735.7,2931.2 1737.8,2930.3 1739.8,2929.4 1741.8,2928.5 1743.9,2927.6 1745.9,2926.7 1747.9,2925.7 1750.0,2924.8 1752.0,2923.9 1754.0,2923.0 1756.1,2922.1 1758.1,2921.2 1760.1,2920.2 1762.2,2919.3 1764.2,2918.4 1766.2,2917.5 1768.2,2916.6 1770.3,2915.7 1772.3,2914.7 1774.3,2913.8 1776.4,2912.9 1778.4,2912.0 1780.4,2911.1 1782.5,2910.2 1784.5,2909.3 1786.5,2908.4 1788.6,2907.4 1790.6,2906.5 1792.6,2905.6 1794.7,2904.7 1796.7,2903.8 1798.7,2902.9 1800.8,2902.0 1802.8,2901.1 1804.8,2900.2 1806.9,2899.3 1808.9,2898.4 1810.9,2897.5 1813.0,2896.6 1815.0,2895.6 1817.0,2894.7 1819.0,2893.8 1821.1,2892.9 1823.1,2892.0 1825.1,2891.1 1827.2,2890.2 1829.2,2889.3 1831.2,2888.4 1833.3,2887.5 1835.3,2886.6 1837.3,2885.7 1839.4,2884.8 1841.4,2883.9 1843.4,2883.1 1845.5,2882.2 1847.5,2881.3 1849.5,2880.4 1851.6,2879.5 1853.6,2878.6 1855.6,2877.7 1857.7,2876.8 1859.7,2875.9 1861.7,2875.0 1863.7,2874.2 1865.8,2873.3 1867.8,2872.4 1869.8,2871.5 1871.9,2870.6 1873.9,2869.7 1875.9,2868.9 1878.0,2868.0 1880.0,2867.1 1882.0,2866.2 1884.1,2865.3 1886.1,2864.5 1888.1,2863.6 1890.2,2862.7 1892.2,2861.8 1894.2,2861.0 1896.3,2860.1 1898.3,2859.2 1900.3,2858.4 1902.4,2857.5 1904.4,2856.6 1906.4,2855.8 1908.4,2854.9 1910.5,2854.0 1912.5,2853.2 1914.5,2852.3 1916.6,2851.5 1918.6,2850.6 1920.6,2849.7 1922.7,2848.9 1924.7,2848.0 1926.7,2847.2 1928.8,2846.3 1930.8,2845.5 1932.8,2844.6 1934.9,2843.8 1936.9,2842.9 1938.9,2842.1 1941.0,2841.3 1943.0,2840.4 1945.0,2839.6 1947.1,2838.7 1949.1,2837.9 1951.1,2837.1 1953.1,2836.2 1955.2,2835.4 1957.2,2834.6 1959.2,2833.7 1961.3,2832.9 1963.3,2832.1 1965.3,2831.3 1967.4,2830.4 1969.4,2829.6 1971.4,2828.8 1973.5,2828.0 1975.5,2827.2" fill="none" stroke="#FF14A0" stroke-width="11.6" stroke-linejoin="round" stroke-linecap="butt" shape-rendering="crispEdges"/>
</g>
<g font-family="Liberation Serif, serif" font-size="80" fill="#262626">
<text x="318.5" y="90.2" text-anchor="end">2.5</text>
<text x="318.5" y="337.2" text-anchor="end">2.0</text>
<text x="318.5" y="584.2" text-anchor="end">1.5</text>
<text x="318.5" y="831.2" text-anchor="end">1.0</text>
<text x="318.5" y="1078.2" text-anchor="end">0.5</text>
<text x="318.5" y="1325.2" text-anchor="end">0.0</text>
<text x="318.5" y="1572.2" text-anchor="end">-0.5</text>
<text x="318.5" y="1819.2" text-anchor="end">-1.0</text>
<text x="318.5" y="2120.3" text-anchor="end">0.8</text>
<text x="318.5" y="2408.5" text-anchor="end">0.6</text>
<text x="318.5" y="2696.6" text-anchor="end">0.4</text>
<text x="318.5" y="2984.8" text-anchor="end">0.2</text>
<text x="318.5" y="3273.0" text-anchor="end">0.0</text>
<text x="318.5" y="3561.1" text-anchor="end">-0.2</text>
<text x="318.5" y="3849.3" text-anchor="end">-0.4</text>
<text x="349.5" y="1892.8" text-anchor="middle">0</text>
<text x="674.6" y="1892.8" text-anchor="middle">0.2</text>
<text x="999.7" y="1892.8" text-anchor="middle">0.4</text>
<text x="1324.8" y="1892.8" text-anchor="middle">0.6</text>
<text x="1649.9" y="1892.8" text-anchor="middle">0.8</text>
<text x="1975.0" y="1892.8" text-anchor="middle">1</text>
<text x="349.5" y="3923.0" text-anchor="middle">0</text>
<text x="674.6" y="3923.0" text-anchor="middle">0.2</text>
<text x="999.7" y="3923.0" text-anchor="middle">0.4</text>
<text x="1324.8" y="3923.0" text-anchor="middle">0.6</text>
<text x="1649.9" y="3923.0" text-anchor="middle">0.8</text>
<text x="1975.0" y="3923.0" text-anchor="middle">1</text>
</g>
<text x="857.3" y="2008.0" font-family="Liberation Serif, serif" font-size="100" fill="#262626">Dimless time</text>
<text transform="matrix(1.2983 0 0 0.8611 1414.14 2008.14)" font-family="Liberation Sans, sans-serif" font-size="100" font-style="italic" font-weight="normal" fill="#262626" stroke="#fff" stroke-width="0.8">τ</text>
<text x="857.3" y="4037.5" font-family="Liberation Serif, serif" font-size="100" fill="#262626">Dimless time</text>
<text transform="matrix(1.2983 0 0 0.8611 1414.14 4037.64)" font-family="Liberation Sans, sans-serif" font-size="100" font-style="italic" font-weight="normal" fill="#262626" stroke="#fff" stroke-width="0.8">τ</text>
<g transform="translate(0 1114) rotate(-90)">
<text transform="matrix(1.0382 0 0 0.9872 -2.42 133.81)" font-family="Liberation Serif, serif" font-size="100" font-style="italic" font-weight="normal" fill="#262626">w</text>
<text transform="matrix(0.7026 0 0 0.9857 25.67 148.59)" font-family="Liberation Serif, serif" font-size="100" font-style="normal" font-weight="normal" fill="#262626">¯</text>
<text transform="matrix(0.9078 0 0 1.1170 78.07 135.44)" font-family="Liberation Serif, serif" font-size="100" font-style="normal" font-weight="normal" fill="#262626">(</text>
<text transform="matrix(1.0404 0 0 1.0477 110.48 134.00)" font-family="Liberation Serif, serif" font-size="100" font-style="normal" font-weight="normal" fill="#262626">L</text>
<text transform="matrix(1.5470 0 0 1.5373 176.80 158.46)" font-family="Liberation Serif, serif" font-size="100" font-style="normal" font-weight="normal" fill="#262626" stroke="#fff" stroke-width="1.3">/</text>
<text transform="matrix(1.0250 0 0 1.0176 223.76 134.00)" font-family="Liberation Serif, serif" font-size="100" font-style="normal" font-weight="normal" fill="#262626">2</text>
<text transform="matrix(0.8067 0 0 1.1688 278.34 135.58)" font-family="Liberation Serif, serif" font-size="100" font-style="normal" font-weight="normal" fill="#262626">,</text>
<text transform="matrix(1.2038 0 0 1.0988 301.50 133.90)" font-family="Liberation Serif, serif" font-size="100" font-style="normal" font-weight="normal" fill="#262626">t</text>
<text transform="matrix(0.9779 0 0 1.1170 341.34 135.44)" font-family="Liberation Serif, serif" font-size="100" font-style="normal" font-weight="normal" fill="#262626">)</text>
</g>
<g transform="translate(0 3144) rotate(-90)">
<text transform="matrix(1.0382 0 0 0.9872 -2.42 133.81)" font-family="Liberation Serif, serif" font-size="100" font-style="italic" font-weight="normal" fill="#262626">w</text>
<text transform="matrix(0.7026 0 0 0.9857 25.67 148.59)" font-family="Liberation Serif, serif" font-size="100" font-style="normal" font-weight="normal" fill="#262626">¯</text>
<text transform="matrix(0.9078 0 0 1.1170 78.07 135.44)" font-family="Liberation Serif, serif" font-size="100" font-style="normal" font-weight="normal" fill="#262626">(</text>
<text transform="matrix(1.0404 0 0 1.0477 110.48 134.00)" font-family="Liberation Serif, serif" font-size="100" font-style="normal" font-weight="normal" fill="#262626">L</text>
<text transform="matrix(1.5470 0 0 1.5373 176.80 158.46)" font-family="Liberation Serif, serif" font-size="100" font-style="normal" font-weight="normal" fill="#262626" stroke="#fff" stroke-width="1.3">/</text>
<text transform="matrix(1.0250 0 0 1.0176 223.76 134.00)" font-family="Liberation Serif, serif" font-size="100" font-style="normal" font-weight="normal" fill="#262626">2</text>
<text transform="matrix(0.8067 0 0 1.1688 278.34 135.58)" font-family="Liberation Serif, serif" font-size="100" font-style="normal" font-weight="normal" fill="#262626">,</text>
<text transform="matrix(1.2038 0 0 1.0988 301.50 133.90)" font-family="Liberation Serif, serif" font-size="100" font-style="normal" font-weight="normal" fill="#262626">t</text>
<text transform="matrix(0.9779 0 0 1.1170 341.34 135.44)" font-family="Liberation Serif, serif" font-size="100" font-style="normal" font-weight="normal" fill="#262626">)</text>
</g>
<rect x="378.5" y="95.5" width="389" height="166" fill="#fff" stroke="#000" stroke-width="9" shape-rendering="crispEdges"/>
<text x="420.1" y="213.8" font-family="Liberation Serif, serif" font-weight="bold" font-size="100.48" fill="#000">(a) CL</text>
<rect x="372.5" y="2111.5" width="397" height="166.5" fill="#fff" stroke="#000" stroke-width="9" shape-rendering="crispEdges"/>
<text x="414.3" y="2230.5" font-family="Liberation Serif, serif" font-weight="bold" font-size="100.66" fill="#000">(b) CS</text>
<rect x="767.5" y="1357.5" width="787" height="392" fill="#fff" stroke="#262626" stroke-width="13" shape-rendering="crispEdges"/>
<rect x="791" y="1424" width="68" height="12" fill="#000000" shape-rendering="crispEdges"/>
<text transform="matrix(1.0372 0 0 0.9681 878.42 1454.83)" font-family="Liberation Serif, serif" font-size="100" font-style="italic" font-weight="normal" fill="#000" stroke="#000" stroke-width="1.2">v</text>
<text transform="matrix(0.6968 0 0 0.9643 888.86 1467.26)" font-family="Liberation Serif, serif" font-size="100" font-style="normal" font-weight="normal" fill="#000">¯</text>
<text transform="matrix(1.4764 0 0 1.1800 926.42 1466.69)" font-family="Liberation Serif, serif" font-size="100" font-style="normal" font-weight="normal" fill="#000" stroke="#fff" stroke-width="1.1">=</text>
<text transform="matrix(1.0300 0 0 1.0173 1007.52 1454.78)" font-family="Liberation Serif, serif" font-size="100" fill="#000" stroke="#000" stroke-width="1.2">0.1</text>
<rect x="791" y="1547" width="68" height="12" fill="#D95319" shape-rendering="crispEdges"/>
<text transform="matrix(1.0372 0 0 0.9681 878.42 1577.83)" font-family="Liberation Serif, serif" font-size="100" font-style="italic" font-weight="normal" fill="#000" stroke="#000" stroke-width="1.2">v</text>
<text transform="matrix(0.6968 0 0 0.9643 888.86 1590.26)" font-family="Liberation Serif, serif" font-size="100" font-style="normal" font-weight="normal" fill="#000">¯</text>
<text transform="matrix(1.4764 0 0 1.1800 926.42 1589.69)" font-family="Liberation Serif, serif" font-size="100" font-style="normal" font-weight="normal" fill="#000" stroke="#fff" stroke-width="1.1">=</text>
<text transform="matrix(1.0300 0 0 1.0173 1007.52 1577.78)" font-family="Liberation Serif, serif" font-size="100" fill="#000" stroke="#000" stroke-width="1.2">0.2</text>
<rect x="791" y="1671" width="68" height="12" fill="#0072BD" shape-rendering="crispEdges"/>
<text transform="matrix(1.0372 0 0 0.9681 878.42 1701.83)" font-family="Liberation Serif, serif" font-size="100" font-style="italic" font-weight="normal" fill="#000" stroke="#000" stroke-width="1.2">v</text>
<text transform="matrix(0.6968 0 0 0.9643 888.86 1714.26)" font-family="Liberation Serif, serif" font-size="100" font-style="normal" font-weight="normal" fill="#000">¯</text>
<text transform="matrix(1.4764 0 0 1.1800 926.42 1713.69)" font-family="Liberation Serif, serif" font-size="100" font-style="normal" font-weight="normal" fill="#000" stroke="#fff" stroke-width="1.1">=</text>
<text transform="matrix(1.0300 0 0 1.0173 1007.52 1701.78)" font-family="Liberation Serif, serif" font-size="100" fill="#000" stroke="#000" stroke-width="1.2">0.4</text>
<rect x="1184.8" y="1424" width="68" height="12" fill="#0AFFFF" shape-rendering="crispEdges"/>
<text transform="matrix(1.0372 0 0 0.9681 1272.22 1454.83)" font-family="Liberation Serif, serif" font-size="100" font-style="italic" font-weight="normal" fill="#000" stroke="#000" stroke-width="1.2">v</text>
<text transform="matrix(0.6968 0 0 0.9643 1282.66 1467.26)" font-family="Liberation Serif, serif" font-size="100" font-style="normal" font-weight="normal" fill="#000">¯</text>
<text transform="matrix(1.4764 0 0 1.1800 1320.22 1466.69)" font-family="Liberation Serif, serif" font-size="100" font-style="normal" font-weight="normal" fill="#000" stroke="#fff" stroke-width="1.1">=</text>
<text transform="matrix(1.0300 0 0 1.0173 1401.32 1454.78)" font-family="Liberation Serif, serif" font-size="100" fill="#000" stroke="#000" stroke-width="1.2">0.6</text>
<rect x="1184.8" y="1547" width="68" height="12" fill="#EDB120" shape-rendering="crispEdges"/>
<text transform="matrix(1.0372 0 0 0.9681 1272.22 1577.83)" font-family="Liberation Serif, serif" font-size="100" font-style="italic" font-weight="normal" fill="#000" stroke="#000" stroke-width="1.2">v</text>
<text transform="matrix(0.6968 0 0 0.9643 1282.66 1590.26)" font-family="Liberation Serif, serif" font-size="100" font-style="normal" font-weight="normal" fill="#000">¯</text>
<text transform="matrix(1.4764 0 0 1.1800 1320.22 1589.69)" font-family="Liberation Serif, serif" font-size="100" font-style="normal" font-weight="normal" fill="#000" stroke="#fff" stroke-width="1.1">=</text>
<text transform="matrix(1.0300 0 0 1.0173 1401.32 1577.78)" font-family="Liberation Serif, serif" font-size="100" fill="#000" stroke="#000" stroke-width="1.2">0.8</text>
<rect x="1184.8" y="1671" width="68" height="12" fill="#FF14A0" shape-rendering="crispEdges"/>
<text transform="matrix(1.0372 0 0 0.9681 1272.22 1701.83)" font-family="Liberation Serif, serif" font-size="100" font-style="italic" font-weight="normal" fill="#000" stroke="#000" stroke-width="1.2">v</text>
<text transform="matrix(0.6968 0 0 0.9643 1282.66 1714.26)" font-family="Liberation Serif, serif" font-size="100" font-style="normal" font-weight="normal" fill="#000">¯</text>
<text transform="matrix(1.4764 0 0 1.1800 1320.22 1713.69)" font-family="Liberation Serif, serif" font-size="100" font-style="normal" font-weight="normal" fill="#000" stroke="#fff" stroke-width="1.1">=</text>
<text transform="matrix(1.0300 0 0 1.0173 1401.32 1701.78)" font-family="Liberation Serif, serif" font-size="100" fill="#000" stroke="#000" stroke-width="1.2">2.0</text>
<rect x="767.5" y="3377.0" width="787" height="392" fill="#fff" stroke="#262626" stroke-width="13" shape-rendering="crispEdges"/>
<rect x="791" y="3444" width="68" height="12" fill="#000000" shape-rendering="crispEdges"/>
<text transform="matrix(1.0372 0 0 0.9681 878.42 3474.33)" font-family="Liberation Serif, serif" font-size="100" font-style="italic" font-weight="normal" fill="#000" stroke="#000" stroke-width="1.2">v</text>
<text transform="matrix(0.6968 0 0 0.9643 888.86 3486.76)" font-family="Liberation Serif, serif" font-size="100" font-style="normal" font-weight="normal" fill="#000">¯</text>
<text transform="matrix(1.4764 0 0 1.1800 926.42 3486.19)" font-family="Liberation Serif, serif" font-size="100" font-style="normal" font-weight="normal" fill="#000" stroke="#fff" stroke-width="1.1">=</text>
<text transform="matrix(1.0300 0 0 1.0173 1007.52 3474.28)" font-family="Liberation Serif, serif" font-size="100" fill="#000" stroke="#000" stroke-width="1.2">0.1</text>
<rect x="791" y="3566" width="68" height="12" fill="#D95319" shape-rendering="crispEdges"/>
<text transform="matrix(1.0372 0 0 0.9681 878.42 3597.33)" font-family="Liberation Serif, serif" font-size="100" font-style="italic" font-weight="normal" fill="#000" stroke="#000" stroke-width="1.2">v</text>
<text transform="matrix(0.6968 0 0 0.9643 888.86 3609.76)" font-family="Liberation Serif, serif" font-size="100" font-style="normal" font-weight="normal" fill="#000">¯</text>
<text transform="matrix(1.4764 0 0 1.1800 926.42 3609.19)" font-family="Liberation Serif, serif" font-size="100" font-style="normal" font-weight="normal" fill="#000" stroke="#fff" stroke-width="1.1">=</text>
<text transform="matrix(1.0300 0 0 1.0173 1007.52 3597.28)" font-family="Liberation Serif, serif" font-size="100" fill="#000" stroke="#000" stroke-width="1.2">0.2</text>
<rect x="791" y="3690" width="68" height="12" fill="#0072BD" shape-rendering="crispEdges"/>
<text transform="matrix(1.0372 0 0 0.9681 878.42 3721.33)" font-family="Liberation Serif, serif" font-size="100" font-style="italic" font-weight="normal" fill="#000" stroke="#000" stroke-width="1.2">v</text>
<text transform="matrix(0.6968 0 0 0.9643 888.86 3733.76)" font-family="Liberation Serif, serif" font-size="100" font-style="normal" font-weight="normal" fill="#000">¯</text>
<text transform="matrix(1.4764 0 0 1.1800 926.42 3733.19)" font-family="Liberation Serif, serif" font-size="100" font-style="normal" font-weight="normal" fill="#000" stroke="#fff" stroke-width="1.1">=</text>
<text transform="matrix(1.0300 0 0 1.0173 1007.52 3721.28)" font-family="Liberation Serif, serif" font-size="100" fill="#000" stroke="#000" stroke-width="1.2">0.4</text>
<rect x="1184.8" y="3444" width="68" height="12" fill="#0AFFFF" shape-rendering="crispEdges"/>
<text transform="matrix(1.0372 0 0 0.9681 1272.22 3474.33)" font-family="Liberation Serif, serif" font-size="100" font-style="italic" font-weight="normal" fill="#000" stroke="#000" stroke-width="1.2">v</text>
<text transform="matrix(0.6968 0 0 0.9643 1282.66 3486.76)" font-family="Liberation Serif, serif" font-size="100" font-style="normal" font-weight="normal" fill="#000">¯</text>
<text transform="matrix(1.4764 0 0 1.1800 1320.22 3486.19)" font-family="Liberation Serif, serif" font-size="100" font-style="normal" font-weight="normal" fill="#000" stroke="#fff" stroke-width="1.1">=</text>
<text transform="matrix(1.0300 0 0 1.0173 1401.32 3474.28)" font-family="Liberation Serif, serif" font-size="100" fill="#000" stroke="#000" stroke-width="1.2">0.6</text>
<rect x="1184.8" y="3566" width="68" height="12" fill="#EDB120" shape-rendering="crispEdges"/>
<text transform="matrix(1.0372 0 0 0.9681 1272.22 3597.33)" font-family="Liberation Serif, serif" font-size="100" font-style="italic" font-weight="normal" fill="#000" stroke="#000" stroke-width="1.2">v</text>
<text transform="matrix(0.6968 0 0 0.9643 1282.66 3609.76)" font-family="Liberation Serif, serif" font-size="100" font-style="normal" font-weight="normal" fill="#000">¯</text>
<text transform="matrix(1.4764 0 0 1.1800 1320.22 3609.19)" font-family="Liberation Serif, serif" font-size="100" font-style="normal" font-weight="normal" fill="#000" stroke="#fff" stroke-width="1.1">=</text>
<text transform="matrix(1.0300 0 0 1.0173 1401.32 3597.28)" font-family="Liberation Serif, serif" font-size="100" fill="#000" stroke="#000" stroke-width="1.2">0.8</text>
<rect x="1184.8" y="3690" width="68" height="12" fill="#FF14A0" shape-rendering="crispEdges"/>
<text transform="matrix(1.0372 0 0 0.9681 1272.22 3721.33)" font-family="Liberation Serif, serif" font-size="100" font-style="italic" font-weight="normal" fill="#000" stroke="#000" stroke-width="1.2">v</text>
<text transform="matrix(0.6968 0 0 0.9643 1282.66 3733.76)" font-family="Liberation Serif, serif" font-size="100" font-style="normal" font-weight="normal" fill="#000">¯</text>
<text transform="matrix(1.4764 0 0 1.1800 1320.22 3733.19)" font-family="Liberation Serif, serif" font-size="100" font-style="normal" font-weight="normal" fill="#000" stroke="#fff" stroke-width="1.1">=</text>
<text transform="matrix(1.0300 0 0 1.0173 1401.32 3721.28)" font-family="Liberation Serif, serif" font-size="100" fill="#000" stroke="#000" stroke-width="1.2">2.0</text>
</svg>
</body></html>
